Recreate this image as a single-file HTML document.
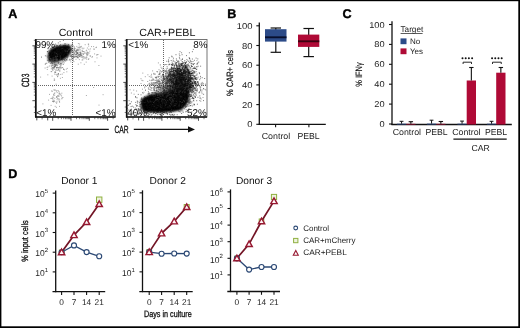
<!DOCTYPE html>
<html><head><meta charset="utf-8"><style>
html,body{margin:0;padding:0;background:#fff;}
body{width:520px;height:328px;overflow:hidden;}
svg{display:block;position:absolute;left:0;top:0;font-family:"Liberation Sans", sans-serif;text-rendering:geometricPrecision;}
#m{filter:blur(0.3px);}
</style></head><body>
<svg id="m" width="520" height="328" viewBox="0 0 520 328">
<rect x="-10" y="-10" width="540" height="348" fill="#fff"/>
<text x="8.3" y="17.7" font-size="12.6" text-anchor="start" font-weight="bold" fill="#000" stroke="#000" stroke-width="0.35">A</text>
<text x="227.3" y="17.7" font-size="12.6" text-anchor="start" font-weight="bold" fill="#000" stroke="#000" stroke-width="0.35">B</text>
<text x="342.6" y="17.7" font-size="12.6" text-anchor="start" font-weight="bold" fill="#000" stroke="#000" stroke-width="0.35">C</text>
<text x="8.3" y="177.7" font-size="12.6" text-anchor="start" font-weight="bold" fill="#000" stroke="#000" stroke-width="0.35">D</text>
<rect x="35.8" y="39.5" width="79.7" height="77.5" fill="none" stroke="#666" stroke-width="0.9"/>
<line x1="35.8" y1="39.1" x2="35.8" y2="117.6" stroke="#111" stroke-width="1.7" />
<line x1="35.199999999999996" y1="117.0" x2="115.5" y2="117.0" stroke="#111" stroke-width="1.3" />
<line x1="72.5" y1="40" x2="72.5" y2="117.0" stroke="#666" stroke-width="1" stroke-dasharray="1,1"/>
<line x1="36" y1="85.5" x2="115.5" y2="85.5" stroke="#666" stroke-width="1" stroke-dasharray="1,1"/>
<line x1="33.8" y1="112.5" x2="35.8" y2="112.5" stroke="#222" stroke-width="0.6" />
<line x1="33.8" y1="107.0" x2="35.8" y2="107.0" stroke="#222" stroke-width="0.6" />
<line x1="32.4" y1="100.7" x2="35.8" y2="100.7" stroke="#222" stroke-width="0.8" />
<line x1="33.8" y1="95.2" x2="35.8" y2="95.2" stroke="#222" stroke-width="0.6" />
<line x1="33.8" y1="92.0" x2="35.8" y2="92.0" stroke="#222" stroke-width="0.6" />
<line x1="33.8" y1="89.7" x2="35.8" y2="89.7" stroke="#222" stroke-width="0.6" />
<line x1="33.8" y1="87.9" x2="35.8" y2="87.9" stroke="#222" stroke-width="0.6" />
<line x1="33.8" y1="86.5" x2="35.8" y2="86.5" stroke="#222" stroke-width="0.6" />
<line x1="33.8" y1="85.2" x2="35.8" y2="85.2" stroke="#222" stroke-width="0.6" />
<line x1="33.8" y1="84.2" x2="35.8" y2="84.2" stroke="#222" stroke-width="0.6" />
<line x1="33.8" y1="83.2" x2="35.8" y2="83.2" stroke="#222" stroke-width="0.6" />
<line x1="32.4" y1="82.4" x2="35.8" y2="82.4" stroke="#222" stroke-width="0.8" />
<line x1="33.8" y1="76.9" x2="35.8" y2="76.9" stroke="#222" stroke-width="0.6" />
<line x1="33.8" y1="73.7" x2="35.8" y2="73.7" stroke="#222" stroke-width="0.6" />
<line x1="33.8" y1="71.4" x2="35.8" y2="71.4" stroke="#222" stroke-width="0.6" />
<line x1="33.8" y1="69.6" x2="35.8" y2="69.6" stroke="#222" stroke-width="0.6" />
<line x1="33.8" y1="68.2" x2="35.8" y2="68.2" stroke="#222" stroke-width="0.6" />
<line x1="33.8" y1="66.9" x2="35.8" y2="66.9" stroke="#222" stroke-width="0.6" />
<line x1="33.8" y1="65.9" x2="35.8" y2="65.9" stroke="#222" stroke-width="0.6" />
<line x1="33.8" y1="64.9" x2="35.8" y2="64.9" stroke="#222" stroke-width="0.6" />
<line x1="32.4" y1="64.1" x2="35.8" y2="64.1" stroke="#222" stroke-width="0.8" />
<line x1="33.8" y1="58.6" x2="35.8" y2="58.6" stroke="#222" stroke-width="0.6" />
<line x1="33.8" y1="55.4" x2="35.8" y2="55.4" stroke="#222" stroke-width="0.6" />
<line x1="33.8" y1="53.1" x2="35.8" y2="53.1" stroke="#222" stroke-width="0.6" />
<line x1="33.8" y1="51.3" x2="35.8" y2="51.3" stroke="#222" stroke-width="0.6" />
<line x1="33.8" y1="49.9" x2="35.8" y2="49.9" stroke="#222" stroke-width="0.6" />
<line x1="33.8" y1="48.6" x2="35.8" y2="48.6" stroke="#222" stroke-width="0.6" />
<line x1="33.8" y1="47.6" x2="35.8" y2="47.6" stroke="#222" stroke-width="0.6" />
<line x1="33.8" y1="46.6" x2="35.8" y2="46.6" stroke="#222" stroke-width="0.6" />
<line x1="32.4" y1="45.8" x2="35.8" y2="45.8" stroke="#222" stroke-width="0.8" />
<line x1="33.8" y1="40.3" x2="35.8" y2="40.3" stroke="#222" stroke-width="0.6" />
<line x1="36.8" y1="117.0" x2="36.8" y2="120.39999999999999" stroke="#222" stroke-width="0.8" />
<line x1="42.1" y1="117.0" x2="42.1" y2="119.39999999999999" stroke="#222" stroke-width="0.6" />
<line x1="47.7" y1="117.0" x2="47.7" y2="120.39999999999999" stroke="#222" stroke-width="0.8" />
<line x1="52.7" y1="117.0" x2="52.7" y2="120.8" stroke="#222" stroke-width="0.8" />
<line x1="58.2" y1="117.0" x2="58.2" y2="119.19999999999999" stroke="#222" stroke-width="0.6" />
<line x1="61.4" y1="117.0" x2="61.4" y2="119.19999999999999" stroke="#222" stroke-width="0.6" />
<line x1="63.7" y1="117.0" x2="63.7" y2="119.19999999999999" stroke="#222" stroke-width="0.6" />
<line x1="65.5" y1="117.0" x2="65.5" y2="119.19999999999999" stroke="#222" stroke-width="0.6" />
<line x1="66.9" y1="117.0" x2="66.9" y2="119.19999999999999" stroke="#222" stroke-width="0.6" />
<line x1="68.2" y1="117.0" x2="68.2" y2="119.19999999999999" stroke="#222" stroke-width="0.6" />
<line x1="69.2" y1="117.0" x2="69.2" y2="119.19999999999999" stroke="#222" stroke-width="0.6" />
<line x1="70.2" y1="117.0" x2="70.2" y2="119.19999999999999" stroke="#222" stroke-width="0.6" />
<line x1="71.0" y1="117.0" x2="71.0" y2="120.8" stroke="#222" stroke-width="0.8" />
<line x1="76.5" y1="117.0" x2="76.5" y2="119.19999999999999" stroke="#222" stroke-width="0.6" />
<line x1="79.7" y1="117.0" x2="79.7" y2="119.19999999999999" stroke="#222" stroke-width="0.6" />
<line x1="82.0" y1="117.0" x2="82.0" y2="119.19999999999999" stroke="#222" stroke-width="0.6" />
<line x1="83.8" y1="117.0" x2="83.8" y2="119.19999999999999" stroke="#222" stroke-width="0.6" />
<line x1="85.2" y1="117.0" x2="85.2" y2="119.19999999999999" stroke="#222" stroke-width="0.6" />
<line x1="86.5" y1="117.0" x2="86.5" y2="119.19999999999999" stroke="#222" stroke-width="0.6" />
<line x1="87.5" y1="117.0" x2="87.5" y2="119.19999999999999" stroke="#222" stroke-width="0.6" />
<line x1="88.5" y1="117.0" x2="88.5" y2="119.19999999999999" stroke="#222" stroke-width="0.6" />
<line x1="89.3" y1="117.0" x2="89.3" y2="120.8" stroke="#222" stroke-width="0.8" />
<line x1="94.8" y1="117.0" x2="94.8" y2="119.19999999999999" stroke="#222" stroke-width="0.6" />
<line x1="98.0" y1="117.0" x2="98.0" y2="119.19999999999999" stroke="#222" stroke-width="0.6" />
<line x1="100.3" y1="117.0" x2="100.3" y2="119.19999999999999" stroke="#222" stroke-width="0.6" />
<line x1="102.1" y1="117.0" x2="102.1" y2="119.19999999999999" stroke="#222" stroke-width="0.6" />
<line x1="103.5" y1="117.0" x2="103.5" y2="119.19999999999999" stroke="#222" stroke-width="0.6" />
<line x1="104.8" y1="117.0" x2="104.8" y2="119.19999999999999" stroke="#222" stroke-width="0.6" />
<line x1="105.8" y1="117.0" x2="105.8" y2="119.19999999999999" stroke="#222" stroke-width="0.6" />
<line x1="106.8" y1="117.0" x2="106.8" y2="119.19999999999999" stroke="#222" stroke-width="0.6" />
<line x1="107.6" y1="117.0" x2="107.6" y2="120.8" stroke="#222" stroke-width="0.8" />
<line x1="113.1" y1="117.0" x2="113.1" y2="119.19999999999999" stroke="#222" stroke-width="0.6" />
<rect x="126.7" y="39.5" width="80.3" height="77.5" fill="none" stroke="#666" stroke-width="0.9"/>
<line x1="126.7" y1="39.1" x2="126.7" y2="117.6" stroke="#111" stroke-width="1.7" />
<line x1="126.10000000000001" y1="117.0" x2="207.0" y2="117.0" stroke="#111" stroke-width="1.3" />
<line x1="163.5" y1="40" x2="163.5" y2="117.0" stroke="#666" stroke-width="1" stroke-dasharray="1,1"/>
<line x1="127" y1="85.5" x2="207.0" y2="85.5" stroke="#666" stroke-width="1" stroke-dasharray="1,1"/>
<line x1="124.7" y1="112.5" x2="126.7" y2="112.5" stroke="#222" stroke-width="0.6" />
<line x1="124.7" y1="107.0" x2="126.7" y2="107.0" stroke="#222" stroke-width="0.6" />
<line x1="123.30000000000001" y1="100.7" x2="126.7" y2="100.7" stroke="#222" stroke-width="0.8" />
<line x1="124.7" y1="95.2" x2="126.7" y2="95.2" stroke="#222" stroke-width="0.6" />
<line x1="124.7" y1="92.0" x2="126.7" y2="92.0" stroke="#222" stroke-width="0.6" />
<line x1="124.7" y1="89.7" x2="126.7" y2="89.7" stroke="#222" stroke-width="0.6" />
<line x1="124.7" y1="87.9" x2="126.7" y2="87.9" stroke="#222" stroke-width="0.6" />
<line x1="124.7" y1="86.5" x2="126.7" y2="86.5" stroke="#222" stroke-width="0.6" />
<line x1="124.7" y1="85.2" x2="126.7" y2="85.2" stroke="#222" stroke-width="0.6" />
<line x1="124.7" y1="84.2" x2="126.7" y2="84.2" stroke="#222" stroke-width="0.6" />
<line x1="124.7" y1="83.2" x2="126.7" y2="83.2" stroke="#222" stroke-width="0.6" />
<line x1="123.30000000000001" y1="82.4" x2="126.7" y2="82.4" stroke="#222" stroke-width="0.8" />
<line x1="124.7" y1="76.9" x2="126.7" y2="76.9" stroke="#222" stroke-width="0.6" />
<line x1="124.7" y1="73.7" x2="126.7" y2="73.7" stroke="#222" stroke-width="0.6" />
<line x1="124.7" y1="71.4" x2="126.7" y2="71.4" stroke="#222" stroke-width="0.6" />
<line x1="124.7" y1="69.6" x2="126.7" y2="69.6" stroke="#222" stroke-width="0.6" />
<line x1="124.7" y1="68.2" x2="126.7" y2="68.2" stroke="#222" stroke-width="0.6" />
<line x1="124.7" y1="66.9" x2="126.7" y2="66.9" stroke="#222" stroke-width="0.6" />
<line x1="124.7" y1="65.9" x2="126.7" y2="65.9" stroke="#222" stroke-width="0.6" />
<line x1="124.7" y1="64.9" x2="126.7" y2="64.9" stroke="#222" stroke-width="0.6" />
<line x1="123.30000000000001" y1="64.1" x2="126.7" y2="64.1" stroke="#222" stroke-width="0.8" />
<line x1="124.7" y1="58.6" x2="126.7" y2="58.6" stroke="#222" stroke-width="0.6" />
<line x1="124.7" y1="55.4" x2="126.7" y2="55.4" stroke="#222" stroke-width="0.6" />
<line x1="124.7" y1="53.1" x2="126.7" y2="53.1" stroke="#222" stroke-width="0.6" />
<line x1="124.7" y1="51.3" x2="126.7" y2="51.3" stroke="#222" stroke-width="0.6" />
<line x1="124.7" y1="49.9" x2="126.7" y2="49.9" stroke="#222" stroke-width="0.6" />
<line x1="124.7" y1="48.6" x2="126.7" y2="48.6" stroke="#222" stroke-width="0.6" />
<line x1="124.7" y1="47.6" x2="126.7" y2="47.6" stroke="#222" stroke-width="0.6" />
<line x1="124.7" y1="46.6" x2="126.7" y2="46.6" stroke="#222" stroke-width="0.6" />
<line x1="123.30000000000001" y1="45.8" x2="126.7" y2="45.8" stroke="#222" stroke-width="0.8" />
<line x1="124.7" y1="40.3" x2="126.7" y2="40.3" stroke="#222" stroke-width="0.6" />
<line x1="127.7" y1="117.0" x2="127.7" y2="120.39999999999999" stroke="#222" stroke-width="0.8" />
<line x1="133.0" y1="117.0" x2="133.0" y2="119.39999999999999" stroke="#222" stroke-width="0.6" />
<line x1="138.6" y1="117.0" x2="138.6" y2="120.39999999999999" stroke="#222" stroke-width="0.8" />
<line x1="143.6" y1="117.0" x2="143.6" y2="120.8" stroke="#222" stroke-width="0.8" />
<line x1="149.1" y1="117.0" x2="149.1" y2="119.19999999999999" stroke="#222" stroke-width="0.6" />
<line x1="152.3" y1="117.0" x2="152.3" y2="119.19999999999999" stroke="#222" stroke-width="0.6" />
<line x1="154.6" y1="117.0" x2="154.6" y2="119.19999999999999" stroke="#222" stroke-width="0.6" />
<line x1="156.4" y1="117.0" x2="156.4" y2="119.19999999999999" stroke="#222" stroke-width="0.6" />
<line x1="157.8" y1="117.0" x2="157.8" y2="119.19999999999999" stroke="#222" stroke-width="0.6" />
<line x1="159.1" y1="117.0" x2="159.1" y2="119.19999999999999" stroke="#222" stroke-width="0.6" />
<line x1="160.1" y1="117.0" x2="160.1" y2="119.19999999999999" stroke="#222" stroke-width="0.6" />
<line x1="161.1" y1="117.0" x2="161.1" y2="119.19999999999999" stroke="#222" stroke-width="0.6" />
<line x1="161.9" y1="117.0" x2="161.9" y2="120.8" stroke="#222" stroke-width="0.8" />
<line x1="167.4" y1="117.0" x2="167.4" y2="119.19999999999999" stroke="#222" stroke-width="0.6" />
<line x1="170.6" y1="117.0" x2="170.6" y2="119.19999999999999" stroke="#222" stroke-width="0.6" />
<line x1="172.9" y1="117.0" x2="172.9" y2="119.19999999999999" stroke="#222" stroke-width="0.6" />
<line x1="174.7" y1="117.0" x2="174.7" y2="119.19999999999999" stroke="#222" stroke-width="0.6" />
<line x1="176.1" y1="117.0" x2="176.1" y2="119.19999999999999" stroke="#222" stroke-width="0.6" />
<line x1="177.4" y1="117.0" x2="177.4" y2="119.19999999999999" stroke="#222" stroke-width="0.6" />
<line x1="178.4" y1="117.0" x2="178.4" y2="119.19999999999999" stroke="#222" stroke-width="0.6" />
<line x1="179.4" y1="117.0" x2="179.4" y2="119.19999999999999" stroke="#222" stroke-width="0.6" />
<line x1="180.2" y1="117.0" x2="180.2" y2="120.8" stroke="#222" stroke-width="0.8" />
<line x1="185.7" y1="117.0" x2="185.7" y2="119.19999999999999" stroke="#222" stroke-width="0.6" />
<line x1="188.9" y1="117.0" x2="188.9" y2="119.19999999999999" stroke="#222" stroke-width="0.6" />
<line x1="191.2" y1="117.0" x2="191.2" y2="119.19999999999999" stroke="#222" stroke-width="0.6" />
<line x1="193.0" y1="117.0" x2="193.0" y2="119.19999999999999" stroke="#222" stroke-width="0.6" />
<line x1="194.4" y1="117.0" x2="194.4" y2="119.19999999999999" stroke="#222" stroke-width="0.6" />
<line x1="195.7" y1="117.0" x2="195.7" y2="119.19999999999999" stroke="#222" stroke-width="0.6" />
<line x1="196.7" y1="117.0" x2="196.7" y2="119.19999999999999" stroke="#222" stroke-width="0.6" />
<line x1="197.7" y1="117.0" x2="197.7" y2="119.19999999999999" stroke="#222" stroke-width="0.6" />
<line x1="198.5" y1="117.0" x2="198.5" y2="120.8" stroke="#222" stroke-width="0.8" />
<line x1="204.0" y1="117.0" x2="204.0" y2="119.19999999999999" stroke="#222" stroke-width="0.6" />
<defs><filter id="bl1" x="-50%" y="-50%" width="200%" height="200%"><feGaussianBlur stdDeviation="0.9"/></filter><clipPath id="cp1"><rect x="35.7" y="40" width="79.5" height="77"/></clipPath><clipPath id="cp2"><rect x="127.2" y="40" width="79.5" height="77"/></clipPath></defs>
<g clip-path="url(#cp1)">
<path d="M47.8 56 C47.8 52 50.5 48.5 55 46.8 C60 45 66 44.3 69.5 45.2 C72 46.2 72 50 70 54 C68 57.5 63.5 60 57.5 61.8 C53 63 49.5 62.5 48.3 60.5 C47.8 59 47.8 57.5 47.8 56 Z" fill="#000" filter="url(#bl1)"/>
<path d="M59.9 54.6h0m-3 -4h0m-1 -0.1h0m5.6 8h0m-5.4 -6.5h0m6.4 2h0m-3.6 -4.2h0m1.3 6.4h0m-8.4 -2.1h0m-4 -2.2h0m1.6 3.9h0m3.7 0.9h0m7 -4.2h0m-14.7 3.3h0m14 -1.8h0m-8.6 0.3h0m2.5 -2.2h0m10.9 -3.5h0m-3.8 8.3h0m-4.1 -2.8h0m3.9 -0.5h0m-7.1 2.3h0m11.7 -10.6h0m-0.6 7.2h0m-5.6 9.7h0m3.5 -14.6h0m-1.5 8h0m-1.3 0.8h0m0.7 -0.2h0m6.3 -7.8h0m-6.3 3h0m-1.3 -2.6h0m-2.5 5h0m9.5 2.5h0m-14.2 -3.5h0m9 -8h0m-3.6 9.1h0m10.1 0h0m-9.7 -1.2h0m2.8 7h0m-3.3 -6.6h0m4.4 -0.7h0m-4.1 -2.8h0m1.8 2.2h0m7.6 2.2h0m-6.3 2.1h0m-1.2 2h0m1.2 -2.4h0m-7.1 1.4h0m-5.1 -8.4h0m8.8 1.9h0m6.3 11.2h0m-8.8 -9.2h0m6.9 2.4h0m-2.9 -2h0m5.6 1.3h0m-10 0.7h0m4.5 -5.6h0m1.4 0.4h0m5.1 2.8h0m-5.7 -1.5h0m-2.8 -5h0m-2.5 10.7h0m-4.7 3.6h0m1.9 -1h0m4.9 -1.5h0m2.3 -10.5h0m9.6 9.4h0m-9.1 -4.2h0m-1.4 -2.5h0m7.3 -0.6h0m-6.5 1.1h0m-3.6 -0.9h0m11.4 1h0m-1.3 1.2h0m-9.3 1.6h0m1.1 1h0m0.6 -1.5h0m-5.9 -0.2h0m16.3 -4.7h0m-13.2 8.5h0m10.9 -11.1h0m-7.6 6h0m-6.6 7.8h0m8.5 -5.5h0m-3.4 2.7h0m0.4 -2.6h0m-4.4 -3.1h0m13.9 -1.5h0m-5 3.6h0m-4.5 -0.6h0m6 -1h0m-3.8 2.5h0m7.9 0.3h0m-5.8 -3.4h0m-7.5 8.8h0m11.2 -8.2h0m-1.1 4.2h0m1.7 0.1h0m-6.2 4.5h0m-5 -1.2h0m9.3 -2.9h0m8.1 -0.1h0m-20 -6.8h0m11.3 -0.9h0m-2.1 8.5h0m-12.4 -8.4h0m12.8 4.9h0m-2.7 0.9h0m-5.2 -4.9h0m4.4 0.9h0m-6 8.2h0m8.3 -3.1h0m-6.3 -2.5h0m-0.3 -0.8h0m6.5 -1.7h0m2.2 4h0m6.8 -9.5h0m-4.5 6.9h0m-6.5 -3.6h0m0.4 9.1h0m1.2 -3.1h0m0.2 4.4h0m-2.7 -13.2h0m-3.3 2h0m-11.9 9.9h0m25.2 -5.7h0m-14.6 0.6h0m13.6 0.1h0m-6 1.1h0m1 3.3h0m2 -3.1h0m-8.1 3.8h0m2.6 1.6h0m-4.6 -3.6h0m5.2 -6.7h0m12.7 7.6h0m-12.5 1.1h0m0.3 -14.3h0m2.5 9.9h0m-2.2 -3.5h0m-0.8 4h0m8.4 -0.6h0m-4.8 6.6h0m-5.3 -6.3h0m-4.3 9.6h0m14 -7.3h0m-2.6 -2.5h0m-2.9 -0.6h0m-1.8 1.9h0m9.7 -1.1h0m-9.7 -1.6h0m-0.4 9.3h0m4.2 -7.8h0m-6 -3h0m3.9 7h0m-3.1 -3.6h0m1.4 1h0m-7.8 1.1h0m5.3 2.9h0m0.1 -1.3h0m11.1 -7.3h0m-10.7 5.6h0m1.8 -5.6h0m6.1 10.7h0m-6.5 -7.2h0m-3.6 3.3h0m-2.8 -5.1h0m13.7 -3.6h0m1.9 9.6h0m-5.5 -2.2h0m8.1 -5.8h0m-15 0h0m6.9 9.7h0m1.8 -10.8h0m-9.1 4.8h0m6.5 -0.9h0m0.2 2.1h0m-3.1 -0.4h0m2.6 -1.1h0m4 6.9h0m-1.8 -7h0m-11.7 5.2h0m-3.6 -6.4h0m17.5 3.2h0m-8.3 -7.4h0m0.1 4.3h0m9 9.4h0m-6 -10.8h0m-6.5 5.1h0m3.9 -5.9h0m1.6 -0.5h0m8 6.7h0m-2 -5.8h0m-2.6 2.3h0m-5.1 0.8h0m-6.2 -2.6h0m12.7 1.1h0m-1.6 5.5h0m-12.6 -3.4h0m11.6 1.2h0m-2.1 3.4h0m0.3 -9.6h0m-3.6 9.7h0m4.1 -12.7h0m7.8 7.9h0m-1.2 -3.7h0m-9.7 0h0m16.3 -1.3h0m-5.6 -0.1h0m-8.9 -1.4h0m0.4 11h0m-4.5 1.8h0m5.8 -10.8h0m-3.7 3.7h0m2.3 -1.1h0m-3.9 2.3h0m-2.3 -3.4h0m7.9 6.5h0m-8.9 -0.7h0m3.4 -5.3h0m8.6 -0.8h0m3.1 -2.2h0m-5.2 4.1h0m-5.1 5h0m3.2 -0.9h0m-1.5 -6.6h0m1.1 4.4h0m4.5 -5.5h0m-6.3 -1.4h0m4.4 1.3h0m-11.8 8.1h0m13.7 -10.6h0m-10.7 6.8h0m1.2 4.3h0m0.3 -4.7h0m7.4 -2.6h0m-1.1 -0.5h0m-9.8 -0.5h0m18.2 0.5h0m-8.2 3.9h0m-0.4 0.4h0m8 -7.2h0m-18.4 6.1h0m3.3 6.4h0m9.4 -10.3h0m-11 6.2h0m11.7 -14.2h0m-2.4 8.1h0m2.7 -0.9h0m-7.6 0.7h0m-0.1 12.2h0m7.4 -9.9h0m-10.9 -2.8h0m4.9 6.3h0m1.5 -0.8h0m-5.5 1.9h0m7.5 3.3h0m8.4 -8.8h0m-14 4.9h0m0 -2.9h0m2.6 -2.1h0m4.7 2.5h0m-2 0.3h0m-6.1 -1.2h0m3.1 0.6h0m3.1 1.3h0m-8.4 3h0m-0.7 -2.6h0m3.8 -7.4h0m4.8 7.8h0m-2.1 -1.7h0m-1.8 -1.8h0m1.1 1.5h0m1.1 -3.1h0m2.4 4.8h0m-2.7 -1.5h0m2.2 -5.9h0m1.9 7.4h0m-0.8 0.9h0m-5.8 -0.9h0m7.7 0.4h0m-4.7 -6.6h0m5.1 9.6h0m1.4 -4.4h0m-12.8 7.2h0m3.2 -15.7h0m4.1 3.1h0m-7.9 6.1h0m14 -3.4h0m-2.7 9.8h0m4.8 -9.4h0m-11.2 -1.2h0m-0.4 7.2h0m5.4 -3.1h0m2.1 -4.4h0m-3.7 7.6h0m3.8 0.2h0m-2.7 -5h0m-1 -2.5h0m-8.7 9.4h0m8.1 -3.7h0m-9.6 0.2h0m5.2 -3.7h0m-8.1 4.8h0m17.6 -2.7h0m-8.4 1.1h0m3.8 -12.8h0m-0.6 14.1h0m5.7 3h0m0.7 -6.1h0m-3.8 3.3h0m-5.5 -1.7h0m10.1 5.1h0m-8.1 -5.8h0m3.6 4.7h0m-1 0.8h0m-7.1 -4.6h0m5.3 2.3h0m3.8 -10.9h0m-8.2 10.5h0m-0.9 -7.6h0m11.5 4.8h0m-4.1 -2.8h0m3.2 0h0m-0.5 -2.7h0m-9 7.7h0m1.4 1.5h0m3.1 -7.8h0m-0.2 2.5h0m4.1 -2.5h0m-4.9 9.4h0m15.2 -1.7h0m-13.8 -3h0m7.4 -3.8h0m-13.1 5.2h0m6.5 -6h0m-11.9 1.3h0m13.1 -1.4h0m-3.1 5.1h0m3.4 -3.4h0m-1.3 -1.9h0m-4.8 0.9h0m9.2 1.2h0m-10.4 2h0m4.1 3.1h0m-9.5 -4.2h0m10.9 11.5h0m3.9 -12.4h0m1.3 8.7h0m-8 -7.6h0m8.8 0.8h0m-4.2 -2.9h0m9.5 6.3h0m-8.5 -1.6h0m-13.9 4.3h0m9.5 -3.9h0m3.7 -4.5h0m-11.7 6.8h0m4.1 -4.3h0m0.8 -0.3h0m-7.2 8.9h0m13.5 -4.8h0m7.9 -7.1h0m-21.3 3h0m3.7 0.5h0m4.9 -8h0m2.1 1.5h0m1.4 5.4h0m-3.2 1.2h0m-1.8 -1.7h0m-5.4 4.2h0m21.3 1.5h0m-4.4 -3.9h0m-9.7 6.3h0m1.4 -6.9h0m-1 1.1h0m-1 -0.5h0m-3.8 0.1h0m18.3 -4.7h0m-12.7 6.6h0m3 -7.9h0m-2.4 9.4h0m1.6 -3.9h0m5.8 -5.3h0m-7.6 3.2h0m5.7 -7.9h0m-9.7 9.1h0m8.5 2.1h0m1.2 -9.6h0m-1.9 6h0m-6.5 5.6h0m-4.6 -9.5h0m3.7 1.2h0m0.8 7.6h0m6.6 3h0m-6.6 -11h0m-2.2 3.3h0m-0.7 6h0m0 -10.2h0m9.5 4.8h0m-1.6 1.4h0m1.4 -0.7h0m3.7 0.4h0m-4.5 1.4h0m-10.6 1h0m6.9 -0.7h0m-4.1 7.4h0m4.3 -13.4h0m-8.5 6.7h0m8 -4.5h0m1.1 0h0m2.3 -1.1h0m-1 7.5h0m11.5 -12.1h0m-16 5.9h0m6.3 -3.3h0m-5.4 6.4h0m-3.8 -2.6h0m1.3 -5.3h0m-3.1 8.1h0m8.8 -1.9h0m-10.6 2.3h0m14.9 -0.6h0m-6.4 -3.9h0m4.1 -0.1h0m-9.8 2.3h0m15.2 -0.7h0m-2.4 -2.1h0m-1.3 -0.1h0m-2.1 13.6h0m1.3 -12.9h0m-3.5 4.6h0m5.8 -5.4h0m-15.4 5.9h0m9.8 -1.5h0m7.2 -1.5h0m-4.4 -4.5h0m4.2 12.1h0m-2.8 -6.9h0m-1.4 6.9h0m-8.1 -5.3h0m8.5 0.8h0m-5.3 -0.1h0m0.6 -1h0m-0.8 -5h0m3.1 7.5h0m-6.4 -2.6h0m7.6 -6h0m-2.5 0.9h0" stroke="#111" stroke-width="0.55" stroke-linecap="square" fill="none"/>
<path d="M62 67.7h0m-1.4 -9.4h0m-3.8 3.6h0m0.3 5.6h0m-5.8 1.3h0m5 -1.4h0m-2.8 -6.8h0m2.7 4.1h0m-1.2 -0.3h0m-6.5 -6.8h0m9.8 5.7h0m-3.7 -0.4h0m2.2 -3.4h0m-5.6 4.3h0m4.5 -7.4h0m1.3 2.3h0m-4.6 10.3h0m-1 -9.7h0m3 7.2h0m3 -7.2h0m-0.7 5.1h0m-4.3 1h0m0.6 -4h0m-0.6 2.8h0m0.7 -3h0m1.4 6h0m1.8 -1.9h0m2.9 -2.9h0m1.2 -6.4h0m-4.2 4.4h0m7.2 4h0m-17.9 -0.4h0m12.2 0.1h0m-1.3 -2.8h0m0.3 2.8h0m-1.2 2.2h0m-8.2 3.1h0m4.8 -1.4h0m-0.4 -7.2h0m2 -1.3h0m-5.6 0.6h0m6.7 4.5h0m2.5 -4.1h0m0.4 0.5h0m-3 3.9h0m2.4 -5.1h0m-4.2 3.2h0m-0.2 -2.9h0m4.2 -0.4h0m-2.7 -0.1h0m1.7 3.9h0m0.2 6.5h0m2.3 -2.4h0m-2.2 -8.5h0m-2.8 6h0m0.9 -2.1h0m-4.5 -4.9h0m-0.5 -1.4h0m4.7 3.4h0m-2.9 3.7h0m1.3 -5.7h0m-6.3 5.2h0m-0.9 0.9h0m12.5 -7.6h0m-3.8 0.9h0m0.6 3.9h0m0.3 3.4h0m5.6 -4.7h0m-7.7 -0.3h0m2.9 1.3h0m1.2 0.1h0m-0.2 -7.7h0m-2.1 12.8h0m-3.1 -5h0m-0.7 -2h0m8 10.9h0m-2.7 -12.9h0m-5.7 6.2h0m5.7 -5h0m-2.8 8.6h0m3.1 -7h0m-8.9 0.4h0m0.3 -2.9h0m7.8 2h0m3.4 8.1h0m-2.9 -10.5h0m3 7.6h0m-9.3 -3.2h0m1.1 -3.2h0m4.1 -5.6h0" stroke="#555" stroke-width="0.5" stroke-linecap="square" fill="none"/>
<path d="M70.2 53.2h0m6.3 1.1h0m3.3 -1.8h0m5.4 -7.8h0m-7.4 6.1h0m1.2 3.5h0m-7.6 -2.7h0m12.2 2.7h0m-9.7 7.3h0m19.7 -15h0m-12.7 16.2h0m2.6 -8.9h0m-7.1 -2.3h0m-0.1 -0.1h0m6.8 0h0m-8.6 -2.3h0m2.9 0.9h0m-0.3 7.5h0m3.6 -2.4h0m-0.2 -1.7h0m-3.5 -1.1h0m5.9 -3.5h0m4.5 3.9h0m-14.8 -0.7h0m0.7 2.4h0m0.1 3.8h0m-1.6 -12.9h0m0.4 0.9h0m5.9 11.2h0m4 -9.5h0m-8.8 12.7h0m6.9 -7.4h0m6 8.8h0m0.9 -8.9h0m-6.4 2.4h0m-7.3 -5.7h0m4.7 0h0m-0.5 4h0m16.4 -5h0m-16.9 4.1h0m4.3 4.2h0m-7.1 -6.5h0m-8 0.3h0m15.5 2.3h0m-11 -0.6h0m7.6 2.7h0m-4.6 -2.5h0m-8.9 -2.6h0m23.7 -6.1h0m-12.9 10.3h0m-0.6 -3.8h0m2.5 2.8h0m-0.8 -7.1h0m-0.1 4h0m-2.4 4.3h0m8.5 1.8h0m-8 0.8h0m11.8 -0.2h0m1 -5h0m-10.5 4.6h0m-8.6 -1.6h0m5.7 -2.7h0m-8.6 -1.2h0m12.6 5.7h0m6.7 -4.3h0m-8.5 -2.1h0m4.3 1.8h0m2.1 7.5h0m-5.5 -11.9h0m-5.8 0.6h0m-1.4 10.7h0m9 -11.6h0m3.9 10.3h0m-7.7 -6.7h0m0.4 3.6h0m7.2 2.8h0m3.9 -0.4h0m0.9 -2h0m-20.4 -1.3h0m12.8 -2h0m4.1 -0.3h0m-12.2 7.9h0m10.7 -5.6h0m2.1 3.1h0m-5.2 -13h0m-6.5 8.2h0m-1.9 2.7h0m15 -4h0m-15.4 11h0m3.6 -12.8h0m5.4 5.9h0m-6.5 1.9h0m1 -6.6h0m5.2 6h0m-5.8 -1.2h0m4.6 9.1h0m-4.8 -5h0m4.1 -6.1h0m5.7 3.3h0m3.6 -2.4h0m-13.3 -2.2h0m8.1 3.6h0m6.2 -1.2h0m-2 4.4h0m-7.2 -10.8h0m-9.4 1h0m19.5 0.5h0m-2 5.7h0m3.5 1.3h0m-13.1 -3.5h0m1.5 1.3h0m-4.4 -0.4h0m14.4 -7.6h0m-9.2 3.8h0m0.1 6.7h0m-1.7 -0.1h0m-10.6 2.2h0m6.7 -2.5h0m4.4 -12.6h0m-5.6 11.2h0m16.1 -1.2h0m-9.6 -5.6h0m9.3 11.5h0m-10.5 -6.8h0m-11.1 5.1h0m30.1 -3.2h0m-10.1 0.2h0m-15.4 4.4h0m-2.3 -5.7h0m10.9 3.2h0m0.8 -2h0m-8.7 -5.6h0m5.9 1.7h0m-9.7 -1.3h0m5.5 -2.7h0m-5.9 1.3h0m11.3 6.8h0m12.1 -8.3h0m-17.9 10.8h0m2.8 -5h0m13.4 -1.2h0m-20.3 -2h0m10.9 5.3h0m-12.3 -3.9h0m13.8 4.8h0m-8.2 0.8h0m7.7 -9.8h0m-5.4 8.9h0m-2.7 -9.5h0m3 10.7h0m12 -12.3h0m7.6 3.4h0m-10.8 10h0m-0.2 -4.1h0m-14.8 3.1h0m2.1 -12.2h0m25.8 10.1h0m-7.6 -5.6h0m-1.6 9.7h0m0 -6.1h0m-19.2 1.1h0m-7.5 -5.2h0m16.2 1.3h0m-1.5 3.5h0m15.1 4h0m-13.8 0.9h0m-5.6 -5.4h0m11.4 -4.5h0m-8.3 0.5h0m3.8 10.9h0m-6.6 -4.8h0m-1.4 -5.1h0m-1.5 10.1h0m24.7 -5.9h0m-21.4 2.7h0m2.7 0.1h0m4.2 -2.3h0m1.9 -3.5h0m-7.4 -3.7h0m-0.2 1.2h0m2.3 1.6h0m2.2 5.2h0m-11.1 -3.9h0m3.9 5.6h0m18.5 -1.2h0m-14.2 3.6h0m-8.1 0.8h0m4.6 -16.7h0m24.5 14.5h0m-26.1 -3.1h0m5.6 -0.8h0m-9.1 -2.2h0m13.9 2.3h0m5.1 -1h0m7.7 -3.7h0m-14.9 -3.3h0m-9.5 13.2h0m1.9 -3.2h0m5.6 -6.5h0m-1.8 2.2h0m-0.5 4.9h0m7.5 -5.8h0m-10.6 4.2h0m5.8 2.4h0m19.2 -2.4h0m-19.1 -2.2h0m-6 -2.3h0m-0.8 2h0m4.4 4h0m-0.1 -3.6h0m-5.2 7.5h0m12.1 -0.5h0m2 -1.3h0m-7.6 -2.3h0m20 -9.2h0m-9.7 12h0m-5.6 -3.1h0m5.5 -5.9h0m-6.1 -0.3h0m-7.6 1.6h0m4 2.7h0m3.7 -6.5h0m11.8 9h0m-9.4 -5h0m-5.6 4h0m2.9 -9h0m3.9 17.6h0m-19.2 -5.8h0m15.5 -5.7h0m6.8 -4.8h0m-29.6 28.3h0m-1.7 -10.7h0m1.4 -0.1h0m6.7 -2.6h0m-3.2 -2h0m-0.9 6.5h0m-15 0.6h0m7 -2.5h0m12 -3.8h0m-12 14.4h0m5.4 0.6h0m1 -13.7h0m-1.8 12h0m4.7 -7h0m-4.2 -0.6h0m-2.9 11.5h0m2.7 -17.3h0m-2.2 10.5h0m5.2 -4.9h0m-6.1 0.9h0m-4.6 -7.5h0m11.4 4.7h0m-2 9.6h0m1.3 -6.8h0m6.8 3.7h0m-11.4 0.3h0m3.5 -8.9h0m-1.6 3.9h0m-9.4 -0.1h0m7.8 -1.5h0m-6.3 0.5h0m7.4 2.6h0m-5.1 3h0m-0.3 -4.9h0m11.6 -2.6h0m-8.4 10h0m0.6 -7.8h0m2.8 7.6h0m-11.2 -10.6h0m5.5 -1.4h0m0.7 1.4h0m5.4 -0.3h0m-0.8 7.3h0m-4 -1.6h0m10.9 1.1h0m-10.4 -2.2h0m-1.3 1.9h0m8.2 -6.1h0m-5 10.9h0m-1.3 -5.2h0m-2.4 -5.7h0m2.3 16.6h0m0.6 -14.9h0m-0.7 2h0m5.5 1.9h0m6.3 0.2h0m-2.8 0.3h0m-3.8 -9.4h0m-3.3 7.5h0m-0.5 -11.4h0m5.1 9.7h0m-6 0.7h0m1 3.6h0m-4.7 -7.3h0m7 5.9h0m-3 -4h0m-2.1 2.9h0m9.1 -5.5h0m1.6 10.4h0m-8.9 -0.3h0m-4.6 -13.8h0m0.8 7.2h0m4.3 -0.5h0m1.9 -8.9h0m1.8 3.9h0m-5.2 5.5h0m-2.2 -5.2h0m0.7 7.4h0m7.2 3.2h0m-7.2 -7.5h0m0.4 6.9h0m-5.1 4.3h0m7 -11.1h0m3.7 10h0m0 0.1h0m-0.9 1h0m5 -7.3h0m0.9 1.4h0m-6.1 -6h0m-1.7 9.4h0m-4.6 -0.7h0m7.5 -2.1h0m-11.5 -2.1h0m12.8 -3.6h0m-2.5 -8.9h0m2.6 9.5h0m0.9 -6.5h0m-0.8 8.8h0m0.5 -3.8h0m-6.4 17.4h0m-0.9 -16.2h0m2.5 -1.7h0m6.6 15.1h0m-8.6 -19h0m8.5 15.6h0m-1.6 0.3h0m-7.6 -7.3h0m-2.3 -6.9h0m10.6 4.1h0m5.9 4.1h0m-13.3 31.9h0m7.8 -1.5h0m-9.7 -0.5h0m8.3 -4.2h0m-6.9 7.3h0m2.9 -10.2h0m-1.6 1.7h0m2.1 4.1h0m2.8 2.9h0m-8.7 -1.4h0m7.9 0.2h0m0.4 -4.8h0m-6.3 7.1h0m-0.4 -14.9h0m6.7 6.9h0m-4.3 -3.2h0m-3.2 1.1h0m3 7.4h0m-6.2 1.8h0m3.6 -8.7h0m6 4.7h0m-7.1 9.3h0m2.1 -7.7h0m3.4 5.6h0m-2.1 -2h0m-0.9 0.6h0m0 -7.1h0m8.5 3.2h0m-5.7 9.3h0m0.8 -14.7h0m1.2 -1.8h0m1.2 11.5h0m-5.4 -8.8h0m2.4 3.1h0m-3.7 2.6h0m-3.4 -4.8h0m5.2 0.8h0m2.3 -4.6h0m0.9 5h0m-4 -5.7h0m-1.7 8.3h0m0.7 -1.4h0m6.5 4.7h0m1.6 -6.4h0m-8.5 6.3h0m4.5 0.5h0m-1 0.3h0m2.7 -2.3h0m-1.1 -1.5h0m-0.9 -0.8h0m2.5 -3.6h0m2.4 2h0m-2.4 0.1h0m-4 10.2h0m-0.2 -15.9h0m-1.3 4.6h0m9.2 2.5h0m-3.9 -5.8h0m-1.9 8h0m4.7 -6.5h0m-18.9 10.7h0m52.1 -42.1h0m-22.7 33.2h0m21.3 -7.5h0m-33.7 -16.6h0m12.7 26.1h0m26.4 8.1h0m-58.4 -28h0m18.9 29.3h0m14.6 -52.8h0m26.9 2.5h0m-43 40.1h0m40.9 -30.7h0m-42.8 18.7h0m4.3 -5.9h0m18.6 -23.5h0m7.4 40.7h0m16.7 -0.8h0" stroke="#555" stroke-width="0.5" stroke-linecap="square" fill="none"/>
</g>
<g clip-path="url(#cp2)">
<path d="M140.8 102.5 C140.5 98 146 95.5 153 94 C162 92 172 91 180 88.5 C186 87 190 89 189.5 95 C189 101 187 106.5 181 110 C172 113 155 113 146 112.3 C141.5 111.3 140.8 107.5 140.8 102.5 Z" fill="#000" filter="url(#bl1)"/>
<path d="M169.2 101.3h0m0.1 2.1h0m14.4 -4.3h0m8.4 -6.3h0m-18.8 2.6h0m15.5 1h0m-23.7 11.2h0m15.5 -14.1h0m-21.5 2.3h0m7.6 5.8h0m-7 -2h0m-0.5 -0.2h0m14.3 10.1h0m-34.3 -3.1h0m20.7 -0.3h0m-7.7 -2.2h0m-0.4 4.8h0m14.4 -7.3h0m3.5 -1.1h0m-24.8 9.1h0m23.8 -8.4h0m10.6 5.8h0m-29.6 -6h0m37.2 5.8h0m-32.8 -8.8h0m1.9 3.5h0m-12 5.1h0m2.8 -7.5h0m29.7 -2.2h0m-11.8 9.4h0m10.8 -7.3h0m-10.7 -0.9h0m24.1 4h0m-38.6 3.2h0m24.6 -1.7h0m15.7 2.2h0m-32.9 -2.3h0m-9.5 3.6h0m21.4 9.9h0m-5.3 -25.9h0m-8.1 13.8h0m-8.7 -4h0m13 4.5h0m1.5 -7.1h0m13 -0.4h0m-18 -1.5h0m-1.8 11.7h0m-11.8 -2h0m30.8 -7.1h0m-7.1 -2.9h0m16.4 9.5h0m-17 -13h0m-14.5 17.8h0m36.1 -10.1h0m-7.1 -3.8h0m-18.5 6.7h0m6.7 -9.8h0m9.6 14.3h0m-30.4 -9.6h0m20.6 0.2h0m-34.7 14.3h0m32.3 -12.8h0m26.6 -1.3h0m-38.1 6.5h0m-4.7 -4h0m19.2 -2.2h0m-9 14h0m16.6 -7.8h0m-4.7 -0.9h0m11.8 -4.9h0m4.5 -6h0m-28.5 2.6h0m0.6 10.5h0m22.8 -10.6h0m-19 5h0m-10.7 -2.7h0m10.2 -4.8h0m2.3 9.4h0m-11.2 -3.8h0m-6.9 17.3h0m0.2 -1.8h0m24 -15h0m-22 11.8h0m36.5 -17.5h0m-25.1 15.5h0m9.4 3.6h0m-13.5 -5.7h0m-7.5 10h0m2.8 -24.5h0m10 9.7h0m26.9 -5.8h0m-24.7 9.5h0m20.6 -7.3h0m-6.7 4.5h0m-18.2 0.7h0m3.4 -6.1h0m15.3 -5.4h0m1.7 12.8h0m-18.5 -6.3h0m-0.6 7h0m12.8 -3.3h0m2.5 -5.1h0m-11.1 -3.7h0m8.7 8h0m-14.7 8.3h0m10.9 -24.2h0m-7.4 8.9h0m17.5 19h0m-23.4 -9.4h0m3.8 0.9h0m12.8 3h0m-21.4 5.3h0m-0.5 -7.1h0m28.2 -2.6h0m-29.2 -2.7h0m6.9 2.4h0m20.2 -10.5h0m-7.2 11.9h0m1.1 -1h0m12.8 -2.1h0m-8.8 1.9h0m10.1 -15.5h0m-5.2 10.1h0m-21.5 -0.2h0m-20.5 6.9h0m16.5 2h0m-9.5 6.9h0m21.6 -13.2h0m-13.6 -0.6h0m-5.3 2.3h0m15.4 -0.7h0m-19 2.9h0m7.4 1.1h0m37.1 -4h0m-31.1 -7.1h0m-14.7 2.3h0m29.3 0h0m-8.7 2.3h0m2.4 10.9h0m-12 -7.6h0m-0.5 6.8h0m-4.8 -10.3h0m-5.1 -0.7h0m28.5 17.2h0m-21 -5.3h0m14.6 -14.1h0m-6.2 6h0m-3.4 12.7h0m-17.7 -5.6h0m28.9 -10.4h0m-1.1 8.3h0m-0.4 -2.5h0m4.9 -14.5h0m14.5 21.5h0m-7.8 -5.7h0m-32.8 -0.5h0m7.4 -4h0m23.5 -5.3h0m-15.7 -3.4h0m1.6 10.9h0m-8.1 -3.1h0m34 -8.8h0m-38.6 9.1h0m32.6 10.5h0m-14.2 -13.3h0m-8.4 11.5h0m-6 3.2h0m29.6 -12.9h0m-9.6 5.4h0m10.4 -11.8h0m-4.4 4.5h0m-25.4 7.2h0m6.3 -7.2h0m-18.3 3.4h0m43.3 8.6h0m-11.4 -2.3h0m-16.7 -4.1h0m9.6 -7.3h0m-15.8 9.3h0m7.8 -7.8h0m10.2 2.7h0m8.7 -0.1h0m-17.5 3.8h0m1 -4.6h0m-1.7 8.2h0m14.4 0.5h0m-32.7 -3.7h0m17.6 0.1h0m-1.2 -3.6h0m17.1 0.8h0m-24.8 10.9h0m26.9 -15.4h0m-2.4 -0.5h0m4.5 2.1h0m-25.8 3.7h0m1 2.9h0m12.4 -3h0m-13.3 -18.3h0m10.3 8h0m4.9 16.1h0m-1 -8.4h0m-5.8 2.5h0m-5.4 -1.6h0m-3.2 10.5h0m11.8 -3.4h0m-4 -4.2h0m1.5 1.9h0m13 -3.5h0m-20.9 -2h0m31.5 -2.8h0m-24.3 14h0m17.5 -8.3h0m-18.1 13.4h0m8.8 -11.7h0m-9.3 -9.3h0m-13.8 12.6h0m22.4 -7.5h0m-22 -2.9h0m11.3 -2h0m18.8 11.2h0m25.4 -6h0m-47.2 -1.4h0m-37.8 8.2h0m45.1 0.8h0m10.1 -3.9h0m-5.2 1.3h0m14.7 -12.3h0m-25.6 2.8h0m30.2 9.6h0m-13.9 -11.5h0m-6.8 6.6h0m-1.2 0.5h0m5.6 -2.2h0m5.1 2.7h0m-15.6 0.8h0m-1.1 5.3h0m1.8 -3.2h0m-3.3 -9.3h0m17.6 -0.8h0m-1.6 8.6h0m-32.3 -1.9h0m15.3 -2h0m-7.4 10h0m12.2 -4.1h0m-2.6 0h0m-4.6 -1.1h0m17.8 -2.7h0m-14.9 -3.7h0m9.7 6.3h0m-6.8 -5.1h0m13.8 15.8h0m-13.3 -9.7h0m6.3 -17.3h0m-1.6 10.7h0m17.2 -0.5h0m-28.7 5.2h0m12.2 -4h0m-3.7 -3.8h0m-0.3 11.9h0m29.2 -5.5h0m-22.2 6.6h0m10.4 0.8h0m-0.8 -9.8h0m-10.7 3.6h0m0.6 0h0m-16.6 -10h0m1.5 0.2h0m11.8 9.3h0m-22.5 7.8h0m33.2 -9.2h0m12.4 7.7h0m-39 2.2h0m21.3 -7.2h0m5.4 -7.3h0m-20.4 3h0m-1.4 4.3h0m-10.2 -3.5h0m27.9 0.6h0m-4.3 -9.4h0m-14.3 9.9h0m10.9 -2.1h0m12.5 0.8h0m-12.2 2.5h0m8.8 -4.2h0m6.4 4.1h0m-13.3 0h0m5.8 4.4h0m5 -4.5h0m-1.1 -1.2h0m4.8 -1.7h0m-42.9 15.2h0m26.6 -18.7h0m-3.8 2.3h0m31.9 2.1h0m-48.7 8.8h0m16.8 4.7h0m-12.6 -21h0m16.6 7.7h0m-8.1 -8.6h0m14.9 18.7h0m-31.6 2.7h0m19 3.3h0m10.9 -16.1h0m9.6 2.3h0m-22.4 4.9h0m-1.3 -13.7h0m35.2 1.8h0m-34.5 10h0m-14.2 -7h0m14.9 2.1h0m9.1 7.5h0m-7.8 -2.1h0m12.8 -11.1h0m-4.9 1.7h0m12.5 5.6h0m-15.7 -7.3h0m1.9 2.9h0m8.5 2.1h0m-19.2 9.2h0m18.9 -11.8h0m6.2 0.6h0m-19.2 5.7h0m-6.4 -2h0m9.7 9.3h0m20.4 -13.6h0m1.7 0.9h0m-15.5 7.9h0m0.3 8.5h0m-4.1 -19.5h0m14.9 1.8h0m-23.9 -10.2h0m21 17.6h0m-2.5 1.3h0m10.8 -7.6h0m-10.6 -2h0m-15.5 12.8h0m7.6 -14.7h0m0.7 6.3h0m-15.1 6.1h0m3.6 -11.9h0m-6.2 19.8h0m-6.8 -7.4h0m28.6 -2.8h0m-25.3 -0.9h0m19.2 2.9h0m-12.3 -8.8h0m24.1 8.4h0m-10.1 -7.8h0m1.2 3.8h0m4.4 -8.3h0m-8.5 7.6h0m-15.9 4.9h0m14.6 -6.1h0m3.8 -6.3h0m-4.2 11.1h0m5.1 2.7h0m-22.2 -10.6h0m21 7.3h0m25.2 -3.5h0m-39.6 8h0m-1.9 -12.5h0m47.7 1.7h0m-25 5.8h0m14.4 -4.1h0m-9.2 -5.7h0m-32.3 19.4h0m37.2 -11.7h0m-16.9 1.1h0m-10.9 9.5h0m16.9 -8.7h0m-3.2 3.6h0m1.4 -1.9h0m-22.5 2.6h0m43.7 -13.4h0m-29.5 13h0m14.2 -4h0m-34.3 5.4h0m4.5 -8.2h0m23.5 -1.2h0m6.8 18.1h0m-2.8 -13.1h0m-23.5 -3.5h0m-2.1 1h0m-0.5 -0.6h0m11.4 -3.9h0m-16.5 0.9h0m26.3 3.3h0m8.5 4h0m-18.5 1.1h0m-13.1 11.3h0m32.7 -19.7h0m-30.8 8.8h0m-10.5 -4.6h0m35.6 -1.5h0m-15.6 7.6h0m-7.9 -2.3h0m6.1 -7.4h0m12.6 -3.1h0m19.5 -1.1h0m0.7 -3h0m-18.5 2.7h0m-24.6 11.9h0m25.5 -12.5h0m7.2 1.4h0m-12.9 8.8h0m4.1 -12.8h0m15.9 10.3h0m-28.7 -3.7h0m-17.2 1.1h0m30.7 0.3h0m-22.4 2.9h0m36 -5.3h0m-27 14.2h0m12.7 -9.5h0m-15.8 -6.2h0m-6.4 7.1h0m13.4 2.3h0m10.1 -2.5h0m-5.5 -5.9h0m-31.1 8.2h0m15.8 -3.5h0m8.5 -4.8h0m-10.1 8.2h0m15.8 -5.9h0m5.5 1.4h0m-19.9 5h0m37.9 -10.7h0m-7.6 12.8h0m2.3 -12.7h0m7.8 3.9h0m-30.5 3.4h0m11.6 -0.4h0m-9.1 8.5h0m-9.5 -11.4h0m21.8 6h0m2.3 -10.4h0m1.3 8.5h0m7.4 -11h0m-19.6 8.9h0m-24.4 1.9h0m36.3 -5.1h0m-23.3 11.6h0m22.9 -3.4h0m-24.7 -1.5h0m23.7 -7.5h0m-22.3 12.2h0m28.9 -16.1h0m-55.6 8.1h0m22.3 3.4h0m21.6 -3.8h0m-17.2 4.7h0m-3.6 -0.5h0m6.8 14h0m16.1 -22.4h0m-23.8 6.4h0m-8.9 -0.1h0m13.6 6.6h0m2.6 -9.8h0m-12.5 0.1h0m17.8 2.2h0m15.6 -5.1h0m-0.2 5h0m-16.3 -9.8h0m-14.4 17.9h0m35.2 -9.2h0m-9.1 -1.8h0m-15.3 1.3h0m18.9 2.3h0m-16.7 -0.8h0m11.1 1.6h0m-17.1 10.8h0m12.8 -11.7h0m17.2 2.6h0m-21.3 1h0m-14.1 -4.1h0m-14.1 12.9h0m4.3 -3.8h0m12.6 -11.5h0m9.7 5.3h0m12.1 6.3h0m-4.2 -4.3h0m-12.9 1.4h0m8.9 -8.2h0m-2.9 2.8h0m4.2 1.8h0m-10.4 -4.5h0m15.8 -8.1h0m-15 20.8h0m-30 -7.3h0m44.3 -13.2h0m24.5 -9.5h0m-11.5 25.2h0m-8.6 -8.4h0m-8.1 -2.4h0m5.8 -2.3h0m-12.4 14h0m-12.5 -5.4h0m16.1 -8.3h0m14.9 6.8h0m-36 4.2h0m9.3 -5h0m11.2 -2.3h0m11.9 -2.1h0m0.8 3.6h0m-2.1 -2.4h0m-18.7 -0.2h0m16.4 8.8h0m20.8 -1.7h0m-26.3 -3.7h0m2 0.6h0m15.3 2.8h0m-32.2 -3.5h0m30.3 0.3h0m-20.4 8.5h0m-3.5 -7.6h0m-2.6 -8.9h0m18.3 0.9h0m-18.6 5.9h0m17.9 0.6h0m-11 -7h0m-1.2 1.3h0m7 9.1h0m-2.7 9.8h0m5.9 -9.1h0m-5.9 -3.4h0m12.2 5.1h0m-30.2 5.1h0m24 -4.8h0m-2.7 -11.8h0m-18.9 20.4h0m15.9 -20.9h0m2.3 5.5h0m-31 -5.3h0m5.7 13.3h0m20.1 -6.4h0m5.3 3.8h0m-32.6 0.7h0m16 -8h0m4.8 5.3h0m2.5 -7.9h0m0.4 19.4h0m-11.1 -18.8h0m19.8 9.3h0m0.9 -9.8h0m7.4 0.6h0m-28.2 6h0m14.9 4.7h0m9.1 -5.7h0m4.2 -0.1h0m-1.9 -8h0m-30.8 17.6h0m1.4 -6.3h0m17 -4h0m-2.9 11h0m-28.1 2.1h0m63.3 -16h0m-30.1 9.3h0m22.8 -14.7h0m-22.2 9.5h0m6.6 0.8h0m0.8 -3.4h0m-8.4 0.1h0m-9 4.5h0m6 -6.8h0m23.7 1.6h0m-38 13.6h0m7.8 -4.7h0m9.5 -3.1h0m1.7 -4.9h0m0.8 14.4h0m-32.2 -5.3h0m34.5 -12.3h0m-21 21.6h0m13.2 -2.8h0m10.2 -12.9h0m-0.3 3.1h0m9.2 -2.7h0m-14 1h0m16.7 0.7h0m-32.7 -2.4h0m17.7 -3h0m-9.7 -0.2h0m2.8 7.2h0m16.3 -5.2h0m14.3 -3h0m15.9 3.2h0m-37.3 -1.8h0m-43.8 9.7h0m41.9 4.2h0m-20.7 3.6h0m13.9 -9.1h0m-31 2.2h0m29.7 -2.2h0m4 -10.9h0m13.2 7.9h0m-4.4 2.6h0m5.7 -6.8h0m-34 -1.6h0m38 5h0m-17.7 -3.3h0m-0.5 2.7h0m-5.5 -3.1h0m34.1 -0.8h0m-38.3 -1.8h0m0.3 11.2h0m18.9 -8.6h0m-9.5 1.2h0m-13.9 11.4h0m20.8 2.9h0m-17.5 -11.5h0m21.7 -4.4h0m-30.9 1.5h0m21.1 3.5h0m-2 4.1h0m13.8 -6.3h0m-13.4 -0.8h0m8.1 5.1h0m-7 -1.4h0m-6.9 -9.2h0m-6.9 13.4h0m20.1 1.1h0m-5.9 -3h0m16.9 -2.3h0m-26.8 -1.9h0m9.1 -6h0m6.5 10h0m-11.8 7.4h0m0.4 -12.2h0m0.3 -2.9h0m9.4 2.4h0m17.1 0.3h0m-15.8 -1.9h0m-25.8 5.3h0m8.5 4.3h0m11.6 2h0m9.4 -6.3h0m-7.3 -2.2h0m6.3 2.9h0m-18.6 0.8h0m43.8 -10.9h0m-38.9 3.4h0m-14 13h0m19.2 -8.3h0m25.8 7.8h0m-37.7 -1.5h0m19.5 -7.1h0m-2.3 -1.9h0m15.3 0.8h0m-15.9 6.4h0m6.6 -5.6h0m-6.3 8.4h0m0.6 -10.5h0m-18.4 1.9h0m-2.1 2.9h0m15.3 -14.8h0m-0.6 15.2h0m0.4 -9.1h0m14.9 -1.1h0m-33.5 3.7h0m18.1 8.4h0m14.9 -7h0m-32.2 0.8h0m4.4 1.9h0m-11.4 3.7h0m32 -7.1h0m-3.3 -3.9h0m-25.1 6.2h0m36.3 2.9h0m-21.3 4.7h0m2 1.4h0m8.9 -12.6h0m3.8 -2.5h0m-23.6 0.4h0m17.2 4.8h0m-4.8 -1.1h0m20.1 -3.7h0m-27.1 14.1h0m27.6 -9.9h0m-42.9 2.3h0m31.9 -2.1h0m11.2 -9.7h0m-11 6h0m9.1 1.5h0m-4.4 -2.4h0m-32.9 3.2h0m10.8 -1.4h0m26.2 8.5h0m-14.6 -10.6h0m-4.8 2.8h0m21.8 1.7h0m-13.5 -1.6h0m-33.6 3.8h0m13 4.1h0m15 -9.2h0m-4.2 14h0m-9.9 -12.1h0m9.9 -0.6h0m-1.5 7.2h0m26.5 -17.6h0m-21.5 14h0m-1.1 -1.1h0m-2.3 7h0m-2.7 -5.8h0m6.4 0.2h0m-1.4 5.2h0m1.4 -4.8h0m-1.7 -6.3h0m-10.4 1.6h0m13.9 -0.6h0m-15.8 8.1h0m19.2 -14.6h0m17.2 7h0m-22.9 9.8h0m0.8 -9.4h0m27.8 -7.6h0m-28.7 15.8h0m-13.8 -2.8h0m21.7 10.1h0m-19.3 -10.3h0m20.7 -2.9h0m-24.4 6.1h0m17.5 -2.8h0m14.1 0.6h0m-10.3 -2.1h0m-20.4 1.1h0m17.2 -4.5h0m-2 -2h0m22 12.8h0m-27.3 -5h0m2.9 4.3h0m7.8 -8h0m-8.8 1.8h0m-9.8 4.8h0m3.7 -1.4h0m11.8 1h0m-2 0h0m-12.5 -0.1h0m8.9 -3.9h0m4.6 3.3h0m-28.3 1.6h0m7.8 3.5h0m-8.5 -10.8h0m6.5 13.6h0m3.7 -9.2h0m8.2 -12.1h0m4.9 12.9h0m2.3 1.1h0m-3.2 -4.6h0m0 1.9h0m30.4 -5.3h0m-23.6 -1.3h0m-10.6 13.5h0m-7.1 -12h0m14 0.2h0m25.4 -15.3h0m-18.2 20.4h0m-21 -3.9h0m22.8 8.7h0m-21 -14.2h0m28.1 12.4h0m-21 -17.2h0m25.7 6.7h0m-4.2 1.6h0m-20.3 1.3h0m26.4 5.9h0m-50.3 -4.4h0m52.6 -6.1h0m-41.4 9.4h0m16.6 -3.5h0m-5.2 -0.3h0m1 3.5h0m-5.4 -2.6h0m10.4 7.1h0m5.6 -8.9h0m2.6 2.4h0m7.4 -0.7h0m10.2 2.9h0m-26 -5.2h0m13.1 2.8h0m-14.9 -8.5h0m-21.3 14h0m35 -3.7h0m-27.1 6.1h0m9.4 -5.2h0m11.5 -8.7h0m-14.6 -4.5h0m-4.1 2.2h0m19.8 6.9h0m6.6 0.5h0m-20.6 3.6h0m3.5 0.8h0m7.8 -10.3h0m-3.1 6.4h0m-3.3 5.3h0m25.6 -11.6h0m-29.2 -5.4h0m4.7 9.3h0m-26.4 8.7h0m35.7 -12h0m-13.1 1h0m14.6 -5.6h0m-11 21.3h0m3.4 -8.9h0m-4.2 -8.4h0m3.1 8.3h0m-13.3 1.9h0m30.9 -1.3h0m-39.6 -4.5h0m1.6 11.2h0m29.2 -7.2h0m-21.6 -6.7h0m13.9 4.7h0m-12.3 2.4h0m20 -3.1h0m-24.6 -8.7h0m12.5 10.5h0m-0.6 -3.2h0m-4.6 7.2h0m7.9 -4.7h0m-12.9 -1.9h0m14.7 -4.7h0m-18.3 7h0m33.2 -3h0m3.2 -2.3h0m-24.8 -2.7h0m-0.8 15.9h0m11.4 -5.9h0m4.3 -4.9h0m-12 2.8h0m12 -0.2h0m-2.7 -1.2h0m-17.2 0.7h0m-1.1 7.2h0m-16.6 -3.9h0m59.6 -11.1h0m-46.5 10h0m32.1 -6.5h0m-8.8 3h0m-10.1 18.8h0m2.3 -21h0m-6.6 6.3h0m12.4 0h0m-5.7 -11.3h0m6.3 5.2h0m-12 -4.5h0m-3.1 4.8h0m6.4 -5.2h0m2.7 8.4h0m-16.3 -1.4h0m5 7.7h0m-23.4 -2.8h0m11.4 -2.5h0m33.2 -7h0m-9.7 0.5h0m25.7 5.3h0m-13 -10.2h0m-27.3 18.2h0m10.8 -9.3h0m6 -6.7h0m7.1 5.9h0m-4.6 -3.1h0m0.5 -0.2h0m7.6 8.9h0m-1.2 -3.2h0m-6.8 -16.8h0m5 12.7h0m-9.8 1.6h0m-20 2.1h0m29.1 5.8h0m-19.2 -9.5h0m27.6 -4.8h0m9.1 3.6h0m-38.4 12h0m31.9 -19.1h0m-0.6 6.5h0m-1.1 -0.3h0m-39.9 11.9h0m34.8 2.8h0m9.3 -9.5h0m-27.3 -2h0m-1 -1.5h0m-1.4 -9.3h0m8.5 12.5h0m32.4 -1.3h0m-40.6 6.1h0m-11.1 -4.6h0m-6.6 12.6h0m30.3 -20h0m-6.7 13.1h0m6.8 -4.4h0m-18.9 -2.3h0m14.1 6.2h0m-14.2 -8.9h0m26.4 -3.6h0m0.3 6.5h0m-1.2 8.6h0m-3.5 -4.8h0m-22.8 -4.2h0m22.9 8.4h0m10.7 2.5h0m-16.4 -8.9h0m9.1 -2.7h0m-15.2 -3.2h0m14 -2.6h0m-6.7 -0.8h0m8.1 0.8h0m-3.9 -2.5h0m-14.4 18h0m-5.9 -5.1h0m2 -13.7h0m13.1 13h0m-18.7 4.1h0m2.7 -9.3h0m10.9 -0.1h0m29.6 -10.1h0m-18.2 17.4h0m-38.8 -8.3h0m35 0.8h0m-0.8 9.2h0m-12.2 -10.2h0m-30.1 12.4h0m24.1 -3.6h0m13.8 -11.9h0m22.2 9.8h0m-13.9 -10.2h0m-16 6.4h0m-0.7 -3.1h0m12.6 5.3h0m-1.6 -3.8h0m12.9 1.6h0m-54.3 5h0m37.2 2.4h0m-4.4 -6h0m-4 5.8h0m1.7 -7.4h0m-2.8 7h0m0.6 -12.6h0m16.3 2.5h0m-2.5 6.5h0m11.9 1.6h0m-24.8 -2.4h0m-7.8 11.7h0m22.8 -5.6h0m-13.4 -16.9h0m26.7 7.3h0m-18.7 3.1h0m7.3 1.4h0m-29.2 8.2h0m12.6 -10.9h0m31.3 2.2h0m-30.1 -10.2h0m9 11.8h0m-5 -9.1h0m-9.4 1.7h0m15.3 8.8h0m9.3 -10.3h0m-9.2 8.9h0m-10.6 -2.1h0m35.3 -4.3h0m-17.1 -0.5h0m-12.4 -5h0m1.9 15.9h0m28.2 -4.9h0m-19.8 -2.9h0m-17.3 1.8h0m15.5 -6.2h0m4.1 -1.8h0m-36.1 6.2h0m1.1 -2.2h0m38.4 -0.2h0m-10.9 9.5h0m12.3 -11.5h0m1.7 4.7h0m-17.5 3.4h0m-20.2 -3.3h0m18.8 4.5h0m-4.2 -3.4h0m19.3 5.2h0m-2.8 -0.3h0m-17.1 -5.8h0m9.6 -1.7h0m-9.1 12.5h0m1.6 -14.9h0m11.8 13.6h0m-5.9 -2.3h0m-8.6 -8.1h0m-3 2.4h0m32.6 -11.4h0m-2.5 1.3h0m-23.1 14.4h0m10.9 -5h0m-30.2 5.7h0m10.5 10.5h0m8.4 -14.8h0m-13 -1.4h0m-0.5 8.2h0m13.3 -4.6h0m-6.7 -4.8h0m25.8 -7.2h0m-39.8 14.7h0m8 -6.1h0m26.9 -6.9h0m-0.3 0.9h0m10.1 9.4h0m-27.6 -3.7h0m-4.4 3h0m24.8 -13.5h0m-3 1.2h0m-24 1.6h0m41.1 3.1h0m-25.4 0.4h0m9.6 -9.7h0m-9.7 25.8h0m-7.6 -10.9h0m13.3 -7h0m-7 11.2h0m1.7 -3.6h0m-7.2 0.9h0m6.4 5.3h0m7.3 -10.8h0m-41.2 12.6h0m41 -16.3h0m-36.9 5.2h0m39 -6.4h0m-17.2 10.2h0m22.2 -5.3h0m-18.2 0.3h0m24.6 4.7h0m-25.3 -9.3h0m-7.4 12.3h0m1.3 1.5h0m13.8 -5.8h0m4.1 0.5h0m-20.9 -1h0m41.7 -12.2h0m-35.3 18.9h0m2.4 -10.9h0m-14.2 10h0m32 -0.8h0m-13.2 0.3h0m-15.3 -2.2h0m4.8 -0.8h0m19.8 1.5h0m-23 5.2h0m4.7 -13.6h0m3.6 -3.1h0m4 9.1h0m-2.5 1.8h0m-2 -2.6h0m-14.9 2.8h0m7.4 -4h0m10.6 1.7h0m-22.3 -5.9h0m19.8 7.9h0m9.2 0.7h0m12.2 -4.4h0m-19 -5.1h0m-11.8 5.2h0m16.8 0.9h0m-3.9 -1.4h0m8.7 0.5h0m-4.3 1.3h0m-12.5 -5.3h0m15.1 5.4h0m-10.2 -2.8h0m32.9 -7.8h0m-32.2 11.4h0m-12.6 1.4h0m40 -2.5h0m-15.8 0.9h0m-6.6 3.2h0m-4.9 -6.8h0m4.7 6.6h0m2.8 -1.8h0m-30.8 8.3h0m58.2 -9.5h0m-37.4 -5.6h0m7.7 -2.1h0m6.4 1.5h0m5 9.6h0m-40.8 1.2h0m16.1 -12.3h0m2.2 6.3h0m20.7 -11h0m3.6 19.2h0m-7.4 -6.9h0m-9.8 -7.9h0m8.8 7.1h0m4.7 11.4h0m-2.1 -11.6h0m9.4 -11.5h0m-35.1 11.5h0m7.6 4.7h0m5.4 4.9h0m23.5 -9.6h0m-25.4 3.6h0m14.3 -11.9h0m-4.5 10.7h0m-0.9 5h0m11 -15.3h0m-14.5 2.5h0m6 -1.3h0m5.7 6h0m0.2 -3h0m-30.5 16.1h0m16.7 -5.1h0m7.4 -5.3h0m18.3 -5h0m-7.5 -8.9h0m-5.8 7.9h0m-13.2 3.8h0m8 7.8h0m-30.8 -3.6h0m16.2 3.4h0m3.2 -4.5h0m0.6 1.1h0m17.7 -9.1h0m-13.8 -3.3h0m5.6 11.7h0m-11.2 3.5h0m-23 -12.6h0m10.4 5.8h0m19.1 -1.1h0m-0.4 4.6h0m-7.3 -9.8h0m-7 20.1h0m-16.9 -9.8h0m51.2 -5.4h0m-30.8 2.8h0m23.6 2.5h0m-23.8 1.7h0m15.6 -0.8h0m13.8 -10.5h0m-37.1 10.6h0m43.2 -6h0m-18.9 13h0m-18.4 -5.2h0m5.5 -5.7h0m10.1 6.4h0m-15.6 -8.7h0m-7.7 7.1h0m15 -3h0m-8.9 -2.8h0m28.2 -4h0m-4.8 4.8h0m-15 -9h0m19.5 6.2h0m-2.1 -11.8h0m-35.2 5.5h0m13.3 15.4h0m18.2 -9.2h0m-5 5.3h0m-6.1 -0.9h0m3.4 -15.1h0m-3.6 20.5h0m-1.6 -8.1h0m-3.1 -1.4h0m23.2 -2.9h0m-31.3 -10.4h0m7.1 5.2h0m-14 17.9h0m31.1 -20.6h0m4.2 12.5h0m-21.5 5.3h0m-13.1 -8.5h0m2.6 0.1h0m30.6 -6.7h0m-26.6 6.8h0m18.5 0.2h0m8.5 -3.6h0m-28.4 6.2h0m17.2 -5.4h0m5.8 14.3h0m-13.2 -7.6h0m25 -8.3h0m-29.7 2.7h0m18.1 5.8h0m-7.7 -1.3h0m19.6 1.2h0m-36.4 1.5h0m20.7 0.4h0m-5.7 -6.6h0m-4.2 -5.6h0m6.8 5.3h0m6.1 -3.4h0m-12 2.3h0m-6.8 10.6h0m7.8 -2.8h0m-9.1 -0.4h0m-8.1 -1.7h0m16.7 2.9h0m8.4 -5.7h0m9 0.4h0m-3.4 3.9h0m-9.1 -4.4h0m5.1 -1.6h0m2.3 8.2h0m4.8 -9.2h0m-28.2 6.8h0m16.5 3.5h0m-4.6 -6.5h0m14.5 -4h0m-9.7 13.9h0m20.8 -9.7h0m-17.7 -5.8h0m4.8 4.9h0m-5 -2.4h0m-2.8 2.4h0m5.9 7.9h0m-2.4 -16.8h0m-17.6 3.6h0m4.4 11.1h0m14.8 -9h0m-2 -0.6h0m-23 0.5h0m10.2 13.9h0m-6.6 0.2h0m34.1 -13.9h0m-18.7 0.8h0m1.5 6.9h0m0.8 1.7h0m15 -6.3h0m-11.8 -0.2h0m-0.8 -5.7h0m2 7h0m-14.9 13.5h0m-4.4 -16.1h0m15.6 -8.7h0m-13.8 4.7h0m-1 8h0m18.2 3.7h0m6.6 -0.7h0m-4.5 -8.5h0m7 -1.3h0m-21.1 14.9h0m17.4 -10.3h0m0.1 3.6h0m-29 -0.3h0m2.7 0.8h0m7.9 5.5h0m13.7 -14.6h0m-7.5 -0.9h0m2.5 9.4h0m0.6 -13.9h0m-5.7 14.6h0m9.2 2h0m-21.8 0.3h0m8.1 -3.3h0m14.5 0.2h0m-13.5 -0.4h0m-9.4 -7.3h0m24.2 3.3h0m-29.6 0.8h0m24 9.2h0m12.9 -6.5h0m-38.4 1.8h0m30.5 -2.7h0m-1.4 -3.2h0m19.4 6.1h0m-26.9 -9h0m28.9 -2.7h0m-9 15.4h0m-30 -3.8h0m8.1 -0.2h0m10.3 6.2h0m1.7 -11.2h0m6.9 -2.7h0m-17.5 17.1h0m-8.6 -13.7h0m10.9 -5.1h0m-26.6 16.5h0m16.1 -11.8h0m5.1 -3.3h0m-8.3 7.8h0m46.7 -5h0m-24 -8.3h0m-10 3.6h0m11.5 3.3h0m-9.6 2.5h0m-9.7 -6.4h0m15.6 -1.9h0m-22.3 10h0m6.8 1.9h0m22.8 -4.1h0m-11 0.7h0m7 -11.7h0m-5.7 6.1h0m-20.3 8.8h0m11.8 1.2h0m17 -19.3h0m-11.5 26h0m12 -5h0m-13 -13.8h0m-14.2 14.5h0m26.3 -12.7h0m-15.4 8.3h0m-20.2 0.1h0m47.2 5.9h0m-23.3 2.1h0m-8.1 -13.3h0m-21.1 13.5h0m26.1 3.2h0m7.4 -13.3h0m-27.2 12.1h0m17.6 -12.4h0m-23.5 10.2h0m41 -15.8h0m-10.9 7.5h0m11.3 -3.6h0m9.8 -3.6h0m-31.2 4.2h0m-26 2.7h0m48.1 -2.5h0m-24.1 4.7h0m-16.6 -0.6h0m34.8 -0.6h0m-17.1 4.2h0m33.9 -13.5h0m-16.1 -3.4h0m-33.9 18.1h0m26.3 -7h0m-8.8 -1.2h0m20.5 7.6h0m-16.9 -15.8h0m22 8.7h0m-8.3 -0.9h0m21.7 -4.4h0m-25.9 -6.2h0m-13.4 8.9h0m8.3 4.3h0m-8.2 9.2h0m-6.3 -11.1h0m16.5 -7.4h0m6.3 9.4h0m-10.3 9h0m3.4 -9.7h0m-15.7 -8.2h0m5.7 6.6h0m3.3 5.5h0m-27.5 -5.8h0m9.9 12.1h0m15 -13h0m-5.8 8.9h0m8.5 -5.3h0m-20.7 9h0m31.8 -9.1h0m10.4 -6h0m-17.8 8.2h0m7 -6.6h0m-5.3 -0.5h0m10.3 6.2h0m-8.5 6.8h0m-22.6 -7.8h0m43.1 -8.7h0m-42.4 17.7h0m26.1 -19.1h0m3.3 0.4h0m-27.4 9.7h0m10.6 -7.2h0m1.6 0.3h0m6.6 4.3h0m8.7 -4h0m-28.5 0.2h0m17.2 13h0m12.5 -14.4h0m0.8 -3.1h0m1.7 4.1h0m-2.3 6h0m-14.3 0.9h0m-10.9 -0.3h0m32.7 17.6h0m-8.9 -20.9h0m-22 9.3h0m-10.3 -8.6h0m26.5 -6.9h0m17.9 9.7h0m-29.7 -4h0m-10.8 -2.9h0m25.4 6.9h0m-1.5 -1.7h0m-12.1 2.6h0m-12.5 0.3h0m40.6 0.2h0m-27.5 -4.5h0m26.6 7.2h0m-40.4 -5.2h0m24.6 4.8h0m-14.8 -0.6h0m8.8 8.2h0m7.4 -15.4h0m-9.1 8.3h0m11.5 -14h0m-6.4 -0.3h0m-13 2.5h0m-7 4.6h0m5.8 5.8h0m23 -8.3h0m-24.6 10.2h0m-14.7 -12.8h0m39.2 7.6h0m2.5 -5.3h0m-30.2 3.7h0m24.2 -5.7h0m-17.6 -0.5h0m-4 13.3h0m19.7 -14.7h0m-19.9 6.8h0m21.2 -7.1h0m-10.5 -3.6h0m-12.1 16.5h0m27.2 -13.6h0m-20.4 14.5h0m3.8 -8.2h0m12.9 1.9h0m8.5 1.9h0m-23.4 -1h0m5.7 -8h0m-10 14.8h0m-8.2 1.6h0m24 -10.6h0m3.9 2.8h0m8.1 -6.4h0m-19 4.3h0m29.3 1.5h0m-38.7 -0.4h0m3.3 1.4h0m14.5 10.2h0m-28.5 -2h0m28.6 -14.8h0m-7.6 2.5h0m4.1 7.7h0m-20.7 5.4h0m15.5 -1.7h0m10.2 -3.3h0m1.9 -1.1h0m-8.6 -9.3h0m9.7 7h0m16.5 -18.1h0m-27.7 22h0m-15.3 -4.5h0m46.5 1h0m-39.9 7.1h0m26.9 -8.4h0m-11.3 -1h0m-17.3 -1.2h0m22 -0.2h0m14.4 -5.1h0m-56.6 9.9h0m36.3 -2.4h0m-3.9 -6h0m19.2 -2.5h0m-10.1 3.9h0m-23.8 13.7h0m-19.6 -9.2h0m39.6 -4.2h0m4.5 0.6h0m-13.8 15.1h0m0.9 -13.1h0m-12.1 -1.2h0m24.4 3.1h0m-9.9 -5.4h0m8.2 -7h0m-12.3 10.3h0m-6.3 3.4h0m1.5 -5.6h0m34.3 2.5h0m-8.6 -2.3h0m-2.4 4.5h0m4.8 8h0m-21.1 -8h0m-1.3 -20.9h0m-14.5 22.3h0m26.4 -7.9h0m8.5 8.9h0m-20.4 4.4h0m27.9 -10.3h0m-35.4 11.8h0m9.1 -11.9h0m3.6 -1.5h0m14 4.9h0m1.7 -1.4h0m-27.4 0.7h0m21.9 -5.3h0m27.4 -3.9h0m-45.3 15.8h0m16.6 -9.5h0m-12.6 4.7h0m14.5 -0.6h0m-15.4 0.8h0m15.6 -0.8h0m-53.9 0.2h0m31.4 -1.8h0m13.8 4h0m4.8 -6.7h0m-6.1 11.6h0m-9.9 -6.4h0m29 -4.9h0m-47.9 8.6h0m21.5 -6.5h0m19.7 -0.2h0m5.9 -19.3h0m-3.3 -7.6h0m0.6 1.5h0m-6.7 3.4h0m-2.3 -4.2h0m11.5 16h0m-6 -11.5h0m0.7 -0.8h0m0.7 -1.1h0m3.4 8.8h0m1.1 -0.7h0m-17.8 4.8h0m14.7 -21.3h0m-1.3 14.7h0m-3.2 2.3h0m-7 8.2h0m11.3 -10.2h0m-4.9 -15.8h0m3.9 -5.3h0m-22.8 25.3h0m26 -23.5h0m-10.9 16.1h0m12.9 8.8h0m6 -7.1h0m-28.4 -9.3h0m16.5 -3.5h0m9.9 13.5h0m-2.8 -0.8h0m-12.2 -6.8h0m2.5 -3.8h0m12.7 -2h0m-5.8 8.6h0m-4.5 -6.2h0m1.3 -2.6h0m-5.7 0.5h0m7.7 7.5h0m-8.2 5.2h0m8.5 0.7h0m-2.5 0.8h0m6 -18.4h0m-10.7 24.8h0m5 -22.4h0m6.3 1.6h0m-8 3.4h0m-2.7 7.6h0m7 -2.8h0m-4.5 -4.9h0m3.6 4.6h0m-12.8 10.8h0m6.3 -5.3h0m1.2 -4.4h0m4.5 7.1h0m-12.3 -15h0m2.8 3.4h0m9.5 -12h0m-2.5 18.3h0m-0.4 -1.9h0m7 -13.4h0m4 7.9h0m-1.5 16h0m0 -15.2h0m-5.5 12.2h0m-5.4 -13.7h0m12.9 -12.4h0m-9.9 19.5h0m9.7 -7h0m-0.4 2.9h0m-13.9 -13.2h0m-3.8 16.5h0m17.8 1.2h0m-15.2 -10.7h0m11.3 12.8h0m-8.3 -0.9h0m-9.2 -11h0m16 1.5h0m-9.6 -1.5h0m-1.3 11.7h0m7.5 -6.6h0m11.3 5.3h0m-13.5 -15.7h0m10.7 21.8h0m-1.3 -3.6h0m-7.4 -20.2h0m-1.2 16.7h0m-9 2.2h0m13.8 0.7h0m-7.3 -2.2h0m-7.9 -2.7h0m-0.9 -18.2h0m13.4 24.4h0m-1.9 6.2h0m-2.1 -25.1h0m-4.8 7.9h0m9 0.5h0m7.8 5.5h0m0.6 -2.1h0m-16.8 -7.6h0m10.4 7.2h0m0.7 15.9h0m-2.1 -14.7h0m-4.9 7.1h0m0.9 -10.6h0m-12.8 -2.7h0m10.6 -7.9h0m-9.4 29.1h0m14.1 -7.2h0m-2 0h0m12.9 5.1h0m2.7 -12.8h0m-13.3 9.4h0m-0.4 -0.6h0m-9.9 -18.6h0m-2.5 15.7h0m1.9 4.1h0m-3.2 -6.2h0m16.5 -3.6h0m-11.6 8.7h0m6.1 -9.9h0m5 8.3h0m3.6 -12.8h0m5.7 11.7h0m-10.4 -21.6h0m5.3 18.9h0m-7.3 3.6h0m-5 -9.6h0m-6.7 0.1h0m-3.8 1.5h0m32 -14.2h0m-11.3 5.6h0m5.9 4.2h0m-2.3 -1h0m-9 14.4h0m-9.8 -7h0m9.1 8.8h0m-5.7 -22.1h0m21.2 1.4h0m-19.3 12.4h0m10.7 1.1h0m-15.1 -2.6h0m-4.3 -8.3h0m21.2 9.6h0m-2.1 -2.3h0m0.2 -1.6h0m-11.6 -1h0m4 4.8h0m15.9 -7.8h0m-18.6 0.9h0m0.5 10.7h0m9.7 -15.8h0m-11.6 9h0m9.9 -5h0m-4 7.1h0m3.3 -14.7h0m9.5 3.4h0m-7.3 12.4h0m-12.1 -2.8h0m-0.9 0.9h0m8.5 -4h0m5.7 1.5h0m-14.4 28.6h0m2.9 -11h0m2.3 -7.7h0m-5.6 -22.5h0m7.5 13.5h0m-1.2 18.6h0m-2.1 -18.4h0m22.9 15.2h0m-32.9 -15h0m8.1 7.9h0m3.5 -3.7h0m2.3 6.9h0m-11.2 -9.2h0m5.6 5h0m10.8 -11.3h0m-6.7 8.5h0m15.3 0.5h0m-13.1 2.8h0m-5.6 -14.3h0m6 7.1h0m0.8 6.3h0m8.2 -10.7h0m-10 7.5h0m-1.3 -23.7h0m7.3 22.1h0m-1.8 0h0m0.7 0.1h0m-3.3 -11.4h0m-2.1 9.2h0m-1.5 4.9h0m3 7.8h0m14.8 -20.6h0m-19.3 -3.1h0m2.4 -1.3h0m12.7 19h0m-9.8 5.7h0m-2.7 -13.3h0m0.5 10.7h0m5.4 -1.8h0m-11.4 -19.6h0m2.1 16.6h0m-7.4 3.5h0m9.9 -8h0m-7.4 13.2h0m1.9 -19.2h0m14.6 18.6h0m-15.1 -26h0m5.7 26.4h0m-3.8 -2.8h0m7.7 -4h0m-24.8 10h0m25.6 -2.6h0m-15.3 -15.4h0m18.2 0.8h0m-9.2 3.4h0m12.5 -1.8h0m-5.4 0.7h0m-6.8 -0.6h0m1.7 8.5h0m-1.5 -6.2h0m8.5 -8.1h0m-14.1 -4.6h0m5.8 4.9h0m-5.8 10.4h0m17.3 -12.2h0m-19 10.8h0m6.7 -4.2h0m-1.9 -15.8h0m-2.1 31.2h0m8 -14h0m15.3 -1.2h0m-20.9 2.4h0m1.2 13.4h0m4.2 -22.3h0m3 -2h0m3 -1.9h0m-14.1 18.4h0m-8.9 1.1h0m23 -8.1h0m-1.3 -15.9h0m-13.6 15.1h0m13.7 -6.2h0m-2.6 13.5h0m-13.9 -15.6h0m14.1 3.4h0m-7.1 7.8h0m19.5 -12.4h0m-17.9 -7.3h0m6.6 25.1h0m-12.6 0.5h0m15.6 11.1h0m-1 -26.6h0m-8.4 4.7h0m5.2 7.5h0m3.2 4.1h0m-13.6 -7h0m10.2 -12.6h0m-4 5.3h0m-1.7 25h0m6.3 -6h0m-20.6 -5.6h0m21 -9.3h0m-11.7 -2.5h0m0.6 -6.9h0m0.6 12.6h0m11.4 3.4h0m-2.7 1.3h0m-11.5 -16.3h0m3.5 18.3h0m6.3 -3h0m-1.1 11.9h0m1.9 -23.8h0m-5.1 17.6h0m6.3 -5.5h0m2.4 -3.2h0m3.8 4.6h0m-22.2 9h0m4.9 -23.8h0m2.7 -1.2h0m0.2 5.9h0m5.8 7h0m-2.8 -4.1h0m9.3 -17.3h0m-3 27.5h0m7.3 -13.7h0m-11.8 -13.2h0m11.9 11h0m-9.1 6.4h0m-14.4 22.3h0m5.9 -41.7h0m7.2 23.8h0m12.3 -5.6h0m-17.6 15h0m-1.5 -24.6h0m19 15.2h0m-5.1 -14.3h0m-16.1 30.1h0m7.6 -24.7h0m21.7 12h0m-27.9 -8.8h0m5.8 -2h0m-0.1 5h0m5.4 -8h0m-8.3 15.1h0m2.6 -14.4h0m10.4 -2.4h0m-9.4 16.2h0m17.2 -21h0m-10.5 14.9h0m-17.7 -0.8h0m15.1 -5.8h0m-2 -0.3h0m-3.8 0.3h0m9.5 2.1h0m-1.7 4.3h0m-15.8 9.9h0m26.7 -19.7h0m-16.2 5h0m-1.3 13.4h0m-6.4 -21h0m12.7 6.6h0m-11.3 -3h0m-2.2 -1.8h0m13.8 -3.6h0m0.4 24.4h0m-6.7 -23.6h0m0.7 -9.4h0m9.2 20.7h0m-8.8 20.4h0m-0.4 -20.3h0m-0.6 9h0m-8.9 -2.9h0m0.2 -6h0m5.2 -16.6h0m0 21.3h0m9.8 -3.4h0m-5 -9.3h0m-1.3 10.6h0m8 -8.1h0m-22.6 4h0m28.2 -14.1h0m-9.6 13.7h0m-11.4 3.1h0m5.8 0.3h0m-9.2 -0.6h0m14.7 2.4h0m-4.3 0.2h0m-6.2 12.1h0m-1.2 -18.2h0m6.4 17h0m3.2 -7.3h0m2.1 -2.8h0m-14.2 -5.9h0m8.7 0.9h0m1.4 -6.3h0m5.8 11.7h0m3.9 -12.9h0m-2.5 0.3h0m2.1 3.2h0m-6.6 1h0m15.1 7.9h0m-18.3 -5.5h0m0.3 3.6h0m-5.6 -7.7h0m3.1 21.5h0m0.8 -3.1h0m11.2 -11.9h0m-0.8 -14.3h0m-17 14.2h0m7.5 4.9h0m-3.5 10.4h0m9.9 -15.2h0m-4.6 1.3h0m-5 1.8h0m0.9 9.8h0m10.1 -26.7h0m-11.3 6.7h0m4.6 -8.1h0m4.1 7.3h0m1 16.5h0m-2.8 -10h0m-0.1 -4h0m0.8 7.9h0m-2.7 -0.8h0m-11.3 -1.7h0m6.7 2.5h0m13.4 -1.4h0m-12.2 11.2h0m-9.5 1.3h0m-3.1 -16.8h0m12.3 16.9h0m3.9 -16.3h0m12.7 12.7h0m-18.5 -12.6h0m15.4 -11.3h0m-2.1 18h0m-2.2 -5.6h0m-11.1 -4.7h0m10.2 -3.1h0m-12 13.8h0m8.4 -14.9h0m4.3 9.8h0m-14.6 -6h0m18.2 2h0m5.3 -0.2h0m-7.2 2h0m-3.6 -12.6h0m14.1 3.8h0m-2 8h0m-18.3 -7.3h0m9.1 0.7h0m-3.3 5.4h0m5.4 -6.6h0m-6.5 16.4h0m-4 -14.5h0m-1.1 10.3h0m4.5 3.2h0m15.2 -9.4h0m-5.4 -3.5h0m2 1.1h0m-8.8 10.8h0m-3.5 -7.7h0m-4.9 5.3h0m-4.3 -3.3h0m10.5 -3.4h0m1.2 4.3h0m-4.5 -7.3h0m-9.3 4.2h0m-8.5 16.3h0m11.9 -30.1h0m19.2 16.7h0m-1.7 7.9h0m2.1 -20.3h0m-0.6 -5h0m-9.8 24.8h0m-11.5 -6.8h0m22 15.6h0m-13.6 -11.7h0m0.7 1.4h0m-2.4 -4.8h0m-9.6 5.4h0m12.9 0.4h0m13.5 -21h0m-4.6 0.7h0m-17.9 11h0m-5.2 -2.8h0m24.6 11.7h0m-1.5 -6.3h0m-19 -0.4h0m6.3 3.2h0m21 -7.8h0m-21.5 10h0m1.8 -4.8h0m-0.2 10h0m6.7 -12.3h0m-8 11.4h0m5.4 6.9h0m-5.9 -8.8h0m-0.4 -5.4h0m-9.8 2.1h0m21.9 -17.6h0m8.2 16.4h0m-11.6 -0.9h0m4.7 0.6h0m-4.5 -6.1h0m-2.5 6.1h0m-11.7 -17.3h0m7.4 14.5h0m-11 -2.4h0m10.6 -5.6h0m-0.5 8.6h0m-3.8 11.8h0m-3.9 0.2h0m10.9 -10h0m0.2 -3.4h0m10 -15.4h0m-17 24.6h0m4.6 -3.5h0m-4.4 -2.1h0m12.7 -16h0m-7.9 15.3h0m11.5 3.1h0m0.2 -6.3h0m-15.9 27.1h0m23.4 -29.7h0m-28 -0.8h0m9.2 -1.7h0m-7.1 19.2h0m20.7 -18.6h0m-16.2 -2.8h0m4.4 -14.8h0m-9.5 20.3h0m17 -6.7h0m-3.7 2.6h0m-2.3 8h0m0.2 16.7h0m-1.1 -26.1h0m2 9.2h0m5.5 -12.5h0m-10.8 10.1h0m-5.2 12.2h0m7 -11.8h0m6.8 2.4h0m-2.1 -4.1h0m0 -2h0m-0.1 6.3h0m0.3 15.6h0m-1.5 -4.6h0m5.7 -9.8h0m-13.8 -5.3h0m10.7 -5.6h0m-3.5 7.5h0m7.6 -5.4h0m-18.3 0.4h0m9.3 9.2h0m8.4 -17h0m-0.1 17.2h0m-8.3 -2.9h0m-9.2 -5.8h0m15.4 -1.7h0m-14.2 6.2h0m18.6 2.2h0m-19.1 0.9h0m-0.5 -9.9h0m0 24.1h0m5.6 -11.9h0m4.6 0.4h0m-5.4 -5h0m7.7 4.9h0m6 -10.7h0m-29.2 -8.3h0m15.2 21.1h0m-5.3 -13h0m16.6 -5.1h0m-6.9 16.2h0m-5.5 -4.5h0m4.6 -6.1h0m-6.9 15h0m0.8 -11.6h0m4 -11.1h0m14.9 0.9h0m-13.1 19.9h0m4.1 -18h0m-4.9 20h0m-1.5 -29.7h0m5.9 15.3h0m-4.6 4.4h0m9 5.2h0m-11 -12.5h0m0.8 -8.5h0m7.4 10.9h0m2.7 -3.9h0m-3 0.2h0m2.3 1.6h0m-3.6 -12.1h0m5 10.6h0m-9.9 5.7h0m-5.4 -4.4h0m9.5 20h0m4.4 3.3h0m-4.3 -13.3h0m2.2 -2.4h0m-6.4 0.9h0m10.1 2.3h0m5.2 -9.6h0m-12.3 2.5h0m-0.3 18.6h0m0.4 -22.9h0m11.3 4.4h0m-3.6 5.2h0m-18.3 -8.6h0m6.7 9.6h0m-0.1 -9.2h0m-3.6 7.5h0m8.2 -0.6h0m7.9 -6.4h0m-6.1 5.1h0m-1.1 0.2h0m-13.3 -18.1h0m13.8 20.9h0m-5.6 -14.1h0m10.9 11.2h0m-21.1 -0.4h0m5.1 1h0m5.3 -7.3h0m10 -6.7h0m-11.9 19.3h0m5.2 4.6h0m3.5 -22.4h0m-6.6 2.8h0m20.1 13h0m-12.2 11.2h0m-13.5 -28.5h0m-1.6 23.3h0m10.8 -18.1h0m4.3 12h0m-2.4 -3.5h0m4.8 5.7h0m2.4 5.1h0m-15.5 -9.7h0m11.4 -4.8h0m-9.3 20.6h0m-5.3 -7.7h0m6.1 -17.3h0m2 4.7h0m6.5 -12.1h0m-15.9 22.7h0m9.1 0.8h0m8.3 -5.2h0m-5.2 -3.4h0m-1.3 -1.9h0m6.1 2.5h0m-7.5 -7.2h0m-9.3 19.9h0m-5.4 -20.7h0m17.7 13.4h0m-10.9 -3.2h0m23.7 -12.5h0m-6.3 16.1h0m-12 -18.6h0m5.3 -10.7h0m-9.7 23.4h0m-0.5 -3.3h0m16 6.6h0m-8.5 -5.1h0m-0.4 -12.3h0m2.3 6.1h0m0.1 6.9h0m-0.9 0.5h0m-6.2 6.1h0m6.8 -8.7h0m-8.8 11.5h0m5.7 -2.2h0m3.6 -6.7h0m-3 6.6h0m-21.7 -1.4h0m12.1 -7.6h0m0.4 8.4h0m4.6 -12.8h0m3.8 4.7h0m-11.8 9.5h0m18.3 -8.9h0m10.6 1.1h0m-12 0.2h0m-2.3 2.8h0m-7.5 -0.6h0m0.4 -21.3h0m10.4 19.7h0m-9.8 -2.6h0m2.3 4h0m0.2 8.2h0m-1.4 -6.6h0m-0.3 -10.1h0m2.3 3.1h0m4.6 1.8h0m-7.7 -1.1h0m-2.2 8.6h0m13.6 -3.8h0m-5.7 -10.3h0m-10.5 5.3h0m-1.7 20.4h0m-0.1 -14.2h0m10.8 14.1h0m-12.1 -13.3h0m21.7 -20.6h0m-4.4 22.5h0m4.8 5.8h0m-21.8 -0.8h0m7.7 -10h0m-1.1 -14.5h0m6.1 21.8h0m9 -8.5h0m7.4 4.7h0m-16.1 1.6h0m0.6 -11.9h0m-4.4 8.9h0m-5.5 1.2h0m-2.6 -1.7h0m2.4 -7.7h0m27.1 -5.4h0m-15.7 3h0m4.7 17.2h0m-2.2 -7.8h0m0.8 8.5h0m-6.8 -1.7h0m-7.8 5.6h0m7.9 -17.5h0m5.5 10.7h0m4.2 -1.9h0m-11.4 17.2h0m-5.7 -28.7h0m11 20.5h0m-9.5 -5.6h0m6.9 -12.6h0m-4 -0.4h0m12.7 6.3h0m-22 -8.3h0m16.1 2.9h0m4.4 15.8h0m0.8 7.9h0m1.2 -9.6h0m-17.8 -11.9h0m11.6 3h0m6.2 -1.9h0m-8 10.2h0m-0.4 -15h0m-9.5 11.8h0m16.8 -9.3h0m-19.1 7.5h0m4.6 -17.2h0m1.9 10.6h0m0.7 17.6h0m13.4 -9.3h0m-3.8 -23.8h0m4.7 13h0m-17.4 7.8h0m9.6 -15.9h0m-4.3 13.3h0m-2.4 0.1h0m15.1 -2.5h0m-21 2.5h0m0.5 -3.6h0m16.3 12.2h0m2.9 -25.9h0m-7.2 28.2h0m-13.4 5.9h0m20.7 -26.8h0m-24.7 17.4h0m17.4 -14h0m-1.1 12.8h0m-15.7 -5.9h0m12.7 -8h0m-10 12.9h0m7.3 -8.8h0m4.7 -1.7h0m0.5 -3.9h0m-15.7 10h0m16.8 10.2h0m-1.1 -38.2h0m-1.3 36.8h0m-2.4 -14.7h0m-7.4 0.9h0m15.8 9.2h0m-1.6 -18.1h0m-1.3 16.7h0m4.2 -10.9h0m-6.3 14.6h0m-2.2 -16.4h0m1.5 21.5h0m8.1 -12.6h0m-11.7 -1.7h0m-4.1 3.3h0m1.6 5.2h0m12.7 0.4h0m-10 3.1h0m12.2 -1.3h0m-10 -11.4h0m4.5 -3.4h0m6.2 14h0m4.7 -9.1h0m-5.1 -5.9h0m-15.5 3.7h0m9.5 -1.9h0m-0.6 0.1h0m-10.7 8.5h0m19.5 -5.5h0m-8.5 5.9h0m-3.8 -16.6h0m-6.9 13.1h0m13.7 -8.8h0m-17.7 8.5h0m18.7 4.2h0m-9.9 -2.5h0m-2.7 -9.5h0m10.6 9.2h0m-12 3.2h0m7.9 -6.5h0m0.6 4.6h0m-6.2 -6.4h0m6.6 10.5h0m11.3 -12.2h0m-7.5 15.2h0m-2.8 -15.6h0m4.9 4.2h0m-8.8 -15h0m2.7 11.7h0m6.3 9.7h0m-11.6 -13.5h0m5.2 11.8h0m1 10.6h0m-0.8 -12.4h0m12.2 0.7h0m-15.4 -2.9h0m4 -14h0m-12.5 16h0m15.8 -8.8h0m-2.5 4.6h0m-8.1 2.5h0m6.2 8.2h0m10.7 -4.3h0m-16.8 1.9h0m11.8 6.6h0m-4.7 0.2h0m1.7 -23.6h0m-15.4 0.9h0m-0.1 10h0m12.8 -0.4h0m3.5 9.8h0m-6.5 -12.6h0m-8.9 4.7h0m25 6.1h0m-12.9 0.1h0m3 -0.4h0m-4 -10.4h0m-8.4 17h0m10.5 -23.1h0m-3.2 3.9h0m-1.2 22.2h0m-0.4 -19.9h0m3.8 7.6h0m-0.2 1.9h0m-17 -9.7h0m12 3.8h0m4.6 8h0m2 -2.5h0m1.9 -13.6h0m-13.5 19h0m10.3 -18.5h0m-3.9 14.2h0m6.2 -9.7h0m-6.8 -3.7h0m1.1 8.7h0m-11.6 -6.5h0m4.4 3.5h0m24.1 -5.9h0m-4.1 -4.1h0m-5.3 17.6h0m-1.5 -3.1h0m-10 2.7h0m19.7 -5.2h0m1.8 5.1h0m-15.5 -30.8h0m-5.9 23h0m2.5 1.9h0m10.2 3.1h0m-1.8 -9.8h0m-3.7 7.2h0m3.5 0.1h0m-0.9 0.8h0m-1.9 11.2h0m4.9 -25.9h0m-1.4 28.1h0m-25.9 -19.3h0m24.4 7.9h0m6 -3.3h0m-6.8 -4.6h0m-15.8 17.8h0m18.2 -12.9h0m-12.1 6.5h0m-4.3 -15.1h0m4.2 23.4h0m4.7 -18.2h0m-4 21.6h0m7 -6.2h0m1 -10.8h0m-3.2 -7.8h0m12.4 2.8h0m-0.7 3.6h0m-5.7 7.2h0m-10.1 -11.8h0m2 3.9h0m2.8 5.3h0m2 -13.9h0m-10.5 4.7h0m17.5 6.5h0m-2.5 -7.3h0m-13.6 7.2h0m-1.1 -4.3h0m11.9 14.6h0m6.6 -0.4h0m-10.6 0.7h0m-1 -2.6h0m-0.5 -1.4h0m-0.7 -8.3h0m15.1 -0.6h0m-7.4 7.4h0m-4.2 -7.7h0m-8.2 -22.1h0m-5.9 23.9h0m11.6 0.9h0m15.9 -31.6h0m0.5 18.5h0m-12 15.9h0m4.1 -17.7h0m-2 12.5h0m-13.8 10.5h0m14.4 -11.4h0m-9.5 7.9h0m3.5 -5.9h0m4.1 -5.9h0m-11.7 0.5h0m8.1 14h0m-2 4.2h0m-4.5 -10.1h0m4.7 -10.2h0m-4.4 12.1h0m25.7 1h0m-25 10.7h0m12 -12.6h0m-23.3 -7.4h0m14.2 -10.2h0m-6 10.4h0m2.9 10.5h0m14.7 -12.4h0m-6.6 10.8h0m-2 -2.7h0m5 -3h0m-7.3 4.4h0m3.9 -6.2h0m8 12.2h0m-5.5 -5.1h0m5 -4.2h0m-1.4 21.2h0m-16.3 -23.8h0m24.5 5.7h0m-22.4 -11.5h0m14.4 14h0m-12.9 3.9h0m19 -3.2h0m-5.7 -2.1h0m-15.4 -2.1h0m14.5 -10h0m-7.8 22h0m-1.5 -22.1h0m4.7 5.6h0m-7.9 3.5h0m1.6 2.3h0m-0.4 5.8h0m0.3 1.7h0m-3.3 -14.1h0m22.7 -0.2h0m-20.8 -11.9h0m10.5 4.3h0m-9.4 8.7h0m13.5 4.4h0m-10.5 -8.8h0m-3.6 9.7h0m19 -4.5h0m-17.3 8.7h0m-3.1 -7.3h0m11 -3.1h0m-15.9 10.7h0m16.7 -17.6h0m-7.5 3.4h0m3.8 9.6h0m-10.8 -2.9h0m14.9 0.9h0m-1.9 8.6h0m-7.9 -18.5h0m3.5 7.5h0m6.6 -3.3h0m-19.2 10.6h0m16.6 -15.1h0m-0.3 5.5h0m-7.1 -12.7h0m1.4 4.5h0m13.4 8.1h0m-12.5 14.6h0m-1.4 -10.5h0m-4.1 -4.4h0m8.5 12.2h0m-3 -17.4h0m12.6 25.4h0m-5.6 -25.2h0m-12.5 14.7h0m1.2 -11.1h0m11.2 -8.2h0m-11.3 6.9h0m-2.1 10.9h0m6.9 -8.2h0m2.2 6h0m9.3 -1.3h0m-17.9 -2.7h0m17.1 4.5h0m-11 0.9h0m2.9 -0.7h0m-6.3 -7.8h0m10.3 8.1h0m3.7 -10.6h0m-9 -1.2h0m4.8 12.8h0m-8.9 4.1h0m-4.1 4.6h0m-2.2 -11.1h0m6.9 -9.1h0m0.4 8.7h0m10.1 7h0m-7.4 -4.9h0m-6.8 4.8h0m3.9 -7.4h0m2.2 3.2h0m4.4 -17.7h0m-6.6 12.8h0m21 -16.3h0m-11.7 13.5h0m-9.4 7.9h0m4.5 -6.6h0m-9.1 6.3h0m11.3 -8.3h0m-9.1 20.3h0m4.9 -28.6h0m-8.4 6.3h0m4 -3.9h0m-0.7 18.4h0m8.5 -29.4h0m-3.4 31.4h0m12.3 -8.9h0m-25.9 4h0m15.8 -2.8h0m6.6 -3.6h0m-18 10h0m15 -6.8h0m-6.6 -7.8h0m4.3 15h0m17.8 -11.2h0m-10.4 6.3h0m-17.4 2.9h0m2.1 -4h0m-1.1 1.4h0m3 -6.3h0m4.5 -4.8h0m8.4 9h0m-7.9 -5.7h0m-1.5 2.5h0m-4.1 -6.8h0m17.4 1.2h0m-13.6 -5.1h0m-7.6 21.9h0m13.4 -10.8h0m-8.4 0h0m2.5 -14.4h0m9.1 7.4h0m-11.1 17.5h0m-5.9 -9.1h0m-7.8 8.7h0m14.3 -15.1h0m-4.8 -0.5h0m3.5 6.6h0m-12.8 6.4h0m17.8 -11.4h0m-5.6 10.3h0m17.4 -8h0m-12.6 9.4h0m5.1 -25.1h0m-19.5 -1.3h0m17 6.4h0m-4.3 28.2h0m11.3 -22.1h0m-7.8 -4.2h0m-8.5 14.4h0m7.8 -3.6h0m-3.6 2.7h0m5.7 -10.1h0m16.2 -6.8h0m-28 20.7h0m-4.4 -0.2h0m6.5 -14.3h0m0.2 14.4h0m4.8 -14.8h0m5.1 12.2h0m-0.7 -7.7h0m-8.4 -7.3h0m0.4 6.7h0m12 -2.9h0m-2.5 17.7h0m-1.5 0.6h0m-9.6 -15.9h0m0 11.9h0m0.4 -9.7h0m-2.9 -6.3h0m7.7 7.9h0m-3.3 15.6h0m-17 -11.6h0m17 0.3h0m2.7 -12.7h0m14.5 0.1h0m-1.9 2.8h0m-14.7 1.3h0m11 1.4h0m-9.2 0.3h0m0.9 16.6h0m-7.7 -20.1h0m12.8 6.9h0m-0.2 1.8h0m-12.6 -12.3h0m10.1 13.1h0m9.7 -7.4h0m-18.1 19h0m16.3 -17.9h0m-11.6 -13h0m-6.8 16.2h0m1.6 -10.2h0m16.2 2.6h0m-22.8 -2h0m16.1 16.4h0m-8.7 3.5h0m11.3 -7.7h0m-2.9 -4.6h0m-3.9 5.1h0m5.7 -0.7h0m1.9 1.1h0m-3.3 12.6h0m3.9 -12.4h0m-1 -2.7h0m-5.4 -14.7h0m-1.5 12.2h0m-9.3 -4.5h0m8 6.3h0m-1.4 5.1h0m8.5 9.9h0m9 -14.7h0m-24.3 3.1h0m0.1 -10.4h0m6.2 2.8h0m4.8 6.8h0m11.9 0.9h0m-19.4 -12.4h0m0.7 -2.9h0m-2 7.4h0m14.4 13.5h0m-12.3 -6.9h0m2.2 0.8h0m0.1 -18.1h0m3.9 25.7h0m-7.3 0.6h0m10.3 -20.9h0m-9.4 11.1h0m-0.5 3.8h0m15.3 -3.9h0m-9.7 -11.1h0m3.5 16.7h0m-10.7 5.9h0m-0.2 -13.6h0m7.8 8.9h0m-10.4 2.2h0m9.6 -5.5h0m4.6 8.2h0m-6 -11.8h0m-2.9 -0.5h0m10.4 9.3h0m-5 -12.5h0m-1.8 -7.7h0m3.9 4.7h0m0.5 13.9h0m-2.5 4.6h0m0.1 -5.5h0m7.6 -17.6h0m-9.7 14.3h0m-7 -4.6h0m6 8.8h0m-7.3 -17.4h0m13.3 10.3h0m-9.5 -5.1h0m1.2 -7.8h0m17.6 9.9h0m-16.7 18.1h0m6.6 -18.8h0m-6.7 7.3h0m1.1 6.1h0m0.3 -17.3h0m-3 12.1h0m6.2 -6h0m-0.2 0.8h0m-22.1 2.8h0m33.1 -5.2h0m-19.7 11.1h0m15.7 -9.7h0m3.1 -2h0m-7.7 3.5h0m-4.3 -5.8h0m9.3 -3.7h0m-7.4 -0.7h0m-4.3 -2h0m-12.1 1.3h0m18.1 19.2h0m-2.1 -5.8h0m5.7 12.6h0m-4 -21.3h0m1.8 2.3h0m2.1 -8.2h0m-11.4 21.7h0m13.4 -19.8h0m-4.6 13.6h0m1.5 -4.3h0m-14.9 9.8h0m11 -16.1h0m13.5 7.7h0m-13.3 1.1h0m-6.4 -0.1h0m-4.1 -5.8h0m12.8 22.8h0m4.2 -16.4h0m-5.8 -4.1h0m5.3 -3h0m-2.1 16h0m-6 -4.3h0m9.3 -28.1h0m-5.4 6h0m-0.4 9.2h0m-6.5 -0.6h0m4 13.4h0m-9.6 2.3h0m7.8 -16.9h0m-7.6 10.9h0m7.9 -6.4h0m1.1 0.4h0m3.3 -14h0m-7.3 31.4h0m5.9 -15.4h0m1.8 15h0m-3.2 -15.2h0m-1.1 13.5h0m10.2 -9.9h0m-18.1 -3.4h0m3.7 -3.6h0m-0.3 -2.6h0m4.1 6.3h0m-1.6 -1.4h0m0.7 7.2h0m2.1 -1.3h0m-14.9 -8.2h0m24.5 7.1h0m-4.1 -4.8h0m-6.6 -3.7h0m3.3 17h0m5.2 -19.3h0m-2.9 4.6h0m-2.1 3.2h0m0.4 -0.2h0m-9 5.2h0m6.3 -11.1h0m-5.5 24.4h0m12.1 3.2h0m0.4 -26.4h0m-15.7 6.5h0m8.8 -0.8h0m-0.7 4.7h0m7 -10.3h0m-22.8 6.9h0m12.7 -4.6h0m16.2 2h0m-5.4 -12.4h0m7.3 7.3h0m-11.9 5h0m0.3 -7h0m-8.4 8.8h0m2.3 -3.6h0m4.1 -5.5h0m11.8 -1.5h0m-8.4 20.6h0m4.2 -5.8h0m-6.5 -10.4h0m-2.9 -2.5h0m5.2 4.9h0m-1.4 3.7h0m-1.2 6.9h0m-0.2 1.8h0m5.3 -12.8h0m12.1 13.4h0m-17.6 -9.3h0m6.8 7h0m-2.1 -3.2h0m-5.7 2.1h0m5.7 -3h0m-11.3 -4.8h0m-0.1 -6.5h0m8.7 15.4h0m-2.6 7h0m-6.6 -15.3h0m11.7 -1.3h0m-7.4 4.5h0m9.8 -8.5h0m-12.1 3h0m-1.4 7.2h0m12.1 -9.7h0m4.1 4.8h0m-13 0.4h0m14.5 6h0m-15 9h0m5.5 -19.7h0m12.3 -11.8h0m-17.5 7.1h0m2.6 3.3h0m2.4 4.8h0m1.3 5h0m8.5 -15.2h0m-22.9 3.9h0m21.7 0.4h0m-13.5 6.1h0m0.3 -7.3h0m-1.3 -1.7h0m2.2 15.6h0m-1.6 4.1h0m-2.8 -18.2h0m5.9 -1.3h0m3.9 4.7h0m-7.5 5.9h0m-4.5 9.1h0m17.4 -1.7h0m-14.2 -20.5h0m9.5 5.3h0m-1.7 9.5h0m-3.3 -11.3h0m1.7 9.8h0m-1.8 5.4h0m-3 -8.8h0m4.2 8h0m4.9 -12.9h0m-2.2 14h0m1.9 -8.1h0m-6.8 -11h0m-1.6 10.6h0m14.5 11.6h0m-18.9 -22.5h0m6.2 6.7h0m6.1 -4h0m-3.3 10.2h0m0.8 -4.5h0m-2.7 4.2h0m-4.2 -7.9h0m4.9 6.2h0m4.1 5.7h0m-9.2 3.5h0m7 -1.2h0m-2.1 -4h0m-8 -10.3h0m5.5 1.5h0m2.1 6.8h0m8.3 -6.1h0m-0.9 -8.5h0m-10.5 15.3h0m16.4 -3.6h0m-14.6 -2.7h0m5.1 2.4h0m-7 -0.5h0m-5.8 19.9h0m14.6 -25.4h0m-10.2 24.2h0m13.5 1.8h0m-14.6 -22.7h0m4.3 -3.6h0m4.5 3.6h0m-0.7 14.6h0m3.8 2.8h0m-11.1 -16h0m11.5 20.2h0m-9.2 -31.2h0m9.6 1.8h0m-6.8 13.5h0m9.5 3.8h0m-19.5 -10.7h0m22.5 -8.4h0m-16.5 21.2h0m3 -0.5h0m4.8 -9.3h0m-9.3 5.1h0m8.4 -9.3h0m-0.6 -12.2h0m1.4 13h0m4 14.7h0m-11.8 -11.9h0m10.9 7.7h0m-0.3 7.7h0m-5.2 -18.2h0m14.7 -0.4h0m-12.1 2.1h0m11.8 -6.4h0m-18.4 17h0m0.7 -5.8h0m4.8 12.7h0m-0.7 -13.8h0m-0.6 -11.6h0m1.3 13.1h0m-3.5 1.9h0m4 -8.8h0m-3.2 -6h0m-7.4 7h0m3.7 4.1h0m13.3 -7.9h0m4.6 9h0m-4.5 -9.7h0m-19.7 11.2h0m8.8 -2.5h0m-1.3 4.8h0m8.5 11.8h0m-12.3 -8.9h0m-1.4 -15.2h0m17.3 3.3h0m-16.2 4.7h0m-5.4 -0.6h0m17.3 -9.8h0m-12 14h0m19 -4.4h0m-18.4 9.3h0m6.6 6.6h0m15.5 -10.9h0m-18 -4.2h0m6.6 7.5h0m-3.2 6.8h0m-2.8 -17.3h0m6.7 12.5h0m-1.9 -24.7h0m10.3 15.3h0m-15.9 4.2h0m-1 4.8h0m1.4 -9.4h0m-9.3 2.4h0m2.2 6h0m8.5 -14.1h0m3.3 14.2h0m-5.1 -14.2h0m5.8 12.5h0m-6.9 -11.2h0m4.9 2.9h0m-3 -8.7h0m7.8 4.8h0m-1.3 16h0m-10 -20.3h0m4.2 -7.9h0m-2.9 24.3h0m10.6 -10.9h0m2.7 8.5h0m1.6 -3.7h0m-1 -21.5h0m-19.4 40.1h0m7.8 -10.3h0m-5.3 -12.2h0m2.7 12h0m-12.5 -12.9h0m20.5 -2.9h0m-1.1 8.3h0m-5.1 7h0m13.2 -13.3h0m-10.5 1.2h0m6.8 13.9h0m-7.6 -14.7h0m-10.6 20h0m14.6 3.2h0m-7.1 -21.4h0m20.7 11.7h0m-21.7 -21.2h0m-3.1 10.9h0m4.7 15.9h0m21.1 -29.3h0m-19.7 14h0m9.8 2.2h0m-24 6.2h0m23.9 -21.3h0m-1.1 2h0m-6 -1h0m11.6 13h0m-11.9 -9h0m-1.7 0.5h0m1.2 21.3h0m10.3 -21.7h0m-7.5 21.3h0m-3.3 -18.7h0m0.7 28.8h0m6.3 -28.2h0m-20.9 16.1h0m23.3 -16.3h0m-8.5 1.5h0m-2.3 0.1h0m-4.2 4.9h0m4.6 -3.5h0m9.7 -2.8h0m2.4 16.9h0m-10.3 -0.9h0m12.1 -15.7h0m-11.5 25.8h0m13 -26.5h0m-24.4 22.6h0m7.8 -16.6h0m2.7 -12.2h0m8 4h0m-18.4 17.8h0m10.3 -5.3h0m2.4 -12.5h0m-9.7 -2.7h0m-3.2 35h0m10.1 -28.4h0m1 13.8h0m5.1 -25.1h0m-12.9 19.7h0m13.4 -19.8h0m4.6 14.1h0m-13.2 -9.1h0m11.6 5.4h0m-0.2 4.1h0m-10.5 5.9h0m5.8 1.7h0m-2.9 0.1h0m-4.7 2.3h0m2.2 -5.9h0m0.9 -4.1h0m-13.8 -1.8h0m13.7 -7.2h0m-5.3 10.4h0m3.1 -10.2h0m12.7 9.1h0m3.4 -9.2h0m-19.2 2.4h0m18.1 0.5h0m-3.9 2.7h0m-11.1 2.9h0m15 -3.7h0m-8.6 16.2h0m3.6 -10.4h0m1.6 0.3h0m0.7 -6.6h0m-7.5 19.2h0m-8.9 -16.3h0m0.3 -5.9h0m21.2 6h0m-9.3 9.3h0m1 -8.3h0m-5.6 14.4h0m5.3 -11.7h0m2 1.9h0m-2 -3.2h0m-0.2 -10h0m-0.7 3.2h0m-6.5 1.9h0m12.5 2.2h0m-5.3 5.8h0m-11.3 -8.7h0m16 6.5h0m-23.1 -0.8h0m9.6 -2.8h0m8.9 -12h0m-9.4 13.7h0m1.2 -1.8h0m0 10.3h0m9.5 2.7h0m-10.3 -0.6h0m-7.3 -7h0m2 -20.4h0m4 3.3h0m20.4 19.8h0m-30.5 8.8h0m20.2 -23.6h0m-6.7 14.3h0m-0.2 3.6h0m3.7 -20.7h0m6.6 14.6h0m-6.5 -19h0m-4.7 13.5h0m-1.7 7.8h0m-8.8 -3.3h0m2.8 13.2h0m19 -12.1h0m-11.1 1.9h0m9.5 -7.2h0m-7.5 4.2h0m3.8 -16.4h0m-15.3 15.6h0m11.6 -4.1h0m3.8 -11.8h0m5.3 11.7h0m-12.5 -12h0m8.5 3.8h0m-6.9 12.5h0m-1.1 2.2h0m0.1 17.4h0m-2.8 -22.5h0m21.2 8.8h0m-16.5 -9.9h0m1.1 -11.5h0m-3.8 15.3h0m8.3 3.7h0m-7.3 -9.9h0m3.3 7.5h0m-1.6 1.9h0m-5.5 0.8h0m0.2 -6.7h0m6.6 -0.9h0m-6.6 9.5h0m4.3 -2.4h0m1.4 -4.8h0m7.9 11.7h0m-3.6 -17.1h0m1.6 0.1h0m-5.1 9h0m14.3 -20.8h0m-13.7 9.4h0m16.2 9.8h0m-8.3 -1.5h0m-0.5 -7.5h0m-1.8 -3.5h0m-8.7 6.4h0m12.2 -14.5h0m-0.1 22.4h0m-10.8 1.3h0m-0.7 2.4h0m4.5 -1.8h0m-6.7 -4.8h0m2.7 2.5h0m6.3 4.2h0m-1.9 -11.2h0m-2.8 15.5h0m-2.5 -0.1h0m-1.3 -12.2h0m-3.1 6.6h0m11 -21.5h0m1.5 20.5h0m2.5 -4.6h0m-18.7 7.7h0m19.7 -33h0m-8.9 28.7h0m-5.2 -13.2h0m5.6 8.3h0m2.4 -2.6h0m-10.2 6.9h0m6.6 19.3h0m-6.2 -10.9h0m8.7 -24.4h0m-1.6 8.7h0m1.8 -0.1h0m5.2 12.5h0m-16.8 -8.3h0m12 5h0m-0.6 6.7h0m14 -11.5h0m-13.5 7.5h0m-9.9 5.4h0m10.4 -11.8h0m-3.7 0.1h0m-3.9 3.5h0m9.1 -4.8h0m3.8 -1.6h0m-16.6 -10.8h0m5.8 17.1h0m7.5 3.8h0m-3.5 -13.5h0m7.1 8.1h0m-11.6 -0.1h0m8.7 -7.9h0m0.8 -4.2h0m-7.9 3.1h0m-1.3 14.3h0m-2.1 14.3h0m8.1 -28.9h0m3.2 11.6h0m-0.2 -1.6h0m4.6 -17.9h0m-5 9.2h0m-3.4 4.8h0m4.8 3.3h0m-13.5 9.8h0m2.6 -18.9h0m-1.1 6.2h0m11.6 -0.5h0m0.5 -8.7h0m-7.7 16.2h0m11.1 -7.2h0m-14.4 18.5h0m3.1 -1.6h0m5 -18.1h0m0.5 -3.7h0m-4.5 11.8h0m2.2 -15.4h0m-10.4 6.5h0m7.8 -7.1h0m-5 14.8h0m0.9 1.4h0m12.8 -14h0m4.9 0.5h0m-13.1 15.5h0m18.5 -14.2h0m-32.2 13.7h0m12.3 -11.9h0m0.5 12.9h0m-16.5 -7.8h0m17.6 -0.3h0m7.1 -3.1h0m-8.9 0.7h0m-11.5 3.2h0m17.7 4.5h0m9.9 -5.9h0m-27 -2.8h0m20.9 -1h0m-22.7 9.2h0m18.7 -4.7h0m-10.3 7.3h0m-4.5 -4.6h0m7 7.3h0m-2.6 -9.2h0m9.3 22.9h0m-7.5 -17.2h0m2.8 2.7h0m-2.9 2.2h0m9.1 -8.3h0m-12.7 3.3h0m20.1 -0.1h0m-15.1 5.3h0m2.4 -6.3h0m2.6 -10.5h0m-0.2 3.4h0m-5.6 5.4h0m-3.9 7.9h0m3.1 -6.6h0m8.3 -10.1h0m3.9 3.7h0m-12.3 20.5h0m3.2 -19.5h0m0.6 11.4h0m9.9 -17.8h0m-5.9 8.6h0m10.4 -5h0m-10 -6.3h0m-3 8.8h0m-3.9 -2.6h0m0.2 -4.6h0m2.4 14.6h0m-3.2 -3.2h0m2.4 14.1h0m-0.1 -18.2h0m3.5 -2.8h0m8.3 13.2h0m-5.9 -4.4h0m-3.9 -21.3h0m-6.2 12.9h0m5.8 -6.2h0m4.6 20.5h0m-8.5 -20.8h0m7.7 0.5h0m14.1 -8.2h0m-22 20.5h0m1.7 3.5h0m6.5 -5.7h0m-14.1 -5.5h0m16.1 13.7h0m-4.7 -18.9h0m-3.7 9.9h0m-9.3 -4.7h0m9.1 -4.4h0m-14.2 1.4h0m25.2 8.4h0m-5.8 19.5h0m-6.9 -26.2h0m6.5 20.4h0m1.5 -15.6h0m-10.5 0.8h0m2.2 -9.2h0m-4.6 -1.9h0m-3.7 14.6h0m4.4 -17.9h0m8.7 24.5h0m13.7 -6.9h0m-5.6 -16.2h0m-19.1 3.2h0m5.3 15.6h0m-4.8 -7.9h0m1.3 7.1h0m13.8 -12.4h0m-8.4 9.1h0m-1 -5.8h0m-8.2 1.9h0m20 -0.9h0m-4 1.2h0m10.1 3.7h0m-22.2 -6.7h0m9.7 14.5h0m6.3 -16.2h0m-4.4 0.3h0m-12.4 15.9h0m1.2 3.3h0m4.4 -2.3h0m-9.9 -14.1h0m20.1 -0.6h0m-10 15h0m3.1 -17.3h0m3.5 0h0m0.6 -1.7h0m-1.4 10.4h0m1 -8h0m-10.3 7.2h0m1.6 -0.1h0m6.5 -2.7h0m-2 1.8h0m11 1.7h0m-11.1 -13.1h0m-0.6 6.7h0m-0.9 4.3h0m-8.8 1.4h0m5 18h0m3.1 -31h0m1.5 6.5h0m-3.4 0.8h0m3.1 5.6h0m-4 17.5h0m-11.3 -23.8h0m18.2 -0.3h0m1.3 4.4h0m-11.1 1.4h0m4.1 1.8h0m22.4 -15.4h0m-22.4 15.7h0m8.7 -3.9h0m-13.1 4.2h0m20.9 -15.7h0m-28.4 20.6h0m15 -1h0m0.3 -12.1h0m-2.5 18.3h0m4.8 -17.9h0m0.7 10h0m-9.9 -7.5h0m-0.7 -1.6h0m14 -2.6h0m-7.2 14.8h0m-9.1 -23.3h0m20.9 20h0m-15.9 6.8h0m1 -0.8h0m-13.1 4h0m17 -10.5h0m4.5 -6.5h0m4 -5.4h0m-12.2 -0.8h0m24.9 17.1h0m-8.6 -24.8h0m-3.3 12.4h0m3.1 11.4h0m-13.4 -5.2h0m-5.9 -25h0m-2.9 15.2h0m7.9 12h0m2.6 -1.7h0m-3 2.6h0m-3.1 2.7h0m6.4 4.1h0m0.5 -0.7h0m-4.1 -9.4h0m7.3 -11.7h0m-6.3 25.5h0m-4.4 7.4h0m-3.9 -23.9h0m8.7 -1.2h0m4.7 -15.7h0m12 4.9h0m-22.1 15.1h0m10.1 -13.8h0m-4.1 9h0m-4.8 10.6h0m-7 -4.8h0m24.1 2.8h0m-6.8 -19.8h0m-0.5 13.2h0m2.3 -10.3h0m-10.1 13h0m24.8 -5.6h0m-36.4 2.8h0m17.5 -6.7h0m6.8 8.6h0m-17.4 -5.7h0m2.7 19.4h0m4.6 -5.6h0m-4.7 -0.6h0m-0.6 1.5h0m9.4 -5.9h0m0 -16.3h0m8 23h0m-5.5 -13.2h0m6.4 0.1h0m-4 -5.1h0m-11.1 -1.8h0m1 12.9h0m2.9 -5.4h0m0.7 -1.7h0m-13.3 1.9h0m18.7 -4.7h0m-5.7 13.6h0m0.9 -11.4h0m-15.2 14.9h0m22.7 -3h0m-14 -2.8h0m-1.7 1.7h0m-6.4 -15.6h0m9.1 32.4h0m-0.1 -26.3h0m13.4 -3.7h0m-16.7 21.9h0m6 -27h0m6.8 15.4h0m-14.4 -5.6h0m-2.1 3h0m0.9 -11h0m1.9 -3.4h0m-1.6 8.2h0m15.7 9h0m6.2 -10.9h0m-11.7 6.8h0m4.4 -1.3h0m1.4 6.3h0m2.4 -5.8h0m-2.7 -2.3h0m-10.9 7h0m-0.9 4.9h0m11 -6.3h0m13 14.7h0m-10 -14.1h0m-22.1 -18.7h0m23.1 20.4h0m-11.1 15.7h0m-3.9 -15.2h0m-6.1 -12.7h0m8.1 3.3h0m6.4 10.9h0m10.1 -35.2h0m-11.4 22.9h0m-1.6 11h0m6.1 -18.2h0m-4.7 4h0m-4.8 -16.7h0m9.1 21.1h0m-12.2 -1.5h0m1.9 13.5h0m-3 -12.4h0m8.5 13.8h0m-1.4 -19.7h0m-6.2 13.5h0m17.6 -22.6h0m-4 21.8h0m8 -18.7h0m-19.4 27h0m1.2 -8.9h0m-2.7 6.5h0m5.3 0.7h0m-8.5 -13.4h0m1.1 16.4h0m13.6 -16.6h0m-27.9 -3.6h0m16.1 9.8h0m-2.7 -2.5h0m3.4 2.2h0m18.6 -22.1h0m-13.7 21.7h0m1.8 0h0m-2.2 1.8h0m10 -9.5h0m1.3 7h0m-16 -5h0m-3.9 16.7h0m12.4 -11h0m-3.2 -11.6h0m3.6 18.6h0m-2.7 -19.2h0m10.1 11.4h0m-9.7 -3.4h0m2.3 22.8h0m-0.1 -25h0m-12.6 5.6h0m8.8 -0.1h0m-4 -12.5h0m9.5 0.3h0m-7.6 -0.4h0m12.4 12.2h0m-18.9 -4.7h0m12.3 8.5h0m-16.6 3.8h0m8.2 -12h0m-0.3 -4.2h0m-4.7 21.4h0m9.3 -27.2h0m3.1 14.9h0m2.9 9.7h0m-1 -10.7h0m-20.4 9.6h0m7.4 12.6h0m13.7 -18.2h0m-1.6 -16.3h0m-0.4 15.9h0m-3.3 -17.7h0m1.2 8.7h0m4.4 10.4h0m-14.1 -0.9h0m11.3 -9.2h0m-3.4 7.2h0m0.6 -6.7h0m6.1 -0.3h0m7.9 -3.7h0m-11.8 1.5h0m-4.8 5h0m10.5 -21.2h0m4 22.5h0m-20.4 10.1h0m1.7 -8.3h0m0.6 8.3h0m16 -17.7h0m-8.4 8.5h0m-0.5 15.3h0m-5.9 -21.2h0m5.4 3.9h0m-7.5 3.9h0m-0.2 1.4h0m12.2 -6h0m-4.1 -0.2h0m12.9 11.4h0m-10 9.7h0m-1.1 -20.7h0m-4.5 6.2h0m-9.9 2.6h0m1.4 -9.3h0m21.5 -0.9h0m-30.6 28h0m22.9 -25.6h0m0.9 1.8h0m4.9 -4h0m-2.6 -10.5h0m-13.9 3.4h0m-0.2 9h0m28.5 -3.6h0m-27.1 -2h0m7.1 8.5h0m8.1 0.1h0m-23.1 -15.3h0m15.8 2h0m7.3 20.2h0m-18 -9.2h0m6.6 12.1h0m16.3 -14.5h0m-16.5 3.9h0m5.3 -14.5h0m4.2 3h0m-6.7 8.7h0m-1.4 -1h0m-0.6 8.7h0m3 0.8h0m-1.6 -7.3h0m-0.7 2.4h0m7.2 -15.1h0m-8.8 18.1h0m4.4 -9.9h0m-2.8 6.4h0m5.3 -0.9h0m-12.9 -7.3h0m-11.1 9.8h0m30.7 -5.9h0m-5 -6.4h0m-1.7 0.8h0m-13.9 6.5h0m4.5 7.7h0m20.2 -8.2h0m-12.8 8h0m-5.6 -8.8h0m-5.7 16.2h0m3.8 -1.2h0m4.7 -10.2h0m4.4 1.9h0m0.5 7.1h0m-7.7 4h0m0.2 -18.7h0m3.9 19.5h0m3.6 -7.1h0m-1 -13.6h0m4.4 8.7h0m-11.9 -7.8h0m9.5 5.4h0m-2.4 -1.2h0m-3.1 2.1h0m-11.2 3.1h0m11.4 -14.7h0m-8.4 5.2h0m4.3 2.1h0m7 -23h0m1.7 36.4h0m-14.4 -24.4h0m17.5 14.5h0m-5.7 11.4h0m-9.2 -9.7h0m4.1 -0.2h0m15.1 15h0m-17.3 -14.8h0m8.3 -8.9h0m0.1 -4.3h0m-0.4 8.8h0m-2.6 0.7h0m11.9 6.8h0m-16.6 -0.8h0m8.4 0h0m4.7 -5.1h0m-9.7 12.3h0m-0.2 -10.6h0m-10.3 -6.9h0m14.5 4.3h0m-6.6 13.1h0m6.7 -24.6h0m-1.7 8.1h0m-8.7 9.5h0m16.1 2.1h0m-9.9 -14.6h0m4.4 0h0m-1.2 14.8h0m-14.1 -3.1h0m4.8 -18.3h0m-0.2 6.8h0m7.2 7.8h0m-14.5 -1.6h0m15.4 2.6h0m-2.5 6.3h0m1.1 -16.7h0m-5 4.8h0m12.3 3.4h0m7.9 -16.2h0m-2.6 17.6h0m-6.4 10.6h0m-10 -7.7h0m10.5 -11h0m-10.6 -6h0m3.2 10.7h0m-10.8 1h0m17.6 -4.5h0m-15.9 11.5h0m18.6 5.7h0m-9.3 -10.3h0m4 -3.9h0m4.1 3.9h0m1.2 -0.5h0m-9.8 10.1h0m2.7 -6.5h0m-4 -4.3h0m9.7 6.2h0m-15.2 -3.7h0m18.1 -3.7h0m-8.1 4.8h0m-3.8 3.7h0m12.2 -13h0m-9.9 5h0m-1.2 15.5h0m11 -14.8h0m0 -13.9h0m-13 4.7h0m13.9 2.9h0m-0.8 -1.8h0m2.7 9.2h0m-8.7 6.8h0m-4.5 -17.3h0m1.7 20.6h0m4.8 -9.6h0m-7.6 -7.5h0m11.7 7h0m-11.3 2.1h0m5 8.7h0m-5.5 -29.5h0m11.5 14.8h0m-12.1 7.4h0m-4.1 2.8h0m12.9 -6.1h0m1.2 0.9h0m-13.1 -5.6h0m19.1 -4.2h0m-2.3 18.5h0m-7.4 -13.3h0m-13.2 -17.7h0m11.1 35.4h0m-7 -14.6h0m14.4 -10.4h0m-15.5 19.1h0m22.2 -10.8h0m-18.3 18.7h0m-8.5 -17.5h0m1.6 -1.4h0m20.2 10.7h0m-2.5 -10.3h0m-2.6 -1.7h0m-8.9 -6.6h0m9.5 15.3h0m-9.6 -0.2h0m18.6 -10.5h0m-20.7 8.6h0m10.6 -6.7h0m-1.4 10.6h0m0.1 -10.9h0m15.3 -15.7h0m-8.3 15.9h0m6.6 -16.7h0m-15.7 27.1h0m-3.6 -8.4h0m6 0.5h0m-5.8 0.7h0m-4.8 -9.6h0m10.6 3.9h0m-17.3 -1.4h0m8.3 -9.6h0m8.4 25.8h0m-6.2 -4.5h0m-4.9 12.8h0m14.4 -16.7h0m-4.5 2.9h0m-3.8 -7.9h0m14 15.7h0m-5.1 -0.9h0m4.3 -6.8h0m-8.4 3.4h0m-2.1 -9.5h0m-3.7 -1.2h0m1.4 4h0m4.4 -5.9h0m-8 16.4h0m0.2 -11.6h0m12.8 -8.1h0m-9.2 1h0m8.2 14.1h0m-7.3 6.7h0m-1.3 -14.2h0m-3.8 -1.4h0m-0.6 -1.4h0m13 18.2h0m-21.6 -13h0m13.7 -10h0m-8.2 37.3h0m15.6 -34.3h0m-0.9 -7.4h0m-9.1 6.8h0m15.6 9.6h0m-8.1 -6.1h0m-10.8 18.4h0m9.7 -2.6h0m-1.2 -5.4h0m9.4 5.8h0m-12.1 -2.9h0m11.5 -30h0m-7.5 28.8h0m7.1 -14.2h0m-12.9 21.9h0m10.7 5.4h0m-9.3 -23.3h0m8.1 -2.4h0m2.2 17.5h0m-19.9 -15.7h0m26.8 -5.1h0m-7 -1.2h0m-3.7 18h0m7.2 -22.2h0m-11.4 -1.8h0m9.8 8.8h0m-24.4 13.8h0m13.6 -2h0m1.4 -10.2h0m-0.7 4.5h0m5.1 0.4h0m-3.1 -4.8h0m-3.4 0.9h0m1.2 -4.4h0m5.7 -5.6h0m-8.9 9.2h0m4.4 7.2h0m-4.2 -4.9h0m1 11.1h0m7.3 -9.3h0m-2.6 -10.9h0m-8.4 26.5h0m-7.2 -4h0m20.8 -18.6h0m-12.9 10.5h0m-5.9 -7.2h0m11.1 -1.1h0m-0.8 -12.7h0m0.1 7.7h0m-2 -0.9h0m2.8 3.6h0m-2.6 13.3h0m7.6 -9.1h0m6 -7.9h0m-20.6 30.9h0m2 -5.1h0m1.3 -23.4h0m4.7 18.1h0m12.3 -3.6h0m-5.3 -7.5h0m-2.8 -14h0m-8.4 12.9h0m14.4 2.8h0m-4 -11.5h0m-11 14.9h0m4 7.7h0m-8.7 -28.3h0m15 37.7h0m-5.5 -7.1h0m4.1 -1.8h0m1.8 -17.9h0m-0.6 -0.7h0m11.2 6.5h0m-15.2 -10.4h0m-2.8 16.3h0m3.8 -3.8h0m2.9 4.4h0m-0.1 -5.9h0m1.6 0.9h0m3 12.1h0m-3.7 -2.6h0m2.8 2.4h0m0.5 -3.9h0m-9.6 -6.9h0m4.5 5.3h0m-2.5 12.8h0m-15.5 -7.9h0m27.9 -0.8h0m-1.5 -9.9h0m-18 11.8h0m6.7 3.8h0m3.5 -7.6h0m1.5 -2.4h0m-3.1 -1.2h0m-1.2 1h0m1.8 -4.5h0m-14 11h0m14.2 -9h0m-4.1 0.3h0m19.7 -5.8h0m-2.3 3.8h0m-11.1 4.5h0m-6.1 6.6h0m9.6 -7.3h0m-13.4 13.2h0m19 -12.2h0m-15 3.3h0m4.1 3.4h0m-10.2 -3.5h0m2.6 5.4h0m21.9 -10.3h0m-10.1 8.6h0m-9.2 -9h0m13 4.3h0m-10.3 6.2h0m1.4 -15.1h0m2.3 7.5h0m13.6 -2.3h0m-18.1 5.3h0m2.6 -8.9h0m-0.3 5h0m13.5 10.1h0m-25 -11h0m2.7 1h0m1.9 2.9h0m14.7 -8.8h0m-23.7 1.7h0m25.9 9.9h0m-25.7 -9h0m16.9 9.5h0m7.1 -5.4h0m-2.8 1.2h0m-9.7 8.9h0m2.5 -14.3h0m-4.4 -1.1h0m6.3 10.9h0m-11.3 2.1h0m29.2 -8.5h0m-29.8 -0.4h0m6.9 -3.2h0m-7.3 6h0m10.2 2.1h0m-8.1 7.2h0m19.3 -7.8h0m-14.5 6.4h0m2.8 -0.1h0m10.4 -14.3h0m-11.3 14.7h0m11.3 -11.3h0m-6.8 2.8h0m-9 -0.2h0m0.8 -1.2h0m9.6 -4.1h0m3.1 4.3h0m1 3.4h0m4.1 -1.9h0m-5.4 -2.7h0m-1.8 -3h0m-6 8.6h0m1.5 -1.7h0m-8.2 5.7h0m3.5 -5.1h0m5.3 1.6h0m-4.7 -8.1h0m-12.9 5.5h0m6.9 2.6h0m21.3 -16.4h0m-22.3 15.6h0m22.4 -4h0m-7.9 2.3h0m3.1 4.7h0m-1.9 -12.9h0m-8.5 8.1h0m-3.4 -1.5h0m2.2 -2.4h0m11.1 -0.5h0m-16.2 1.3h0m12.3 10.8h0m1.5 -3.1h0m-0.8 -16.6h0m0 6h0m-15.6 1.7h0m27.6 -7.2h0m-19.3 16h0m9.2 -14.8h0m-6 6.5h0m0.3 5.8h0m-4.3 -4.2h0m17 -10h0m-14.6 13.2h0m-8.6 -3.5h0m0 3.6h0m6.6 1.8h0m14.1 -5.9h0m-12.3 3.1h0m2.7 -7.3h0m10.2 4.9h0m-3.8 -6.7h0m3.6 15.4h0m-5.2 -15.5h0m-4 7.1h0m1.4 -1h0m2.3 -1.5h0m-2.5 -0.6h0m0.1 7.7h0m-5.5 -0.5h0m-4.4 -4h0m7.1 6.2h0m-4.7 0.7h0m-7.4 -5h0m22 0h0m-18.8 -5.5h0m16.9 -3.2h0m-2.1 3.8h0m-3 13.6h0m12.8 -9h0m-26.7 2.2h0m12.5 -4.1h0m10.2 -9.3h0m-7.6 9.9h0m-8.4 8.9h0m-5.9 -6.8h0m10.3 -12.1h0m-12.6 7.9h0m21.4 5h0m-2.3 -2.8h0m-25.1 4.3h0m15.9 1.6h0m17.5 1.8h0m-6.8 -5.3h0m-16.2 -0.6h0m-1.2 4h0m-0.5 -5h0m3.1 -1.8h0m11.4 -2.4h0m-2.5 -1.6h0m10.9 -0.3h0m-1.3 13.1h0m-33.4 -8.6h0m21.7 6.2h0m-3.1 -3.1h0m-2.1 1.2h0m-4.1 2h0m-18.2 -9.4h0m44.9 1.6h0m-22.8 13.5h0m16.7 -8h0m-13.7 0.1h0m6.6 -11.8h0m1.9 6.5h0m7.4 5.7h0m-18.9 -5.6h0m8.5 4.4h0m-6 -2.6h0m9.6 0.8h0m4.9 -1.7h0m-20.1 -5.8h0m16.4 3.8h0m-10.4 2h0m-11.2 1.5h0m-9.3 1.6h0m17.2 7.5h0m10.5 -11.5h0m-1.8 4.7h0m-9.1 -2.8h0m5.8 11.6h0m0.3 -20.9h0m10.2 19.6h0m-15.2 6.8h0m6.2 -12.7h0m-5.6 -4.9h0m-6.7 -2.5h0m-6.6 11.4h0m8.5 -5.1h0m12.6 -7h0m-2.1 3h0m-4.9 1.5h0m4.1 -5.8h0m-12.1 3h0m14.7 7.9h0m11.5 -7.1h0m-5 0h0m1.5 -0.2h0m-6.9 -0.8h0m-1.8 10.7h0m-12.5 -6.8h0m6.3 3.4h0m21 -9.7h0m-41.2 11.7h0m29.1 -16h0m-6.5 8.7h0m-18.4 6.8h0m24.9 -6.5h0m-14.6 -1.9h0m4.9 4.8h0m-2.4 5.1h0m9.5 -19h0m13.9 8.7h0m-20.6 3.3h0m-11.6 2.5h0m-6.8 -4.6h0m36.9 4.4h0m-17.4 -7.6h0m12.4 2.2h0m-6.1 4.3h0m-11.7 2.8h0m-9 4.8h0m3.3 -10.5h0m9.4 4.8h0m12.7 -4h0m-1.8 0.8h0m-7.6 -10h0m-20.9 1.9h0m22.5 5.8h0m-0.5 2.3h0m-1.9 -5.5h0m-12.4 -2.1h0m27.3 8.5h0m-24.7 -1.3h0m18.1 5.8h0m-10.8 -4.9h0m14.7 -11.7h0m-16.1 10.9h0m1.9 10h0m13.1 -11.5h0m-16.4 6.1h0m13.7 -9h0m-10.7 -2.7h0m5.2 10.2h0m9.7 -3.1h0m-2.6 -5.1h0m-10.5 10.4h0m6.9 -10.7h0m1.8 7.4h0m1.3 -3.7h0m-11.1 3.4h0m20.3 -4.8h0m-21.7 4.7h0m-5.4 0.4h0m9.3 1.9h0m3.8 -0.2h0m19.2 -9.5h0m-28.4 8.3h0m6.6 -2.7h0m-4.4 2.7h0m4 -13.6h0m-0.8 12h0m12.3 -6.5h0m-16.8 11.2h0m0.9 -5.2h0m10.5 1.2h0m-5.8 -7.8h0m9.8 1.5h0m-12.2 13.8h0m10.4 -16.4h0m-11.8 5.9h0m-3.9 -7.3h0m16.5 9.9h0m-6.1 -4.5h0m0.6 4.9h0m-12.4 -2.5h0m5.3 4h0m5.9 -10.5h0m-5.6 15.5h0m-4.5 -6.9h0m4 4.5h0m3.8 -8.7h0m-10 2.7h0m19.1 1h0m-19 7.6h0m7.7 -13.8h0m3.8 1.4h0m-6.5 1.1h0m4.6 -0.2h0m-14 7.3h0m11.4 1.2h0m9.2 -4.4h0m-2.7 3.7h0m-6.5 -9.7h0m4.8 -9h0m-4.2 14.6h0m0.4 4.9h0m9.3 -7.1h0m-9.3 6.3h0m-3.8 -6.5h0m13.9 2.3h0m11.2 -5.8h0m-35.2 10.4h0m28.1 -8.9h0m4.3 8.5h0m-22.2 -6.8h0m-4.6 5.6h0m18.1 -2.9h0m-18.9 -3.1h0m-2.5 -3.5h0m0.8 0h0m12.2 7.2h0m7 -3.3h0m-11.8 2.1h0m11.1 -3.3h0m-4.7 0.8h0m-5 2.5h0m-4.6 5.6h0m-4.6 -2h0m2.7 4.5h0m18.5 -14.2h0m-12.3 0.7h0m4.8 6.4h0m22.4 -12.3h0m-11.3 5.6h0m-7.7 8.3h0m2.1 -2.5h0m-7.1 -0.8h0m4.2 4.9h0m-16.2 -5.1h0m1.7 -2.5h0m5.7 8.7h0m27 -3.6h0m-31.3 -0.5h0m0.7 1.7h0m22.1 -3.3h0m-4.3 -2.7h0m-27.3 -3.8h0m19.1 8.7h0m11.7 -6.4h0m-10.4 4.6h0m8.7 -3h0m-18.7 8.7h0m13.1 -5.6h0m-15.6 0.9h0m-5.7 -8.4h0m14.8 4.8h0m8.8 7.3h0m-5.2 2.5h0m-5.8 -3.8h0m-6.7 -1.8h0m8.3 -3h0m6.9 -9.1h0m-3.4 5.6h0m1 5.5h0m-5.1 -2.7h0m-6.4 5.4h0m4.3 -1.2h0m-6.1 5.4h0m3.5 -1.6h0m4.8 -3.7h0m2.8 0.1h0m1.9 2.5h0m5.6 -3.8h0m7.9 -7.8h0m-2.7 4h0m-25 6.3h0m12.6 3.5h0m-3.9 -7h0m5 -10h0m3.2 3.7h0m10.3 10.6h0m-15.4 -12.5h0m3.1 7.7h0m4.5 -3h0m-17.2 3.8h0m3.9 8.2h0m0 -11.3h0m5.6 -3.8h0m-2.8 5.7h0m-0.4 -0.5h0m16.2 0.4h0m-24.1 0.2h0m18.8 -4.4h0m-5.6 3.9h0m4 -1.4h0m-6.7 -2h0m4.5 -1.1h0m13.2 1.9h0m-17.1 6.8h0m0.7 -3.4h0m-0.4 -3.7h0m-7.8 1.5h0m18.7 -3h0m-13.8 3.3h0m11.9 9.3h0m-15.9 -3.9h0m8.8 -5.6h0m2.8 -5h0m4.1 6.3h0m-15.5 9.1h0m16.5 -4.9h0m-22.1 -2.8h0m9.2 2.6h0m15 -14.5h0m-10.7 10.2h0m8.9 -1.2h0m-20.7 3h0m1.7 -3.1h0m10 -0.3h0m1.3 -5.1h0m20.7 9.3h0m-16.5 -9h0m-25.8 6.5h0m20 11h0m11.7 -15h0m0.5 8.1h0m-10.8 1.9h0m1.4 -9h0m-13.2 4.8h0m18.7 -9h0m-22.2 12.8h0m-9 7.5h0m19.8 -8.6h0m19.1 -13.5h0m-23.4 21.3h0m5 -11.9h0m5.6 4.5h0m9.2 -6h0m-15.2 2h0m6.9 5h0m-1.1 2.6h0m-10.1 -4.2h0m24.3 -0.8h0m-14.6 -7.5h0m-8.9 4.9h0m9.2 -2h0m-16.4 0.6h0m19.2 4h0m-18.4 -2.4h0m-2.6 -0.5h0m47.8 -5.5h0m-35.8 3.3h0m-8.9 -4.4h0m11.9 5.3h0m12.7 -8.6h0m-7.1 15.2h0m-22.2 0.7h0m3 -1.2h0m27.6 -7.3h0m-11.4 -1.2h0m1.5 8.3h0m-5.3 -5h0m6 3.4h0m-19 -0.2h0m9 0.4h0m15.4 -3.5h0m1.3 -6.4h0m-15.4 2.8h0m5.1 4.1h0m-3.4 -5.5h0m1.8 3.3h0m6.3 -0.3h0m5.4 1.4h0m-27.7 3h0m4.8 4.5h0m25.2 -9.1h0m-10.1 -4.9h0m-23.7 8.4h0m17.3 -7.6h0m4.6 7.8h0m6 4.7h0m0 -9h0m-5.6 5.6h0m-9.9 5.1h0m16.4 -10.2h0m-10.7 20.8h0m11.1 -15.4h0m8.7 -1.3h0m-14.6 1.3h0m-10.2 1.8h0m-5.9 -0.3h0m17.5 -12.3h0m12.6 -0.4h0m-7.4 4.3h0m-6.7 0.5h0m21.1 4.2h0m-6.3 0h0m-10.6 -1.1h0m-8.1 3.6h0m3 -4.1h0m-14.1 1.8h0m17.9 -3.9h0m-2.1 1.9h0m-13.1 -1.3h0m3.1 2.3h0m5.5 5.7h0m-10 -13.1h0m17.4 4.4h0m-4.9 14.9h0m12.8 -11.4h0m-5.1 -1.3h0m-0.4 -3.3h0m-15.1 3.3h0m22.5 5.5h0m-20.2 1.7h0m4 -1.1h0m-1.5 -0.3h0m0.9 -5.9h0m1.1 1.8h0m-6.3 -6h0m21.5 0.8h0m-33.4 -2.9h0m-7.7 9.1h0m37.1 -11.3h0m-15.5 1.8h0m14.8 7.7h0m-6.3 5.7h0m11.8 -3.5h0m-22.2 -7.2h0m-4.5 -1.2h0m27.2 2.5h0m-15 4.5h0m16.6 -6.5h0m-6.9 5.3h0m-13.9 -8h0m10.7 3.6h0m-11.8 6.7h0m5.8 3.2h0m-7.8 -3.2h0m8.6 -2.1h0m3.4 -1.9h0m4.4 -3h0m-23.6 7.4h0m23.6 -6.4h0m-16.4 3.7h0m7.4 -0.5h0m0.1 -7.3h0m12.7 8.6h0m-20.9 7.4h0m12 -1.7h0m-14.7 3.5h0m8.2 -18.9h0m7.8 6.8h0m-16 3.3h0m-7.8 5.1h0m15 -6.7h0m15.1 -1.2h0m-19.7 -1.2h0m7.1 8.3h0m-6.4 -8.8h0m14.6 2.6h0m-7 10.8h0m-12.4 -6.7h0m-5.5 -1.4h0m22.7 2.7h0m-17.2 1.7h0m18 -7.7h0m15.4 -2.1h0m-30.2 7.3h0m-8 6.7h0m24.4 -13.5h0m-2.7 4.9h0m11.2 -7.4h0m-30.6 -1.3h0m9.4 0.5h0m2.7 8.9h0m-3.5 -5.8h0m15.5 0.8h0m-7.8 6.8h0m-15.5 -6.1h0m35.3 -2.6h0m-32.4 5.2h0m3.5 -5.2h0m2.4 5.3h0m4.1 1.9h0m-17.3 -6.5h0m23.8 0.7h0m4.5 2.7h0m-23.7 5.3h0m3.4 -1.9h0m21.9 4.9h0m-13 -4.4h0m3.5 -0.2h0m-27 -0.8h0m26.6 -0.6h0m-9.2 3.3h0m16.3 -6.4h0m-12.5 0.2h0m4.6 6.4h0m11.1 -9.7h0m-22.4 2.4h0m18.2 1.5h0m-6 2.3h0m0.2 -2.8h0m-13.3 0h0m11.4 2.7h0m-5.1 -2.9h0m15.8 -3h0m-10.3 2.5h0m-10.8 -3.7h0m3.5 2.7h0m12.3 -3.8h0m-10 10.3h0m2.6 -1.3h0m6.9 -11.2h0m-10.8 5.1h0m16.6 1h0m-6.2 9.6h0m-9.1 -6h0m6.7 -2.7h0m8.5 3.5h0m-2.9 -3.1h0m-12.5 0.4h0m-1.2 -5.8h0m8.5 9.9h0m-4.4 -5.3h0m1 3.2h0m3.9 6.6h0m-11.8 -4.6h0m13.7 -3.7h0m-9.2 -3.5h0m-1.9 8.3h0m17.3 -9.3h0m-7.9 6.8h0m4.6 -2.1h0m-4.5 3.8h0m-15.2 -1.2h0m-7 -8.2h0m8.9 0.5h0m13.9 9.3h0m-8.2 -3.8h0m0.6 -0.7h0m3.8 2.2h0m-6.3 -4.2h0m0.7 7.2h0m1.4 2.8h0m1.6 -0.7h0m-10.2 -7.7h0m15.9 2.6h0m-4.5 8h0m0.7 -8.2h0m-4.6 7.1h0m11.7 -7.8h0m-22.3 3.7h0m10.5 -1.7h0m11.4 -7.3h0m-4.9 8.4h0m-1.5 -5.3h0m-11.1 0.4h0m-0.6 7.7h0m10.5 -12h0m-1 -0.1h0m-27.3 16.2h0m37.6 -18.9h0m-15.5 10.4h0m2.1 -5.2h0m-0.7 2.9h0m0.1 2.1h0m2 -4.8h0m1.6 -4.4h0m12.6 -2.6h0m-12 11.6h0m4.4 -1.1h0m6.4 -7.5h0m-10.8 7.7h0m-4.4 -2.6h0m15.7 -3.3h0m-15.3 4.7h0m2.7 1.5h0m0.2 1h0m3.1 -0.1h0m9.9 -7.8h0m2.8 1.3h0m-8.2 4.2h0m-10.2 -7.9h0m17.8 2.4h0m-19.8 11.8h0m8.3 2.4h0m13.3 -7.8h0m-12.6 2.4h0m-14.4 -0.1h0m12.5 -5.1h0m0.1 -4.6h0m7.9 11.1h0m-20.3 -1.6h0m25.3 -3.2h0m-23.9 -2.2h0m18.9 9.5h0m-18.5 -4.9h0m2.4 -1.9h0m9.8 -0.6h0m-7.1 11h0m2.9 -10.9h0m11.3 -1.1h0m-10.9 6.1h0m-7.4 0.5h0m18.1 -3.6h0m-11.2 -1.1h0m-13.6 1.8h0m18.4 1.3h0m-2.3 -5.3h0m-8.3 3.1h0m9.5 4h0m-2.4 -7.4h0m-1 0.3h0m-2.5 -7.4h0m-11.1 6.6h0m18.9 1.7h0m-1.8 5.9h0m-10.5 1.8h0m11.1 -10.4h0m9.1 -4.8h0m-22 9.4h0m13.5 -2.3h0m-22.4 3.4h0m20.2 9.3h0m10.9 -12.8h0m-21.4 4.7h0m-0.8 -0.5h0m13 -5h0m-1 0.5h0m-5.8 9.4h0m8.7 -9.8h0m-11.4 4.2h0m12.2 0.9h0m7.6 -3.1h0m-21.5 10.9h0m19 -8.8h0m-0.2 -10.4h0m-14.2 6.9h0m13.1 -5.4h0m-11.1 14.2h0m7 -9.8h0m10.1 -6.1h0m-11.7 7h0m0.5 -0.3h0m-11.4 4.3h0m-4 2.1h0m9 0.2h0m-2.3 -6.8h0m8.9 7h0m-22.5 -1.1h0m22.4 -10.8h0m-11.6 11.3h0m-0.5 -5.7h0m22 -5.2h0m-23.6 -2h0m-1.2 5h0m26.4 6.4h0m-25.4 7.9h0m16.1 -12.5h0m0.8 2.3h0m-15.4 -6.9h0m0 7.9h0m4.3 -4.1h0m11.4 -3.4h0m-0.3 2.6h0m-7.3 -1.5h0m-0.8 1.6h0m-14.6 6h0m15.5 1.1h0m1.5 -8.5h0m-9 -5.1h0m-1.5 17.3h0m22.6 -6.4h0m-10.7 1.1h0m-0.2 -10.4h0m-9.7 14.8h0m17.3 -7.3h0m-13.5 -0.4h0m-2.5 -2h0m-11.3 6.8h0m12.6 -3.8h0m19.6 0.2h0m-21.1 3.6h0m-6.7 3.3h0m14.5 -8.1h0m4 6.7h0m-11 -9.1h0m23.4 0.4h0m-6 -2.1h0m-9.7 1.9h0m2.5 1.2h0m-10 10h0m6.1 -17.2h0m-4.2 5.8h0m-8.4 2.9h0m7 1.6h0m-4.3 -7.8h0m4.4 11.6h0m-7.5 0.1h0m15.2 -7.5h0m-1.5 -1.1h0m-6.5 -0.1h0m9.5 9.2h0m-10.2 1h0m-14.4 -6.9h0m11.8 9.7h0m3 -4.7h0m-13.3 -0.7h0m22.9 -4.7h0m-28.8 6h0m32 -0.4h0m-6 -12.7h0m-3.3 12.4h0m-5.7 -0.5h0m2.7 -2.6h0m10.2 -5.5h0m19.3 0.5h0m-22.9 0h0m-2.2 2.5h0m-14.4 -3.2h0m16.6 3.7h0m-27.4 -4.6h0m22.1 5.6h0m7.2 -6.6h0m0.6 4.1h0m-9.6 2.5h0m13.8 0.7h0m-1.9 -5.3h0m-10.7 -0.3h0m-1.8 3.8h0m1.6 4.8h0m8 -1.2h0m-2.4 1.9h0m-0.2 -0.5h0m3.2 -1.6h0m-6.6 -7.9h0m-9.7 16.3h0m15.1 -9.5h0m-5.6 -3.2h0m26.4 -7.7h0m-25.2 9.4h0m-10.4 -3.8h0m4.5 3.5h0m2.8 4.8h0m-6.4 -0.8h0m23.8 -1.9h0m-26.1 -13h0m20.3 12.2h0m-12.1 5.7h0m0.7 -5.5h0m-5.5 1.9h0m4.8 -4.6h0m13.9 0.9h0m-22.4 6.1h0m19.5 -10.4h0m-10.2 5.9h0m1.3 0h0m7.5 -4.1h0m12.5 -3.2h0m-21.1 16h0m24.4 -13.2h0m-23.7 -0.9h0m12.8 3.5h0m-17.5 4.1h0m19.9 -2.2h0m7.8 0.8h0m-16.6 -2.5h0m1.9 5.3h0m2.6 -1.2h0m-5.8 -0.3h0m8 -5.6h0m-20.7 12.3h0m14.9 -12.6h0m-2.9 1.4h0m-17.2 3.4h0m2.8 1.2h0m12.4 2.1h0m-0.7 -3.4h0m-2.1 -3h0m-8.7 7.8h0m12.7 -9.4h0m0.4 0.6h0m-7.7 4.4h0m16.8 -5.3h0m-23.7 2.6h0m28.4 -5.9h0m-5 3.5h0m-3.8 1.3h0m-20.8 2.2h0m32.9 -4.5h0m-13.9 1.5h0m-5.6 4h0m6.8 7.5h0m-6.2 -9.9h0m-6.6 -4h0m-6.8 10.3h0m-1.7 3.6h0m22.8 -11.7h0m-17.6 4.5h0m11.3 3.1h0m-7.9 -5.5h0m6.1 -0.6h0m-6.1 -5.5h0m-8.2 6.2h0m13.8 5.2h0m23 -0.8h0m-16.8 3.7h0m-6.4 -9.8h0m21.1 -6.2h0m-23.5 7.8h0m16.3 -4.4h0m-5.9 1.9h0m-17.2 6h0m11.2 -8.4h0m-8.8 3.3h0m17.1 2.7h0m-6.4 1.2h0m-6.3 1.1h0m-2.6 -7.8h0m0.4 6.9h0m7.7 2.6h0m-16.8 -2.9h0m17.9 -6.6h0m-0.9 2.7h0m-11 9h0m-2.4 -0.2h0m7.2 -10.1h0m-4 1.6h0m1.1 4.4h0m-8.3 5.9h0m24.1 -3.5h0m-19 -13.6h0m4.8 9h0m8 -3h0m-2.9 3.5h0m-11.7 9.6h0m2.5 -7.5h0m18.7 -8h0m-7.6 12.4h0m-3 -2.2h0m4.5 -4.5h0m3.4 -2.7h0m-7.3 6.7h0m3.8 -2.8h0m-13.3 0.2h0m22.1 0.1h0m-8.8 -4.9h0m-7.8 5.7h0m17.7 -4.9h0m-1.2 -1.3h0m-1.5 -3h0m-9 1.3h0m5.4 6.6h0m-15.2 -3.4h0m3.9 -4.1h0m-3.8 3.6h0m16.9 7.2h0m-12.2 -5.4h0m5.6 -2.1h0m-3.3 6.8h0m3.8 -4.9h0m-5.9 8.1h0m-1.4 -5.9h0m-4.3 -2.5h0m10.2 -0.9h0m4.2 1.4h0m-18.8 -7.5h0m22.4 3.9h0m4.8 1.9h0m-19.5 5.9h0m3.9 -3.2h0m-5.3 3.8h0m17 -8.3h0m6.1 -1.3h0m-14.4 -2.3h0m-16.4 19.9h0m28.9 -9.4h0m-28.3 0.8h0m18.6 -4h0m-1.9 -4.2h0m-4.2 -0.3h0m-0.5 7h0m-4.3 -2.2h0m3.3 0.8h0m12.2 -1.2h0m-6 -6.6h0m-5 11.2h0m-5.3 -4.7h0m0.4 7.9h0m2.9 -9.9h0m10.9 6.4h0m-1.2 -0.3h0m-3.3 -4.5h0m-6.1 -0.6h0m-0.7 4.1h0m4.1 -2h0m6.2 -1.8h0m-18.1 -0.1h0m1.4 -5.4h0m11.4 1.3h0m-12.2 2.7h0m19.7 0h0" stroke="#111" stroke-width="0.55" stroke-linecap="square" fill="none"/>
<path d="M169.2 79.7h0m-7 9.4h0m5.1 -6.6h0m-12.6 2.6h0m-0.2 1.8h0m14.3 5.7h0m5.8 -9.8h0m-4.6 -1h0m16.4 1.1h0m-4.9 -6.5h0m-12.1 12.4h0m-4.1 -3.6h0m-5.4 8.2h0m6.8 -5h0m-11.3 -14.3h0m15 15.1h0m-19.1 -6.3h0m8.9 0.7h0m-2.1 17.4h0m9.3 -24.5h0m-14.9 16.5h0m26.3 -11.4h0m-11.6 -7.6h0m-7.9 0h0m18.5 6h0m-34.9 0.7h0m23.7 2.3h0m-3.5 5.9h0m14.2 -10.2h0m-26.6 11.1h0m1 -5.8h0m12.8 -2.3h0m-8.5 6.1h0m3.5 2.5h0m3.2 -3h0m1.1 2.2h0m-1.8 -5.1h0m-2.3 2.6h0m1 19.8h0m-1.9 -19.7h0m-0.7 -4.3h0m5.6 -3.4h0m-8.4 -2.2h0m-2.5 3.1h0m17.1 -11.2h0m-13.3 20.1h0m9.6 -20.9h0m-13 22.2h0m6.9 -16.4h0m-12.3 10.8h0m19.7 -4h0m-0.2 -0.4h0m-2.5 7.3h0m-1.9 -2h0m-8.1 -2.1h0m10.2 -3h0m-4.7 10h0m6 -8.8h0m-5.3 10.3h0m15.1 -22.6h0m-26 15.4h0m2.2 -5.2h0m5.8 13.7h0m15.4 -3.8h0m-7.5 -11.4h0m1.7 -2.1h0m-11.3 1.9h0m17.9 7.4h0m-15.6 -1.7h0m5 1.2h0m4.8 -3.8h0m-8.4 -7.9h0m-5.6 0.9h0m24.7 11.5h0m-7.9 2.3h0m7.7 -5.9h0m-27.3 6.6h0m-7.1 -0.9h0m10 0.7h0m7.4 -11.7h0m-0.2 9.9h0m-0.8 -3.3h0m-15.5 6.9h0m23.2 -7.8h0m-16.6 5.3h0m8.9 -10.8h0m3.2 -0.5h0m-4.1 8h0m15.9 -10.9h0m-14.6 16.8h0m-1.1 -3.5h0m-11.3 7.3h0m9 -18h0m12.6 1.2h0m-13.8 -0.7h0m-6.7 9.9h0m4.4 6h0m11.5 -15.8h0m-15.2 10.8h0m5.5 1.3h0m6 -8.2h0m4.4 9.2h0m5.1 -15.5h0m-5.3 5.4h0m-6.3 15.8h0m5.4 -12.3h0m-1.3 -1.7h0m-2.3 17h0m7.4 -16.5h0m4 6h0m-10.1 0.1h0m-0.6 0.8h0m6.8 10.6h0m-7.4 -11.2h0m2.3 -8.3h0m4 -0.2h0m-8.5 5.6h0m2 8.5h0m8.2 -6.5h0m-15.3 3.1h0m3.1 -3.3h0m13.9 -6.6h0m-6.4 10.7h0m10.2 -0.1h0m-24 1.6h0m5.2 -12.7h0m2.5 -3.8h0m-14.4 10.4h0m22.5 9.4h0m-13.6 -16.7h0m-5.3 9.7h0m13 -3.5h0m-11 -1h0m-2.1 8.7h0m-5.6 -20.3h0m29.1 9.5h0m-5.8 2.1h0m-6.5 9.6h0m2.9 5.1h0m-4.9 -27.5h0m17.5 20.7h0m-10.4 -1.3h0m-5.7 -10.4h0m-8.8 20.2h0m10.8 -13.2h0m-8.9 -5.2h0m16.4 -5.3h0m-12.9 0.4h0m11.1 10h0m-7.7 -3.3h0m0.6 12.5h0m-1.5 -11.7h0m14.7 -9.1h0m-23.5 7.9h0m17.3 12h0m-3.3 -14.4h0m9.3 7h0m-9.8 6.8h0m7 -12.1h0m-21.9 10.6h0m22.9 -17h0m7.2 -1.3h0m-19.9 15.7h0m9.5 -3.5h0m-1.8 4.8h0m-6.2 -5.9h0m-7.8 -3h0m9.9 -4.6h0m-2.6 5.2h0m8 3.3h0m4.3 -0.4h0m-9.2 -7.5h0m-11.1 8h0m0 -12h0m16 -9.3h0m0 19.5h0m3.3 14.7h0m-10.2 -21.5h0m11.3 -6.8h0m-21.7 10.8h0m8.9 3.5h0m0.9 -13.4h0m13.4 23h0m-15.4 -10.4h0m14 2.8h0m-16.6 -8.1h0m5 13.9h0m1 -27.3h0m-16.7 17.3h0m10 7.7h0m16.9 3h0m-2.8 -13.5h0m-1 -7.7h0m-13.7 15.5h0m9.5 -19.1h0m8.5 15.4h0m-11.6 1.1h0m1.2 -1.4h0m3.9 -9.6h0m7.5 9.4h0m-10.9 -16.9h0m-8.8 26.9h0m3.5 -13.4h0m-3.5 -3.3h0m5.3 2h0m1.9 8.8h0m-1.2 6h0m-2 12.5h0m-1.1 -15.2h0m12.9 -12.3h0m-1.5 0h0m-14.9 12.4h0m16 -16.6h0m-19 10.5h0m16.6 -2.1h0m6.1 -1.4h0m-13.1 -13.5h0m18.7 6h0m-10.5 2.8h0m-5.2 6.4h0m16.6 2.4h0m-4.6 6.6h0m-12 -5.2h0m2.4 5h0m2.1 -3.8h0m0.3 -25.3h0m11.5 13h0m-24.4 -4.3h0m-1.3 -2.4h0m10.2 11.7h0m11 -7.6h0m0.3 12.1h0m1.6 -12.6h0m-13.2 -2.9h0m-8 14.9h0m3.9 -10h0m4.3 13.4h0m-3.4 -5.1h0m2.6 11.2h0m13.6 -17.6h0m-7.4 16.4h0m-4.4 -16.8h0m-11.9 7.5h0m23.6 -13.6h0m6.8 1h0m-16 20.1h0m-3.5 -5.7h0m-11.1 -7.1h0m7.2 8h0m-7.3 -13.9h0m14 6.8h0m-6.6 0.2h0m-5.2 21.2h0m8 -13.4h0m14.6 -3.4h0m-11.9 -2.4h0m3.9 5.2h0m-3.1 -9.5h0m2.1 5.6h0m1 -2h0m4.5 -2.6h0m-3.7 0.8h0m-13.3 -0.5h0m8 7.6h0m7.3 -9.3h0m-13.4 4.2h0m14.3 -3.1h0m-9.7 10.8h0m-7.7 -0.7h0m7.6 -6.5h0m-3.4 11.2h0m10.6 -25.2h0m-3.3 18.2h0m10.4 -14.8h0m-19.8 14.9h0m20 -10.9h0m-5.6 17.3h0m-30.1 -15.3h0m30.8 6.6h0m-16.2 7.2h0m8.5 -7.3h0m-8.1 -0.9h0m1.3 3.4h0m10.2 7.6h0m-6 -23.5h0m9.4 19.5h0m-2.1 -1.6h0m-3.5 -1.2h0m-5.7 4h0m-1.1 4.8h0m-13.2 -20.6h0m20.6 4.2h0m-0.6 5.3h0m-5.7 -7.6h0m6.1 6.7h0m7.7 9.2h0m-15.1 -7.3h0m6.8 -8.1h0m-12.1 6h0m16.1 -6.9h0m-4.7 -1.1h0m-0.9 1h0m-5.7 9.8h0m10.8 5.1h0m-14.6 0.4h0m24.6 -7.1h0m-20.6 -5.1h0m2.8 6.6h0m4.7 -2.4h0m-2.4 -10.4h0m-12 5.7h0m2.6 7.8h0m20.5 10h0m-7.6 -16.4h0m3.2 -8.1h0m-1 14.7h0m0.9 -5.2h0m-13.5 -5.9h0m3.6 3.3h0m7.3 -0.4h0m-6.1 -8.7h0m5.4 3.2h0m-18.7 6.5h0m15.1 11.9h0m0.7 -19.4h0m-0.3 9h0m-14.2 0.9h0m-2.7 2.5h0m-3.8 2.8h0m11.4 -6.6h0m7.8 11.7h0m-0.2 -7.5h0m9.8 -0.1h0m-5.8 -8.8h0m-12.6 5.5h0m7 2.4h0m6.5 5.3h0m2.3 4.4h0m-0.6 -18.4h0m-9.7 -14.2h0m15.2 18.4h0m-14 -9.3h0m19.2 0.7h0m-12.7 18.8h0m-7.4 -12h0m5 -4.3h0m4.7 6.8h0m-2.2 -9.8h0m6.1 8.8h0m1.5 -8.6h0m4.1 8.8h0m-12.3 -4.7h0m3.5 9.5h0m-15.8 -6h0m9.8 16h0m4.3 -6.8h0m-2.1 -5.6h0m-2.3 -3h0m8.7 -0.2h0m-12.2 -5.8h0m3.1 4h0m0.8 13.7h0m-8.4 -5.4h0m16.3 1.8h0m-10.6 -0.7h0m0.2 -12.1h0m-19 4.4h0m25.4 2h0m-15.5 2.9h0m7.3 -1.9h0m11.6 14.5h0m-12.4 -9.9h0m-2.7 -4.8h0m0.7 2.8h0m4.3 2.4h0m0.6 -10.7h0m10.3 -8.2h0m1.6 26.7h0m-10.1 -1.2h0m10.6 -14.2h0m-17.8 19.2h0m5.8 -19.6h0m7.3 -5.7h0m-0.8 1.9h0m-5.4 -1.2h0m-5.6 4.5h0m1.8 8.1h0m3.6 -2.1h0m8.6 -7.4h0m-21.5 10.9h0m17.6 0.7h0m6 -4.1h0m-9.4 3h0m-5.8 8.6h0m9.7 -12h0m-7 0.3h0m-0.1 4.3h0m-2.9 5h0m16.1 -0.6h0m-11.4 -10.9h0m2 -0.1h0m-6.1 -5.9h0m-4.7 7.1h0m3.2 -6.9h0m-2.5 8.9h0m12.9 -6.7h0m3.8 7.4h0m-4.4 -9h0m-13 -4.4h0m6.5 15.5h0m0.5 7h0m10.6 -20.3h0m-7.2 -4.5h0m-9.3 14h0m7.7 -2.9h0m1.9 16.7h0m1.7 -14.8h0m2.1 -2.2h0m-8.6 -1.1h0m-2 18.1h0m-6.6 -22.3h0m1 0h0m25.6 1.4h0m0 9h0m-8.7 -2.2h0m-10.9 0.8h0m1.2 0.4h0m3.8 7.9h0m4.8 -14.1h0m-13.3 14.2h0m14.2 -14.4h0m-12.4 11.3h0m6.9 -23.4h0m-2.8 2.5h0m9.5 23.9h0m-4.5 -7.9h0m-4.5 -1.4h0m22.5 -1.9h0m-23.7 -0.5h0m11.4 14.7h0m-2.6 -7.4h0m-12.4 -12.6h0m15.5 1h0m-16.2 4.2h0m1.1 0.1h0m0.7 14.5h0m11.9 -8.7h0m-7 -1.1h0m6.3 3.1h0m1.4 -7.5h0m-12.9 1.8h0m-1.6 6.1h0m3.4 -6.8h0m40.2 8.5h0m-65.1 -2.6h0m13.9 11.3h0m38.8 -19.5h0m-6.3 8.5h0m11.9 14.8h0m-15.4 -3.9h0m-7.3 -10h0m-18.5 10.5h0m17.3 -10.4h0m0.3 2h0m-17 -0.6h0m37.6 -3.6h0m2.7 -9.9h0m-44.5 21h0m34.8 -14.2h0m0.3 16.3h0m5.7 -11.7h0m-21.8 -12h0m4.7 19h0m20.8 -19.6h0m-37.8 9.4h0m26.9 -20.4h0m-25.5 51.7h0m23.5 -39h0m-8.3 23.8h0m8.4 -12.5h0m-20.9 14.6h0m13.3 -2.6h0m4.6 -13.9h0m17.6 -3.5h0m-17.3 1.7h0m-10.5 5.8h0m-6.5 6.1h0m36.2 10.3h0m-1.4 -20.6h0m1.4 5.8h0m2.8 -17.7h0m-4.2 7.5h0m-5.3 2.3h0m-3.8 2.6h0m-48.3 1.5h0m29.4 5h0m-35.9 -6.2h0m27.2 5.3h0m15 -8.9h0m-27.4 16.3h0m21.1 2.3h0m-3.7 -1.8h0m-6.9 -2.7h0m16.9 -1.1h0m-18.3 -2.6h0m1.4 -0.7h0m30.3 26.9h0m-13.9 -20.8h0m2.1 3.9h0m5.7 -1.9h0m0.6 13.7h0m10.1 -43.7h0m-15.1 20.9h0m-43.8 -1.9h0m29.6 -3.9h0m8.1 -12.2h0m14.9 23.6h0m-8.6 -9.8h0m-6.1 -0.3h0m20.9 6.2h0m12.8 -11.1h0m-9.5 -0.5h0m-28.1 0.2h0m13.4 7.7h0m4.3 15h0m-13.3 -8.9h0m15.3 -7.2h0m-23.6 8.4h0m18.4 1.1h0m3 -15.3h0m-3.2 19.9h0m-16.7 -5.9h0m-3 -1.5h0m39.6 -6.9h0m-45.1 9.7h0m21.2 4.1h0m-30.2 -15.3h0m20.6 -10.2h0m19.6 -8.2h0m-32.1 11.2h0m6.9 22h0m21.4 -2.5h0m-5.2 -29.2h0m-4.7 2.7h0m-11 16.8h0m0.9 8.8h0m-2.3 13h0m22.6 -9.6h0m2.2 -3.3h0m-11.5 13h0m-19.6 -11.9h0m16.5 -9.9h0m4.4 -6.1h0m11.9 13.5h0m-13 1.8h0m-23.5 -21.7h0m10.4 14.1h0m51.6 -9h0m-22.7 15h0m16.9 -10.4h0m-25 1.2h0m-26.9 -3.5h0m5.6 23.8h0m15.2 -18.8h0m-5.2 -3.3h0m0 5.4h0m13.2 7.3h0m-39.6 0.1h0m48.4 -21.3h0m-25.2 16.6h0m23.4 0.2h0m-22.3 2.9h0m20.8 -4.7h0m13.9 -2.2h0m-50.9 -3.3h0m16.4 3h0m13.6 3.3h0m19.2 1.3h0m-6.6 -14.8h0m-29.6 19.9h0m8.7 -2.1h0m0.5 -12.8h0m27.4 13.1h0m-57.7 -7.7h0m28.7 8.1h0m-5.1 -19.8h0m17.1 8.7h0m7.2 3.9h0m-2.5 5.9h0m-4.3 -12.9h0m3.7 6.6h0m-39.1 0.8h0m16.7 5.8h0m14.4 -18.6h0m2.5 10.3h0m-28.2 14.1h0m1.4 -20.8h0m29 16.1h0m-23.4 5.7h0m25.1 -20.4h0m17.4 1.6h0m-33.6 -17.7h0m9.9 16.2h0m-5.1 -10.1h0m17.4 29h0m4.6 -45.5h0m-16 36.3h0m-62.1 0h0m52.8 12.5h0m-14.6 -9.7h0m13.3 -0.7h0m-4.8 6.2h0m19 -26.2h0m3.6 5.6h0m-20 22.5h0m5.3 -6.5h0m11.6 -1.8h0m-24.9 -11.3h0m23.4 13.2h0m-7 -8.3h0m8.6 0.1h0m-36.6 9.6h0m32.1 -0.6h0m-25.9 -10.9h0m21 -0.6h0m-4.2 14.8h0m9.2 7.3h0m-1.9 -0.8h0m14.4 6h0m-21.9 -22.7h0m20.8 -8h0m-28.1 12.7h0m11.2 -18.7h0m-0.1 11.1h0m-3.8 5.6h0m-1.2 9.3h0m9.2 -14.3h0m-4.7 13.3h0m12.3 0.1h0m-17.3 -8.3h0m35.5 -8h0m-3.9 9.6h0m-39 -15.8h0m19 3.7h0m-24.1 -6.1h0m34.7 12.4h0m-18.8 6.3h0m3.1 -3.6h0m3.9 -4.4h0m-49.7 19h0m48.7 -15.8h0m16.9 -17.3h0m-69.5 41.4h0m49.6 -40.4h0m-9.8 24.6h0m-13.5 1.7h0m56.8 -1.6h0m-37.5 -4.1h0m-15.6 0.8h0m8.3 -12.8h0m-11.8 31.5h0m18.7 -33h0m-4.1 26h0m30.3 -26.5h0m-21.1 18.9h0m-12.6 -18.7h0m-8.4 13.5h0m1.1 -13.4h0m12.8 20.2h0m13.3 -14h0m19.4 -9.1h0m-34 0.2h0m16.3 9.6h0m-42.1 0.3h0m60.5 5h0m-27.8 6.3h0m-31.3 -11.5h0m4.5 -0.8h0m18 10.5h0m23.8 0.3h0m25.4 -19.3h0m-43.2 17.7h0m-14.9 -5.4h0m19.5 -9.5h0m4.7 20.5h0m-32.4 -29.7h0m22 8.6h0m2.5 5.5h0m4.9 15.1h0m5.9 -16.1h0m-36.7 -14.9h0m-13.8 19.4h0m37.9 -5.5h0m-13.2 -7h0m-17.8 1.8h0m37.2 -9.2h0m2.6 10.3h0m-0.4 11.5h0m5.1 8.6h0m-29.4 -16.6h0" stroke="#444" stroke-width="0.5" stroke-linecap="square" fill="none"/>
</g>
<text x="35.4" y="47.5" font-size="9.9" text-anchor="start" font-weight="normal" fill="#111" >99%</text>
<text x="115.8" y="47.5" font-size="9.9" text-anchor="end" font-weight="normal" fill="#111" >1%</text>
<text x="36.3" y="116.2" font-size="9.9" text-anchor="start" font-weight="normal" fill="#111" >&lt;1%</text>
<text x="115.5" y="116.2" font-size="9.9" text-anchor="end" font-weight="normal" fill="#111" >&lt;1%</text>
<text x="128.3" y="47.5" font-size="9.9" text-anchor="start" font-weight="normal" fill="#111" >&lt;1%</text>
<text x="207.6" y="47.5" font-size="9.9" text-anchor="end" font-weight="normal" fill="#111" >8%</text>
<text x="127.3" y="116.2" font-size="9.9" text-anchor="start" font-weight="normal" fill="#111" >40%</text>
<text x="206.8" y="116.2" font-size="9.9" text-anchor="end" font-weight="normal" fill="#111" >52%</text>
<text x="75.85" y="36" font-size="10.4" text-anchor="middle" font-weight="normal" fill="#111" textLength="34.3" lengthAdjust="spacingAndGlyphs">Control</text>
<text x="167.3" y="36" font-size="10.4" text-anchor="middle" font-weight="normal" fill="#111" textLength="56.2" lengthAdjust="spacingAndGlyphs">CAR+PEBL</text>
<text transform="translate(28.7,80.3) rotate(-90)" x="0" y="0" font-size="10.4" text-anchor="middle" textLength="13.3" lengthAdjust="spacingAndGlyphs" fill="#111" stroke="#111" stroke-width="0.3">CD3</text>
<line x1="50" y1="129.4" x2="108.8" y2="129.4" stroke="#111" stroke-width="1.3" />
<text x="114.4" y="132.8" font-size="10.4" textLength="14.2" lengthAdjust="spacingAndGlyphs" fill="#111" stroke="#111" stroke-width="0.3">CAR</text>
<line x1="133.8" y1="129.4" x2="190" y2="129.4" stroke="#111" stroke-width="1.3" />
<path d="M188 126.3 L195 129.4 L188 132.5 Z" fill="#111"/>
<line x1="259.3" y1="22.4" x2="259.3" y2="124.89999999999999" stroke="#111" stroke-width="1.3" />
<line x1="256.3" y1="25.8" x2="259.3" y2="25.8" stroke="#111" stroke-width="1.1" />
<text x="252.6" y="28.8" font-size="8.5" text-anchor="end" font-weight="normal" fill="#222" textLength="15.75" lengthAdjust="spacingAndGlyphs">100</text>
<line x1="256.3" y1="45.5" x2="259.3" y2="45.5" stroke="#111" stroke-width="1.1" />
<text x="252.6" y="48.5" font-size="8.5" text-anchor="end" font-weight="normal" fill="#222" textLength="10.50" lengthAdjust="spacingAndGlyphs">80</text>
<line x1="256.3" y1="65.2" x2="259.3" y2="65.2" stroke="#111" stroke-width="1.1" />
<text x="252.6" y="68.2" font-size="8.5" text-anchor="end" font-weight="normal" fill="#222" textLength="10.50" lengthAdjust="spacingAndGlyphs">60</text>
<line x1="256.3" y1="84.89999999999999" x2="259.3" y2="84.89999999999999" stroke="#111" stroke-width="1.1" />
<text x="252.6" y="87.89999999999999" font-size="8.5" text-anchor="end" font-weight="normal" fill="#222" textLength="10.50" lengthAdjust="spacingAndGlyphs">40</text>
<line x1="256.3" y1="104.6" x2="259.3" y2="104.6" stroke="#111" stroke-width="1.1" />
<text x="252.6" y="107.6" font-size="8.5" text-anchor="end" font-weight="normal" fill="#222" textLength="10.50" lengthAdjust="spacingAndGlyphs">20</text>
<line x1="256.3" y1="124.3" x2="259.3" y2="124.3" stroke="#111" stroke-width="1.1" />
<text x="252.6" y="127.3" font-size="8.5" text-anchor="end" font-weight="normal" fill="#222" textLength="5.25" lengthAdjust="spacingAndGlyphs">0</text>
<line x1="258.7" y1="124.3" x2="325.8" y2="124.3" stroke="#111" stroke-width="1.3" />
<line x1="275.6" y1="124.3" x2="275.6" y2="127.3" stroke="#111" stroke-width="1.1" />
<line x1="308.9" y1="124.3" x2="308.9" y2="127.3" stroke="#111" stroke-width="1.1" />
<text x="276.0" y="139" font-size="8.7" text-anchor="middle" font-weight="normal" fill="#222" textLength="28.6" lengthAdjust="spacingAndGlyphs">Control</text>
<text x="308.6" y="139" font-size="8.7" text-anchor="middle" font-weight="normal" fill="#222" >PEBL</text>
<text transform="translate(233.2,73) rotate(-90)" x="0" y="0" font-size="9.2" text-anchor="middle" textLength="46" lengthAdjust="spacingAndGlyphs" fill="#111" stroke="#111" stroke-width="0.2">% CAR+ cells</text>
<line x1="275.8" y1="28.0" x2="275.8" y2="52.3" stroke="#111" stroke-width="1.2" />
<line x1="270.6" y1="28.0" x2="281.0" y2="28.0" stroke="#111" stroke-width="1.2" />
<line x1="270.6" y1="52.3" x2="281.0" y2="52.3" stroke="#111" stroke-width="1.2" />
<rect x="265" y="29.2" width="21.5" height="12.400000000000002" fill="#2C4B88"/>
<line x1="265" y1="37.3" x2="286.5" y2="37.3" stroke="#08102e" stroke-width="1.9" />
<line x1="308.7" y1="28.5" x2="308.7" y2="56.6" stroke="#111" stroke-width="1.2" />
<line x1="303.45" y1="28.5" x2="313.95" y2="28.5" stroke="#111" stroke-width="1.2" />
<line x1="303.45" y1="56.6" x2="313.95" y2="56.6" stroke="#111" stroke-width="1.2" />
<rect x="298" y="34.6" width="21.30000000000001" height="12.299999999999997" fill="#AF0A36"/>
<line x1="298" y1="41.3" x2="319.3" y2="41.3" stroke="#3c0210" stroke-width="1.9" />
<line x1="392.0" y1="21.3" x2="392.0" y2="125.1" stroke="#111" stroke-width="1.3" />
<line x1="389.0" y1="24.5" x2="392.0" y2="24.5" stroke="#111" stroke-width="1.1" />
<text x="384.6" y="27.5" font-size="8.5" text-anchor="end" font-weight="normal" fill="#222" textLength="15.45" lengthAdjust="spacingAndGlyphs">100</text>
<line x1="389.0" y1="44.4" x2="392.0" y2="44.4" stroke="#111" stroke-width="1.1" />
<text x="384.6" y="47.4" font-size="8.5" text-anchor="end" font-weight="normal" fill="#222" textLength="10.30" lengthAdjust="spacingAndGlyphs">80</text>
<line x1="389.0" y1="64.3" x2="392.0" y2="64.3" stroke="#111" stroke-width="1.1" />
<text x="384.6" y="67.3" font-size="8.5" text-anchor="end" font-weight="normal" fill="#222" textLength="10.30" lengthAdjust="spacingAndGlyphs">60</text>
<line x1="389.0" y1="84.19999999999999" x2="392.0" y2="84.19999999999999" stroke="#111" stroke-width="1.1" />
<text x="384.6" y="87.19999999999999" font-size="8.5" text-anchor="end" font-weight="normal" fill="#222" textLength="10.30" lengthAdjust="spacingAndGlyphs">40</text>
<line x1="389.0" y1="104.1" x2="392.0" y2="104.1" stroke="#111" stroke-width="1.1" />
<text x="384.6" y="107.1" font-size="8.5" text-anchor="end" font-weight="normal" fill="#222" textLength="10.30" lengthAdjust="spacingAndGlyphs">20</text>
<line x1="389.0" y1="124.0" x2="392.0" y2="124.0" stroke="#111" stroke-width="1.1" />
<text x="384.6" y="127.0" font-size="8.5" text-anchor="end" font-weight="normal" fill="#222" textLength="5.15" lengthAdjust="spacingAndGlyphs">0</text>
<line x1="391.4" y1="124.5" x2="511.8" y2="124.5" stroke="#111" stroke-width="1.3" />
<text transform="translate(362.4,74.5) rotate(-90)" x="0" y="0" font-size="9.2" text-anchor="middle" textLength="24.5" lengthAdjust="spacingAndGlyphs" fill="#111" stroke="#111" stroke-width="0.15">% IFN&#947;</text>
<rect x="396.9" y="123.7" width="9.3" height="0.7999999999999972" fill="#2C4B88"/>
<line x1="401.54999999999995" y1="121.3" x2="401.54999999999995" y2="123.7" stroke="#111" stroke-width="1.0" />
<line x1="399.65" y1="121.3" x2="403.44999999999993" y2="121.3" stroke="#111" stroke-width="1.0" />
<rect x="406.2" y="123.8" width="9.3" height="0.7000000000000028" fill="#AF0A36"/>
<line x1="410.84999999999997" y1="121.7" x2="410.84999999999997" y2="123.8" stroke="#111" stroke-width="1.1" />
<line x1="408.65" y1="121.7" x2="413.04999999999995" y2="121.7" stroke="#111" stroke-width="1.1" />
<rect x="426.9" y="123.6" width="9.3" height="0.9000000000000057" fill="#2C4B88"/>
<line x1="431.54999999999995" y1="120.2" x2="431.54999999999995" y2="123.6" stroke="#111" stroke-width="1.0" />
<line x1="429.65" y1="120.2" x2="433.44999999999993" y2="120.2" stroke="#111" stroke-width="1.0" />
<rect x="436.2" y="123.8" width="9.3" height="0.7000000000000028" fill="#AF0A36"/>
<line x1="440.84999999999997" y1="121.5" x2="440.84999999999997" y2="123.8" stroke="#111" stroke-width="1.1" />
<line x1="438.65" y1="121.5" x2="443.04999999999995" y2="121.5" stroke="#111" stroke-width="1.1" />
<rect x="457.4" y="123.7" width="9.3" height="0.7999999999999972" fill="#2C4B88"/>
<line x1="462.04999999999995" y1="121.1" x2="462.04999999999995" y2="123.7" stroke="#111" stroke-width="1.0" />
<line x1="460.15" y1="121.1" x2="463.94999999999993" y2="121.1" stroke="#111" stroke-width="1.0" />
<rect x="466.7" y="80.5" width="9.3" height="44.0" fill="#AF0A36"/>
<line x1="471.34999999999997" y1="67.5" x2="471.34999999999997" y2="80.5" stroke="#111" stroke-width="1.1" />
<line x1="469.15" y1="67.5" x2="473.54999999999995" y2="67.5" stroke="#111" stroke-width="1.1" />
<rect x="486.9" y="123.7" width="9.3" height="0.7999999999999972" fill="#2C4B88"/>
<line x1="491.54999999999995" y1="121.3" x2="491.54999999999995" y2="123.7" stroke="#111" stroke-width="1.0" />
<line x1="489.65" y1="121.3" x2="493.44999999999993" y2="121.3" stroke="#111" stroke-width="1.0" />
<rect x="496.2" y="72.7" width="9.3" height="51.8" fill="#AF0A36"/>
<line x1="500.84999999999997" y1="67.5" x2="500.84999999999997" y2="72.7" stroke="#111" stroke-width="1.1" />
<line x1="498.65" y1="67.5" x2="503.04999999999995" y2="67.5" stroke="#111" stroke-width="1.1" />
<path d="M463.1 64 V62.2 H471.5 V64" fill="none" stroke="#111" stroke-width="0.9"/>
<circle cx="462.50" cy="58.2" r="1.0" fill="#111"/>
<circle cx="465.70" cy="58.2" r="1.0" fill="#111"/>
<circle cx="468.90" cy="58.2" r="1.0" fill="#111"/>
<circle cx="472.10" cy="58.2" r="1.0" fill="#111"/>
<path d="M492.5 64 V62.2 H501.25 V64" fill="none" stroke="#111" stroke-width="0.9"/>
<circle cx="492.07" cy="58.2" r="1.0" fill="#111"/>
<circle cx="495.27" cy="58.2" r="1.0" fill="#111"/>
<circle cx="498.47" cy="58.2" r="1.0" fill="#111"/>
<circle cx="501.68" cy="58.2" r="1.0" fill="#111"/>
<text x="406.85" y="135.2" font-size="8.7" text-anchor="middle" font-weight="normal" fill="#222" textLength="28.4" lengthAdjust="spacingAndGlyphs">Control</text>
<text x="436.5" y="135.2" font-size="8.7" text-anchor="middle" font-weight="normal" fill="#222" >PEBL</text>
<text x="466.35" y="135.2" font-size="8.7" text-anchor="middle" font-weight="normal" fill="#222" textLength="28.4" lengthAdjust="spacingAndGlyphs">Control</text>
<text x="496.0" y="135.2" font-size="8.7" text-anchor="middle" font-weight="normal" fill="#222" >PEBL</text>
<line x1="453.4" y1="139.1" x2="506.7" y2="139.1" stroke="#111" stroke-width="1.1" />
<text x="480.6" y="150.7" font-size="8.7" text-anchor="middle" font-weight="normal" fill="#222" >CAR</text>
<text x="400.5" y="32.2" font-size="8.2" text-anchor="start" font-weight="normal" fill="#222" >Target</text>
<line x1="400.6" y1="33.5" x2="422.6" y2="33.5" stroke="#333" stroke-width="0.8" />
<rect x="400.5" y="38.4" width="6" height="5.8" fill="#2C4B88"/>
<rect x="400.5" y="48.4" width="6" height="5.8" fill="#AF0A36"/>
<text x="410" y="44.3" font-size="8.0" text-anchor="start" font-weight="normal" fill="#222" >No</text>
<text x="410" y="54.2" font-size="8.0" text-anchor="start" font-weight="normal" fill="#222" >Yes</text>
<line x1="55.7" y1="190.60000000000002" x2="55.7" y2="292.20000000000005" stroke="#111" stroke-width="1.3" />
<line x1="52.5" y1="291.6" x2="105.2" y2="291.6" stroke="#111" stroke-width="1.3" />
<line x1="52.7" y1="271.90000000000003" x2="55.7" y2="271.90000000000003" stroke="#111" stroke-width="1.1" />
<text x="48.1" y="276.1" font-size="8.5" text-anchor="end" fill="#222">10<tspan font-size="6.0" dy="-4.3">1</tspan></text>
<line x1="52.7" y1="252.20000000000002" x2="55.7" y2="252.20000000000002" stroke="#111" stroke-width="1.1" />
<text x="48.1" y="256.40000000000003" font-size="8.5" text-anchor="end" fill="#222">10<tspan font-size="6.0" dy="-4.3">2</tspan></text>
<line x1="52.7" y1="232.50000000000003" x2="55.7" y2="232.50000000000003" stroke="#111" stroke-width="1.1" />
<text x="48.1" y="236.70000000000002" font-size="8.5" text-anchor="end" fill="#222">10<tspan font-size="6.0" dy="-4.3">3</tspan></text>
<line x1="52.7" y1="212.8" x2="55.7" y2="212.8" stroke="#111" stroke-width="1.1" />
<text x="48.1" y="217.0" font-size="8.5" text-anchor="end" fill="#222">10<tspan font-size="6.0" dy="-4.3">4</tspan></text>
<line x1="52.7" y1="193.10000000000002" x2="55.7" y2="193.10000000000002" stroke="#111" stroke-width="1.1" />
<text x="48.1" y="197.3" font-size="8.5" text-anchor="end" fill="#222">10<tspan font-size="6.0" dy="-4.3">5</tspan></text>
<line x1="61.6" y1="291.6" x2="61.6" y2="294.90000000000003" stroke="#111" stroke-width="1.1" />
<text x="61.6" y="305.2" font-size="8.3" text-anchor="middle" font-weight="normal" fill="#222" >0</text>
<line x1="74.0" y1="291.6" x2="74.0" y2="294.90000000000003" stroke="#111" stroke-width="1.1" />
<text x="74.0" y="305.2" font-size="8.3" text-anchor="middle" font-weight="normal" fill="#222" >7</text>
<line x1="86.6" y1="291.6" x2="86.6" y2="294.90000000000003" stroke="#111" stroke-width="1.1" />
<text x="86.6" y="305.2" font-size="8.3" text-anchor="middle" font-weight="normal" fill="#222" >14</text>
<line x1="99.2" y1="291.6" x2="99.2" y2="294.90000000000003" stroke="#111" stroke-width="1.1" />
<text x="99.2" y="305.2" font-size="8.3" text-anchor="middle" font-weight="normal" fill="#222" >21</text>
<text x="79.4" y="183.6" font-size="10.2" text-anchor="middle" font-weight="normal" fill="#111" >Donor 1</text>
<polyline points="61.60,252.20 74.00,245.42 86.60,252.11 99.20,256.29" fill="none" stroke="#2B4874" stroke-width="1.3"/>
<rect x="59.40" y="250.00" width="4.4" height="4.4" fill="#eef3dd" stroke="#8FB040" stroke-width="1.0"/>
<rect x="96.50" y="197.01" width="5.4" height="5.4" fill="#eef3dd" stroke="#8FB040" stroke-width="1.0"/>
<polyline points="61.60,252.20 74.00,235.16 86.60,222.06 99.20,204.05" fill="none" stroke="#731526" stroke-width="1.7"/>
<circle cx="61.60" cy="252.20" r="2.5" fill="#fff" stroke="#2B4874" stroke-width="1.15"/>
<circle cx="74.00" cy="245.42" r="2.5" fill="#fff" stroke="#2B4874" stroke-width="1.15"/>
<circle cx="86.60" cy="252.11" r="2.5" fill="#fff" stroke="#2B4874" stroke-width="1.15"/>
<circle cx="99.20" cy="256.29" r="2.5" fill="#fff" stroke="#2B4874" stroke-width="1.15"/>
<path d="M61.60 249.00 L64.80 254.70 L58.40 254.70 Z" fill="#fdf3f4" stroke="#971831" stroke-width="1.4" stroke-linejoin="miter"/>
<path d="M74.00 231.96 L77.20 237.66 L70.80 237.66 Z" fill="#fdf3f4" stroke="#971831" stroke-width="1.4" stroke-linejoin="miter"/>
<path d="M86.60 218.86 L89.80 224.56 L83.40 224.56 Z" fill="#fdf3f4" stroke="#971831" stroke-width="1.4" stroke-linejoin="miter"/>
<path d="M99.20 200.85 L102.40 206.55 L96.00 206.55 Z" fill="#fdf3f4" stroke="#971831" stroke-width="1.4" stroke-linejoin="miter"/>
<line x1="142.5" y1="190.35000000000002" x2="142.5" y2="292.20000000000005" stroke="#111" stroke-width="1.3" />
<line x1="139.3" y1="291.6" x2="192.7" y2="291.6" stroke="#111" stroke-width="1.3" />
<line x1="139.5" y1="271.85" x2="142.5" y2="271.85" stroke="#111" stroke-width="1.1" />
<text x="134.9" y="276.05" font-size="8.5" text-anchor="end" fill="#222">10<tspan font-size="6.0" dy="-4.3">1</tspan></text>
<line x1="139.5" y1="252.10000000000002" x2="142.5" y2="252.10000000000002" stroke="#111" stroke-width="1.1" />
<text x="134.9" y="256.3" font-size="8.5" text-anchor="end" fill="#222">10<tspan font-size="6.0" dy="-4.3">2</tspan></text>
<line x1="139.5" y1="232.35000000000002" x2="142.5" y2="232.35000000000002" stroke="#111" stroke-width="1.1" />
<text x="134.9" y="236.55" font-size="8.5" text-anchor="end" fill="#222">10<tspan font-size="6.0" dy="-4.3">3</tspan></text>
<line x1="139.5" y1="212.60000000000002" x2="142.5" y2="212.60000000000002" stroke="#111" stroke-width="1.1" />
<text x="134.9" y="216.8" font-size="8.5" text-anchor="end" fill="#222">10<tspan font-size="6.0" dy="-4.3">4</tspan></text>
<line x1="139.5" y1="192.85000000000002" x2="142.5" y2="192.85000000000002" stroke="#111" stroke-width="1.1" />
<text x="134.9" y="197.05" font-size="8.5" text-anchor="end" fill="#222">10<tspan font-size="6.0" dy="-4.3">5</tspan></text>
<line x1="149.2" y1="291.6" x2="149.2" y2="294.90000000000003" stroke="#111" stroke-width="1.1" />
<text x="149.2" y="305.2" font-size="8.3" text-anchor="middle" font-weight="normal" fill="#222" >0</text>
<line x1="161.6" y1="291.6" x2="161.6" y2="294.90000000000003" stroke="#111" stroke-width="1.1" />
<text x="161.6" y="305.2" font-size="8.3" text-anchor="middle" font-weight="normal" fill="#222" >7</text>
<line x1="174.2" y1="291.6" x2="174.2" y2="294.90000000000003" stroke="#111" stroke-width="1.1" />
<text x="174.2" y="305.2" font-size="8.3" text-anchor="middle" font-weight="normal" fill="#222" >14</text>
<line x1="186.7" y1="291.6" x2="186.7" y2="294.90000000000003" stroke="#111" stroke-width="1.1" />
<text x="186.7" y="305.2" font-size="8.3" text-anchor="middle" font-weight="normal" fill="#222" >21</text>
<text x="167.7" y="183.6" font-size="10.2" text-anchor="middle" font-weight="normal" fill="#111" >Donor 2</text>
<polyline points="149.20,252.10 161.60,253.70 174.20,253.49 186.70,253.60" fill="none" stroke="#2B4874" stroke-width="1.3"/>
<rect x="146.80" y="249.70" width="4.8" height="4.8" fill="#eef3dd" stroke="#8FB040" stroke-width="1.0"/>
<rect x="184.20" y="204.55" width="5.0" height="5.0" fill="#eef3dd" stroke="#8FB040" stroke-width="1.0"/>
<polyline points="149.20,252.10 161.60,233.35 174.20,221.36 186.70,207.05" fill="none" stroke="#731526" stroke-width="1.7"/>
<circle cx="149.20" cy="252.10" r="2.5" fill="#fff" stroke="#2B4874" stroke-width="1.15"/>
<circle cx="161.60" cy="253.70" r="2.5" fill="#fff" stroke="#2B4874" stroke-width="1.15"/>
<circle cx="174.20" cy="253.49" r="2.5" fill="#fff" stroke="#2B4874" stroke-width="1.15"/>
<circle cx="186.70" cy="253.60" r="2.5" fill="#fff" stroke="#2B4874" stroke-width="1.15"/>
<path d="M149.20 248.90 L152.40 254.60 L146.00 254.60 Z" fill="#fdf3f4" stroke="#971831" stroke-width="1.4" stroke-linejoin="miter"/>
<path d="M161.60 230.15 L164.80 235.85 L158.40 235.85 Z" fill="#fdf3f4" stroke="#971831" stroke-width="1.4" stroke-linejoin="miter"/>
<path d="M174.20 218.16 L177.40 223.86 L171.00 223.86 Z" fill="#fdf3f4" stroke="#971831" stroke-width="1.4" stroke-linejoin="miter"/>
<path d="M186.70 203.85 L189.90 209.55 L183.50 209.55 Z" fill="#fdf3f4" stroke="#971831" stroke-width="1.4" stroke-linejoin="miter"/>
<line x1="230.5" y1="189.39999999999998" x2="230.5" y2="292.1" stroke="#111" stroke-width="1.3" />
<line x1="227.3" y1="291.5" x2="280.0" y2="291.5" stroke="#111" stroke-width="1.3" />
<line x1="227.5" y1="274.9" x2="230.5" y2="274.9" stroke="#111" stroke-width="1.1" />
<text x="222.9" y="279.09999999999997" font-size="8.5" text-anchor="end" fill="#222">10<tspan font-size="6.0" dy="-4.3">1</tspan></text>
<line x1="227.5" y1="258.3" x2="230.5" y2="258.3" stroke="#111" stroke-width="1.1" />
<text x="222.9" y="262.5" font-size="8.5" text-anchor="end" fill="#222">10<tspan font-size="6.0" dy="-4.3">2</tspan></text>
<line x1="227.5" y1="241.7" x2="230.5" y2="241.7" stroke="#111" stroke-width="1.1" />
<text x="222.9" y="245.89999999999998" font-size="8.5" text-anchor="end" fill="#222">10<tspan font-size="6.0" dy="-4.3">3</tspan></text>
<line x1="227.5" y1="225.1" x2="230.5" y2="225.1" stroke="#111" stroke-width="1.1" />
<text x="222.9" y="229.29999999999998" font-size="8.5" text-anchor="end" fill="#222">10<tspan font-size="6.0" dy="-4.3">4</tspan></text>
<line x1="227.5" y1="208.5" x2="230.5" y2="208.5" stroke="#111" stroke-width="1.1" />
<text x="222.9" y="212.7" font-size="8.5" text-anchor="end" fill="#222">10<tspan font-size="6.0" dy="-4.3">5</tspan></text>
<line x1="227.5" y1="191.89999999999998" x2="230.5" y2="191.89999999999998" stroke="#111" stroke-width="1.1" />
<text x="222.9" y="196.09999999999997" font-size="8.5" text-anchor="end" fill="#222">10<tspan font-size="6.0" dy="-4.3">6</tspan></text>
<line x1="236.9" y1="291.5" x2="236.9" y2="294.8" stroke="#111" stroke-width="1.1" />
<text x="236.9" y="305.2" font-size="8.3" text-anchor="middle" font-weight="normal" fill="#222" >0</text>
<line x1="249.1" y1="291.5" x2="249.1" y2="294.8" stroke="#111" stroke-width="1.1" />
<text x="249.1" y="305.2" font-size="8.3" text-anchor="middle" font-weight="normal" fill="#222" >7</text>
<line x1="261.5" y1="291.5" x2="261.5" y2="294.8" stroke="#111" stroke-width="1.1" />
<text x="261.5" y="305.2" font-size="8.3" text-anchor="middle" font-weight="normal" fill="#222" >14</text>
<line x1="274.0" y1="291.5" x2="274.0" y2="294.8" stroke="#111" stroke-width="1.1" />
<text x="274.0" y="305.2" font-size="8.3" text-anchor="middle" font-weight="normal" fill="#222" >21</text>
<text x="254.0" y="183.6" font-size="10.2" text-anchor="middle" font-weight="normal" fill="#111" >Donor 3</text>
<polyline points="236.90,258.30 249.10,269.55 261.50,266.98 274.00,266.98" fill="none" stroke="#2B4874" stroke-width="1.3"/>
<rect x="234.70" y="256.10" width="4.4" height="4.4" fill="#eef3dd" stroke="#8FB040" stroke-width="1.0"/>
<rect x="259.20" y="218.97" width="4.6" height="4.6" fill="#eef3dd" stroke="#8FB040" stroke-width="1.0"/>
<rect x="271.40" y="194.40" width="5.2" height="5.2" fill="#eef3dd" stroke="#8FB040" stroke-width="1.0"/>
<polyline points="236.90,258.30 249.10,244.05 261.50,221.27 274.00,201.10" fill="none" stroke="#731526" stroke-width="1.7"/>
<circle cx="236.90" cy="258.30" r="2.5" fill="#fff" stroke="#2B4874" stroke-width="1.15"/>
<circle cx="249.10" cy="269.55" r="2.5" fill="#fff" stroke="#2B4874" stroke-width="1.15"/>
<circle cx="261.50" cy="266.98" r="2.5" fill="#fff" stroke="#2B4874" stroke-width="1.15"/>
<circle cx="274.00" cy="266.98" r="2.5" fill="#fff" stroke="#2B4874" stroke-width="1.15"/>
<path d="M236.90 255.10 L240.10 260.80 L233.70 260.80 Z" fill="#fdf3f4" stroke="#971831" stroke-width="1.4" stroke-linejoin="miter"/>
<path d="M249.10 240.85 L252.30 246.55 L245.90 246.55 Z" fill="#fdf3f4" stroke="#971831" stroke-width="1.4" stroke-linejoin="miter"/>
<path d="M261.50 218.07 L264.70 223.77 L258.30 223.77 Z" fill="#fdf3f4" stroke="#971831" stroke-width="1.4" stroke-linejoin="miter"/>
<path d="M274.00 197.90 L277.20 203.60 L270.80 203.60 Z" fill="#fdf3f4" stroke="#971831" stroke-width="1.4" stroke-linejoin="miter"/>
<text transform="translate(28.0,241) rotate(-90)" x="0" y="0" font-size="9.2" text-anchor="middle" textLength="41.5" lengthAdjust="spacingAndGlyphs" fill="#111" stroke="#111" stroke-width="0.3">% input cells</text>
<text x="144" y="316.8" font-size="9.2" textLength="47.8" lengthAdjust="spacingAndGlyphs" fill="#111" stroke="#111" stroke-width="0.3">Days in culture</text>
<circle cx="295.7" cy="228.0" r="1.9" fill="#fff" stroke="#2B4874" stroke-width="1.1"/>
<rect x="293.6" y="238.4" width="4.3" height="4.3" fill="#eef3dd" stroke="#8FB040" stroke-width="1.0"/>
<path d="M295.8 250.5 L298.3 255.2 L293.3 255.2 Z" fill="#fff" stroke="#971831" stroke-width="1.1"/>
<text x="303.2" y="230.7" font-size="8.0" text-anchor="start" font-weight="normal" fill="#222" >Control</text>
<text x="303.2" y="242.7" font-size="8.0" text-anchor="start" font-weight="normal" fill="#222" >CAR+mCherry</text>
<text x="303.2" y="255.4" font-size="8.0" text-anchor="start" font-weight="normal" fill="#222" textLength="43.6" lengthAdjust="spacingAndGlyphs">CAR+PEBL</text>
</svg>
<svg width="520" height="328" viewBox="0 0 520 328">
<rect x="0" y="0" width="1.4" height="328" fill="#000"/>
<rect x="0" y="0" width="520" height="1.2" fill="#000"/>
<rect x="518.3" y="0" width="1.7" height="328" fill="#000"/>
<rect x="0" y="326.3" width="520" height="1.7" fill="#000"/>
</svg>
</body></html>
